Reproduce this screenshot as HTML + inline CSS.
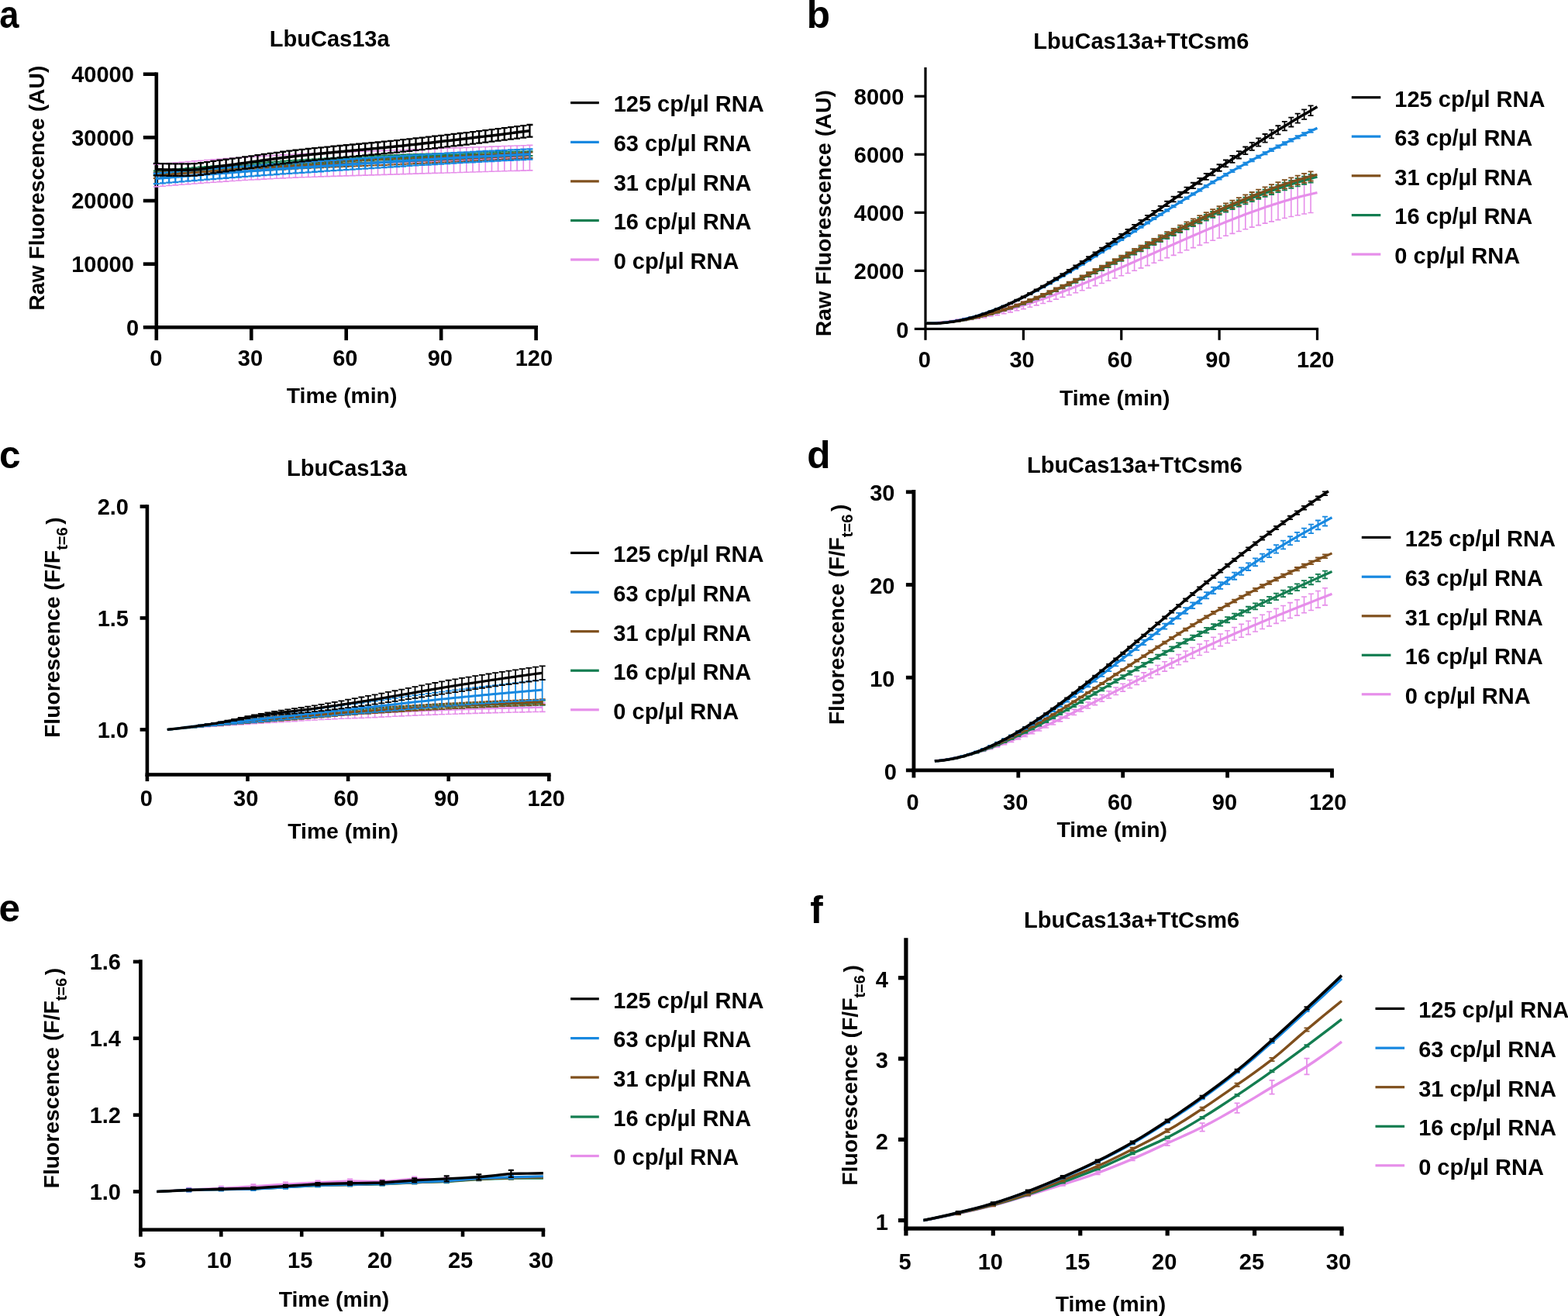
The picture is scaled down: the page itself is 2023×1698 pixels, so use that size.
<!DOCTYPE html>
<html><head><meta charset="utf-8"><title>Figure</title>
<style>
html,body{margin:0;padding:0;background:#fff;overflow:hidden;}
svg{display:block;}
text{font-family:"Liberation Sans",Arial,Helvetica,sans-serif;font-weight:bold;fill:#000;}
</style></head><body>
<svg width="2023" height="1698" viewBox="0 0 2023 1698">
<rect x="0" y="0" width="2023" height="1698" fill="#fff"/>
<text transform="translate(-0.71,36) scale(0.915,1)" font-size="49.5">a</text>
<text x="1040.83" y="35.8" font-size="49.5">b</text>
<text x="-0.93" y="604.3" font-size="49.5">c</text>
<text x="1041.27" y="604.2" font-size="49.5">d</text>
<text x="-1.43" y="1188.8" font-size="49.5">e</text>
<text x="1045.26" y="1191" font-size="49.5">f</text>
<rect x="199.5" y="93.4" width="4.6" height="331.2" fill="#000"/>
<rect x="199.5" y="420" width="494.5" height="4.6" fill="#000"/>
<rect x="184.8" y="420" width="17" height="4.6" fill="#000"/>
<rect x="184.8" y="338.35" width="17" height="4.6" fill="#000"/>
<rect x="184.8" y="256.7" width="17" height="4.6" fill="#000"/>
<rect x="184.8" y="175.05" width="17" height="4.6" fill="#000"/>
<rect x="184.8" y="93.4" width="17" height="4.6" fill="#000"/>
<rect x="199.5" y="422.3" width="4.6" height="16.8" fill="#000"/>
<rect x="321.95" y="422.3" width="4.6" height="16.8" fill="#000"/>
<rect x="444.4" y="422.3" width="4.6" height="16.8" fill="#000"/>
<rect x="566.85" y="422.3" width="4.6" height="16.8" fill="#000"/>
<rect x="689.3" y="422.3" width="4.6" height="16.8" fill="#000"/>
<text x="172.8" y="350.95" font-size="29" text-anchor="end">10000</text>
<text x="172.8" y="269.3" font-size="29" text-anchor="end">20000</text>
<text x="172.8" y="187.65" font-size="29" text-anchor="end">30000</text>
<text x="172.8" y="106" font-size="29" text-anchor="end">40000</text>
<text x="179.2" y="432.6" font-size="29" text-anchor="end">0</text>
<text x="201.3" y="472" font-size="29" text-anchor="middle">0</text>
<text x="322.9" y="472" font-size="29" text-anchor="middle">30</text>
<text x="445.3" y="472" font-size="29" text-anchor="middle">60</text>
<text x="567.8" y="472" font-size="29" text-anchor="middle">90</text>
<text x="688.9" y="472" font-size="29" text-anchor="middle">120</text>
<text x="347.86" y="60" font-size="29">LbuCas13a</text>
<text x="369.79" y="519.9" font-size="28.3">Time (min)</text>
<text transform="translate(57.1,400.7) rotate(-90)" font-size="28.3">Raw Fluorescence (AU)</text>
<path d="M201.8,212.13V240.87M197.8,212.13H205.8M197.8,240.87H205.8M209.96,211.39V240.19M205.96,211.39H213.96M205.96,240.19H213.96M218.13,210.66V239.53M214.13,210.66H222.13M214.13,239.53H222.13M226.29,209.94V238.87M222.29,209.94H230.29M222.29,238.87H230.29M234.45,209.23V238.23M230.45,209.23H238.45M230.45,238.23H238.45M242.62,208.54V237.6M238.62,208.54H246.62M238.62,237.6H246.62M250.78,207.86V236.98M246.78,207.86H254.78M246.78,236.98H254.78M258.94,207.19V236.38M254.94,207.19H262.94M254.94,236.38H262.94M267.11,206.54V235.79M263.11,206.54H271.11M263.11,235.79H271.11M275.27,205.9V235.21M271.27,205.9H279.27M271.27,235.21H279.27M283.43,205.27V234.65M279.43,205.27H287.43M279.43,234.65H287.43M291.6,204.66V234.1M287.6,204.66H295.6M287.6,234.1H295.6M299.76,204.07V233.57M295.76,204.07H303.76M295.76,233.57H303.76M307.92,203.49V233.05M303.92,203.49H311.92M303.92,233.05H311.92M316.09,202.92V232.55M312.09,202.92H320.09M312.09,232.55H320.09M324.25,202.37V232.07M320.25,202.37H328.25M320.25,232.07H328.25M332.41,201.84V231.6M328.41,201.84H336.41M328.41,231.6H336.41M340.58,201.33V231.15M336.58,201.33H344.58M336.58,231.15H344.58M348.74,200.83V230.72M344.74,200.83H352.74M344.74,230.72H352.74M356.9,200.35V230.3M352.9,200.35H360.9M352.9,230.3H360.9M365.07,199.89V229.9M361.07,199.89H369.07M361.07,229.9H369.07M373.23,199.45V229.52M369.23,199.45H377.23M369.23,229.52H377.23M381.39,199.02V229.16M377.39,199.02H385.39M377.39,229.16H385.39M389.56,198.62V228.82M385.56,198.62H393.56M385.56,228.82H393.56M397.72,198.23V228.5M393.72,198.23H401.72M393.72,228.5H401.72M405.88,197.86V228.19M401.88,197.86H409.88M401.88,228.19H409.88M414.05,197.5V227.89M410.05,197.5H418.05M410.05,227.89H418.05M422.21,197.15V227.61M418.21,197.15H426.21M418.21,227.61H426.21M430.37,196.82V227.34M426.37,196.82H434.37M426.37,227.34H434.37M438.54,196.5V227.08M434.54,196.5H442.54M434.54,227.08H442.54M446.7,196.18V226.83M442.7,196.18H450.7M442.7,226.83H450.7M454.86,195.87V226.59M450.86,195.87H458.86M450.86,226.59H458.86M463.03,195.57V226.35M459.03,195.57H467.03M459.03,226.35H467.03M471.19,195.27V226.11M467.19,195.27H475.19M467.19,226.11H475.19M479.35,194.97V225.87M475.35,194.97H483.35M475.35,225.87H483.35M487.52,194.67V225.64M483.52,194.67H491.52M483.52,225.64H491.52M495.68,194.37V225.4M491.68,194.37H499.68M491.68,225.4H499.68M503.84,194.06V225.16M499.84,194.06H507.84M499.84,225.16H507.84M512.01,193.75V224.91M508.01,193.75H516.01M508.01,224.91H516.01M520.17,193.44V224.66M516.17,193.44H524.17M516.17,224.66H524.17M528.33,193.13V224.41M524.33,193.13H532.33M524.33,224.41H532.33M536.5,192.81V224.16M532.5,192.81H540.5M532.5,224.16H540.5M544.66,192.5V223.91M540.66,192.5H548.66M540.66,223.91H548.66M552.82,192.19V223.67M548.82,192.19H556.82M548.82,223.67H556.82M560.99,191.88V223.42M556.99,191.88H564.99M556.99,223.42H564.99M569.15,191.57V223.18M565.15,191.57H573.15M565.15,223.18H573.15M577.31,191.26V222.93M573.31,191.26H581.31M573.31,222.93H581.31M585.48,190.96V222.69M581.48,190.96H589.48M581.48,222.69H589.48M593.64,190.65V222.45M589.64,190.65H597.64M589.64,222.45H597.64M601.8,190.35V222.21M597.8,190.35H605.8M597.8,222.21H605.8M609.97,190.05V221.97M605.97,190.05H613.97M605.97,221.97H613.97M618.13,189.75V221.73M614.13,189.75H622.13M614.13,221.73H622.13M626.29,189.45V221.5M622.29,189.45H630.29M622.29,221.5H630.29M634.46,189.15V221.26M630.46,189.15H638.46M630.46,221.26H638.46M642.62,188.85V221.03M638.62,188.85H646.62M638.62,221.03H646.62M650.78,188.56V220.8M646.78,188.56H654.78M646.78,220.8H654.78M658.95,188.26V220.57M654.95,188.26H662.95M654.95,220.57H662.95M667.11,187.97V220.34M663.11,187.97H671.11M663.11,220.34H671.11M675.27,187.68V220.11M671.27,187.68H679.27M671.27,220.11H679.27M683.44,187.39V219.89M679.44,187.39H687.44M679.44,219.89H687.44" stroke="#E68EEA" stroke-width="1.6" fill="none"/>
<path d="M201.8,226.5 L203.84,226.32 L205.88,226.15 L207.92,225.97 L209.96,225.79 L212,225.62 L214.05,225.44 L216.09,225.27 L218.13,225.09 L220.17,224.92 L222.21,224.75 L224.25,224.58 L226.29,224.41 L228.33,224.24 L230.37,224.07 L232.41,223.9 L234.45,223.73 L236.49,223.56 L238.54,223.4 L240.58,223.23 L242.62,223.07 L244.66,222.9 L246.7,222.74 L248.74,222.58 L250.78,222.42 L252.82,222.26 L254.86,222.1 L256.9,221.94 L258.94,221.78 L260.98,221.63 L263.03,221.47 L265.07,221.32 L267.11,221.16 L269.15,221.01 L271.19,220.86 L273.23,220.7 L275.27,220.55 L277.31,220.4 L279.35,220.25 L281.39,220.11 L283.43,219.96 L285.47,219.81 L287.51,219.67 L289.56,219.52 L291.6,219.38 L293.64,219.24 L295.68,219.1 L297.72,218.96 L299.76,218.82 L301.8,218.68 L303.84,218.54 L305.88,218.4 L307.92,218.27 L309.96,218.13 L312,218 L314.05,217.87 L316.09,217.74 L318.13,217.61 L320.17,217.48 L322.21,217.35 L324.25,217.22 L326.29,217.09 L328.33,216.97 L330.37,216.85 L332.41,216.72 L334.45,216.6 L336.5,216.48 L338.54,216.36 L340.58,216.24 L342.62,216.12 L344.66,216 L346.7,215.89 L348.74,215.77 L350.78,215.66 L352.82,215.55 L354.86,215.44 L356.9,215.33 L358.94,215.22 L360.99,215.11 L363.03,215 L365.07,214.9 L367.11,214.79 L369.15,214.69 L371.19,214.59 L373.23,214.49 L375.27,214.39 L377.31,214.29 L379.35,214.19 L381.39,214.09 L383.43,214 L385.48,213.9 L387.52,213.81 L389.56,213.72 L391.6,213.63 L393.64,213.54 L395.68,213.45 L397.72,213.36 L399.76,213.28 L401.8,213.19 L403.84,213.11 L405.88,213.02 L407.92,212.94 L409.97,212.86 L412.01,212.78 L414.05,212.7 L416.09,212.62 L418.13,212.54 L420.17,212.46 L422.21,212.38 L424.25,212.31 L426.29,212.23 L428.33,212.16 L430.37,212.08 L432.41,212.01 L434.46,211.94 L436.5,211.86 L438.54,211.79 L440.58,211.72 L442.62,211.65 L444.66,211.58 L446.7,211.51 L448.74,211.44 L450.78,211.37 L452.82,211.3 L454.86,211.23 L456.9,211.16 L458.95,211.09 L460.99,211.03 L463.03,210.96 L465.07,210.89 L467.11,210.82 L469.15,210.76 L471.19,210.69 L473.23,210.62 L475.27,210.55 L477.31,210.49 L479.35,210.42 L481.39,210.35 L483.44,210.29 L485.48,210.22 L487.52,210.15 L489.56,210.09 L491.6,210.02 L493.64,209.95 L495.68,209.88 L497.72,209.82 L499.76,209.75 L501.8,209.68 L503.84,209.61 L505.88,209.54 L507.93,209.47 L509.97,209.4 L512.01,209.33 L514.05,209.26 L516.09,209.19 L518.13,209.12 L520.17,209.05 L522.21,208.98 L524.25,208.91 L526.29,208.84 L528.33,208.77 L530.37,208.7 L532.41,208.63 L534.46,208.56 L536.5,208.49 L538.54,208.42 L540.58,208.35 L542.62,208.28 L544.66,208.21 L546.7,208.14 L548.74,208.07 L550.78,208 L552.82,207.93 L554.86,207.86 L556.9,207.79 L558.95,207.72 L560.99,207.65 L563.03,207.58 L565.07,207.51 L567.11,207.44 L569.15,207.37 L571.19,207.3 L573.23,207.24 L575.27,207.17 L577.31,207.1 L579.35,207.03 L581.39,206.96 L583.44,206.89 L585.48,206.82 L587.52,206.76 L589.56,206.69 L591.6,206.62 L593.64,206.55 L595.68,206.48 L597.72,206.42 L599.76,206.35 L601.8,206.28 L603.84,206.21 L605.88,206.14 L607.93,206.08 L609.97,206.01 L612.01,205.94 L614.05,205.87 L616.09,205.81 L618.13,205.74 L620.17,205.67 L622.21,205.61 L624.25,205.54 L626.29,205.47 L628.33,205.41 L630.38,205.34 L632.42,205.27 L634.46,205.21 L636.5,205.14 L638.54,205.07 L640.58,205.01 L642.62,204.94 L644.66,204.88 L646.7,204.81 L648.74,204.74 L650.78,204.68 L652.82,204.61 L654.87,204.55 L656.91,204.48 L658.95,204.42 L660.99,204.35 L663.03,204.29 L665.07,204.22 L667.11,204.16 L669.15,204.09 L671.19,204.03 L673.23,203.96 L675.27,203.9 L677.31,203.83 L679.36,203.77 L681.4,203.71 L683.44,203.64" stroke="#E68EEA" stroke-width="2.6" fill="none" stroke-linejoin="round" stroke-linecap="butt"/>
<path d="M201.8,220.46V226.18M197.8,220.46H205.8M197.8,226.18H205.8M209.96,219.74V225.46M205.96,219.74H213.96M205.96,225.46H213.96M218.13,219.03V224.75M214.13,219.03H222.13M214.13,224.75H222.13M226.29,218.33V224.05M222.29,218.33H230.29M222.29,224.05H230.29M234.45,217.64V223.36M230.45,217.64H238.45M230.45,223.36H238.45M242.62,216.96V222.68M238.62,216.96H246.62M238.62,222.68H246.62M250.78,216.29V222M246.78,216.29H254.78M246.78,222H254.78M258.94,215.62V221.34M254.94,215.62H262.94M254.94,221.34H262.94M267.11,214.97V220.68M263.11,214.97H271.11M263.11,220.68H271.11M275.27,214.32V220.04M271.27,214.32H279.27M271.27,220.04H279.27M283.43,213.68V219.4M279.43,213.68H287.43M279.43,219.4H287.43M291.6,213.05V218.77M287.6,213.05H295.6M287.6,218.77H295.6M299.76,212.43V218.14M295.76,212.43H303.76M295.76,218.14H303.76M307.92,211.81V217.52M303.92,211.81H311.92M303.92,217.52H311.92M316.09,211.2V216.91M312.09,211.2H320.09M312.09,216.91H320.09M324.25,210.6V216.32M320.25,210.6H328.25M320.25,216.32H328.25M332.41,210.03V215.74M328.41,210.03H336.41M328.41,215.74H336.41M340.58,209.47V215.18M336.58,209.47H344.58M336.58,215.18H344.58M348.74,208.92V214.64M344.74,208.92H352.74M344.74,214.64H352.74M356.9,208.38V214.1M352.9,208.38H360.9M352.9,214.1H360.9M365.07,207.84V213.56M361.07,207.84H369.07M361.07,213.56H369.07M373.23,207.3V213.01M369.23,207.3H377.23M369.23,213.01H377.23M381.39,206.76V212.48M377.39,206.76H385.39M377.39,212.48H385.39M389.56,206.23V211.94M385.56,206.23H393.56M385.56,211.94H393.56M397.72,205.7V211.41M393.72,205.7H401.72M393.72,211.41H401.72M405.88,205.18V210.89M401.88,205.18H409.88M401.88,210.89H409.88M414.05,204.67V210.39M410.05,204.67H418.05M410.05,210.39H418.05M422.21,204.17V209.89M418.21,204.17H426.21M418.21,209.89H426.21M430.37,203.69V209.41M426.37,203.69H434.37M426.37,209.41H434.37M438.54,203.22V208.94M434.54,203.22H442.54M434.54,208.94H442.54M446.7,202.78V208.49M442.7,202.78H450.7M442.7,208.49H450.7M454.86,202.35V208.06M450.86,202.35H458.86M450.86,208.06H458.86M463.03,201.94V207.65M459.03,201.94H467.03M459.03,207.65H467.03M471.19,201.56V207.27M467.19,201.56H475.19M467.19,207.27H475.19M479.35,201.2V206.91M475.35,201.2H483.35M475.35,206.91H483.35M487.52,200.87V206.58M483.52,200.87H491.52M483.52,206.58H491.52M495.68,200.55V206.26M491.68,200.55H499.68M491.68,206.26H499.68M503.84,200.24V205.95M499.84,200.24H507.84M499.84,205.95H507.84M512.01,199.93V205.64M508.01,199.93H516.01M508.01,205.64H516.01M520.17,199.62V205.34M516.17,199.62H524.17M516.17,205.34H524.17M528.33,199.32V205.04M524.33,199.32H532.33M524.33,205.04H532.33M536.5,199.03V204.74M532.5,199.03H540.5M532.5,204.74H540.5M544.66,198.74V204.46M540.66,198.74H548.66M540.66,204.46H548.66M552.82,198.46V204.17M548.82,198.46H556.82M548.82,204.17H556.82M560.99,198.18V203.9M556.99,198.18H564.99M556.99,203.9H564.99M569.15,197.92V203.63M565.15,197.92H573.15M565.15,203.63H573.15M577.31,197.66V203.37M573.31,197.66H581.31M573.31,203.37H581.31M585.48,197.41V203.12M581.48,197.41H589.48M581.48,203.12H589.48M593.64,197.17V202.88M589.64,197.17H597.64M589.64,202.88H597.64M601.8,196.94V202.65M597.8,196.94H605.8M597.8,202.65H605.8M609.97,196.72V202.43M605.97,196.72H613.97M605.97,202.43H613.97M618.13,196.51V202.22M614.13,196.51H622.13M614.13,202.22H622.13M626.29,196.31V202.03M622.29,196.31H630.29M622.29,202.03H630.29M634.46,196.13V201.84M630.46,196.13H638.46M630.46,201.84H638.46M642.62,195.96V201.67M638.62,195.96H646.62M638.62,201.67H646.62M650.78,195.8V201.51M646.78,195.8H654.78M646.78,201.51H654.78M658.95,195.65V201.37M654.95,195.65H662.95M654.95,201.37H662.95M667.11,195.52V201.24M663.11,195.52H671.11M663.11,201.24H671.11M675.27,195.41V201.13M671.27,195.41H679.27M671.27,201.13H679.27M683.44,195.31V201.03M679.44,195.31H687.44M679.44,201.03H687.44" stroke="#137D50" stroke-width="2" fill="none"/>
<path d="M201.8,223.32 L203.84,223.14 L205.88,222.96 L207.92,222.78 L209.96,222.6 L212,222.42 L214.05,222.25 L216.09,222.07 L218.13,221.89 L220.17,221.72 L222.21,221.54 L224.25,221.37 L226.29,221.19 L228.33,221.02 L230.37,220.85 L232.41,220.67 L234.45,220.5 L236.49,220.33 L238.54,220.16 L240.58,219.99 L242.62,219.82 L244.66,219.65 L246.7,219.48 L248.74,219.31 L250.78,219.15 L252.82,218.98 L254.86,218.81 L256.9,218.65 L258.94,218.48 L260.98,218.32 L263.03,218.15 L265.07,217.99 L267.11,217.83 L269.15,217.66 L271.19,217.5 L273.23,217.34 L275.27,217.18 L277.31,217.02 L279.35,216.86 L281.39,216.7 L283.43,216.54 L285.47,216.38 L287.51,216.23 L289.56,216.07 L291.6,215.91 L293.64,215.75 L295.68,215.6 L297.72,215.44 L299.76,215.28 L301.8,215.13 L303.84,214.97 L305.88,214.82 L307.92,214.66 L309.96,214.51 L312,214.36 L314.05,214.21 L316.09,214.06 L318.13,213.91 L320.17,213.76 L322.21,213.61 L324.25,213.46 L326.29,213.32 L328.33,213.17 L330.37,213.03 L332.41,212.88 L334.45,212.74 L336.5,212.6 L338.54,212.46 L340.58,212.32 L342.62,212.19 L344.66,212.05 L346.7,211.92 L348.74,211.78 L350.78,211.65 L352.82,211.51 L354.86,211.38 L356.9,211.24 L358.94,211.1 L360.99,210.97 L363.03,210.83 L365.07,210.7 L367.11,210.56 L369.15,210.43 L371.19,210.29 L373.23,210.16 L375.27,210.02 L377.31,209.89 L379.35,209.75 L381.39,209.62 L383.43,209.48 L385.48,209.35 L387.52,209.22 L389.56,209.08 L391.6,208.95 L393.64,208.82 L395.68,208.69 L397.72,208.56 L399.76,208.43 L401.8,208.3 L403.84,208.17 L405.88,208.04 L407.92,207.91 L409.97,207.78 L412.01,207.65 L414.05,207.53 L416.09,207.4 L418.13,207.28 L420.17,207.15 L422.21,207.03 L424.25,206.91 L426.29,206.79 L428.33,206.67 L430.37,206.55 L432.41,206.43 L434.46,206.31 L436.5,206.2 L438.54,206.08 L440.58,205.97 L442.62,205.86 L444.66,205.74 L446.7,205.63 L448.74,205.52 L450.78,205.42 L452.82,205.31 L454.86,205.2 L456.9,205.1 L458.95,205 L460.99,204.9 L463.03,204.8 L465.07,204.7 L467.11,204.6 L469.15,204.51 L471.19,204.41 L473.23,204.32 L475.27,204.23 L477.31,204.14 L479.35,204.05 L481.39,203.97 L483.44,203.89 L485.48,203.8 L487.52,203.72 L489.56,203.64 L491.6,203.56 L493.64,203.49 L495.68,203.41 L497.72,203.33 L499.76,203.25 L501.8,203.17 L503.84,203.09 L505.88,203.02 L507.93,202.94 L509.97,202.86 L512.01,202.79 L514.05,202.71 L516.09,202.63 L518.13,202.56 L520.17,202.48 L522.21,202.41 L524.25,202.33 L526.29,202.26 L528.33,202.18 L530.37,202.11 L532.41,202.03 L534.46,201.96 L536.5,201.89 L538.54,201.81 L540.58,201.74 L542.62,201.67 L544.66,201.6 L546.7,201.53 L548.74,201.46 L550.78,201.39 L552.82,201.32 L554.86,201.25 L556.9,201.18 L558.95,201.11 L560.99,201.04 L563.03,200.97 L565.07,200.91 L567.11,200.84 L569.15,200.77 L571.19,200.71 L573.23,200.64 L575.27,200.58 L577.31,200.52 L579.35,200.45 L581.39,200.39 L583.44,200.33 L585.48,200.27 L587.52,200.2 L589.56,200.14 L591.6,200.08 L593.64,200.02 L595.68,199.97 L597.72,199.91 L599.76,199.85 L601.8,199.79 L603.84,199.74 L605.88,199.68 L607.93,199.63 L609.97,199.57 L612.01,199.52 L614.05,199.47 L616.09,199.42 L618.13,199.37 L620.17,199.32 L622.21,199.27 L624.25,199.22 L626.29,199.17 L628.33,199.12 L630.38,199.08 L632.42,199.03 L634.46,198.99 L636.5,198.94 L638.54,198.9 L640.58,198.86 L642.62,198.81 L644.66,198.77 L646.7,198.73 L648.74,198.69 L650.78,198.66 L652.82,198.62 L654.87,198.58 L656.91,198.55 L658.95,198.51 L660.99,198.48 L663.03,198.45 L665.07,198.41 L667.11,198.38 L669.15,198.35 L671.19,198.32 L673.23,198.3 L675.27,198.27 L677.31,198.24 L679.36,198.22 L681.4,198.19 L683.44,198.17" stroke="#137D50" stroke-width="3.4" fill="none" stroke-linejoin="round" stroke-linecap="butt"/>
<path d="M201.8,222.67V230.01M197.8,222.67H205.8M197.8,230.01H205.8M209.96,221.99V229.34M205.96,221.99H213.96M205.96,229.34H213.96M218.13,221.33V228.68M214.13,221.33H222.13M214.13,228.68H222.13M226.29,220.68V228.03M222.29,220.68H230.29M222.29,228.03H230.29M234.45,220.04V227.39M230.45,220.04H238.45M230.45,227.39H238.45M242.62,219.41V226.75M238.62,219.41H246.62M238.62,226.75H246.62M250.78,218.78V226.13M246.78,218.78H254.78M246.78,226.13H254.78M258.94,218.17V225.52M254.94,218.17H262.94M254.94,225.52H262.94M267.11,217.57V224.92M263.11,217.57H271.11M263.11,224.92H271.11M275.27,216.99V224.33M271.27,216.99H279.27M271.27,224.33H279.27M283.43,216.41V223.76M279.43,216.41H287.43M279.43,223.76H287.43M291.6,215.84V223.19M287.6,215.84H295.6M287.6,223.19H295.6M299.76,215.29V222.64M295.76,215.29H303.76M295.76,222.64H303.76M307.92,214.74V222.09M303.92,214.74H311.92M303.92,222.09H311.92M316.09,214.21V221.56M312.09,214.21H320.09M312.09,221.56H320.09M324.25,213.7V221.04M320.25,213.7H328.25M320.25,221.04H328.25M332.41,213.19V220.54M328.41,213.19H336.41M328.41,220.54H336.41M340.58,212.7V220.04M336.58,212.7H344.58M336.58,220.04H344.58M348.74,212.21V219.56M344.74,212.21H352.74M344.74,219.56H352.74M356.9,211.75V219.09M352.9,211.75H360.9M352.9,219.09H360.9M365.07,211.29V218.64M361.07,211.29H369.07M361.07,218.64H369.07M373.23,210.85V218.2M369.23,210.85H377.23M369.23,218.2H377.23M381.39,210.42V217.77M377.39,210.42H385.39M377.39,217.77H385.39M389.56,210.01V217.35M385.56,210.01H393.56M385.56,217.35H393.56M397.72,209.61V216.96M393.72,209.61H401.72M393.72,216.96H401.72M405.88,209.24V216.59M401.88,209.24H409.88M401.88,216.59H409.88M414.05,208.88V216.22M410.05,208.88H418.05M410.05,216.22H418.05M422.21,208.53V215.87M418.21,208.53H426.21M418.21,215.87H426.21M430.37,208.19V215.54M426.37,208.19H434.37M426.37,215.54H434.37M438.54,207.86V215.21M434.54,207.86H442.54M434.54,215.21H442.54M446.7,207.53V214.88M442.7,207.53H450.7M442.7,214.88H450.7M454.86,207.21V214.56M450.86,207.21H458.86M450.86,214.56H458.86M463.03,206.89V214.24M459.03,206.89H467.03M459.03,214.24H467.03M471.19,206.57V213.92M467.19,206.57H475.19M467.19,213.92H475.19M479.35,206.25V213.6M475.35,206.25H483.35M475.35,213.6H483.35M487.52,205.92V213.27M483.52,205.92H491.52M483.52,213.27H491.52M495.68,205.59V212.93M491.68,205.59H499.68M491.68,212.93H499.68M503.84,205.24V212.59M499.84,205.24H507.84M499.84,212.59H507.84M512.01,204.89V212.23M508.01,204.89H516.01M508.01,212.23H516.01M520.17,204.52V211.87M516.17,204.52H524.17M516.17,211.87H524.17M528.33,204.15V211.49M524.33,204.15H532.33M524.33,211.49H532.33M536.5,203.77V211.12M532.5,203.77H540.5M532.5,211.12H540.5M544.66,203.39V210.74M540.66,203.39H548.66M540.66,210.74H548.66M552.82,203.01V210.36M548.82,203.01H556.82M548.82,210.36H556.82M560.99,202.63V209.98M556.99,202.63H564.99M556.99,209.98H564.99M569.15,202.24V209.59M565.15,202.24H573.15M565.15,209.59H573.15M577.31,201.85V209.2M573.31,201.85H581.31M573.31,209.2H581.31M585.48,201.46V208.81M581.48,201.46H589.48M581.48,208.81H589.48M593.64,201.07V208.41M589.64,201.07H597.64M589.64,208.41H597.64M601.8,200.67V208.02M597.8,200.67H605.8M597.8,208.02H605.8M609.97,200.27V207.62M605.97,200.27H613.97M605.97,207.62H613.97M618.13,199.86V207.21M614.13,199.86H622.13M614.13,207.21H622.13M626.29,199.46V206.81M622.29,199.46H630.29M622.29,206.81H630.29M634.46,199.05V206.4M630.46,199.05H638.46M630.46,206.4H638.46M642.62,198.64V205.99M638.62,198.64H646.62M638.62,205.99H646.62M650.78,198.22V205.57M646.78,198.22H654.78M646.78,205.57H654.78M658.95,197.81V205.15M654.95,197.81H662.95M654.95,205.15H662.95M667.11,197.39V204.73M663.11,197.39H671.11M663.11,204.73H671.11M675.27,196.96V204.31M671.27,196.96H679.27M671.27,204.31H679.27M683.44,196.54V203.89M679.44,196.54H687.44M679.44,203.89H687.44" stroke="#7F4F1C" stroke-width="2" fill="none"/>
<path d="M201.8,226.34 L203.84,226.17 L205.88,226 L207.92,225.84 L209.96,225.67 L212,225.5 L214.05,225.34 L216.09,225.17 L218.13,225.01 L220.17,224.84 L222.21,224.68 L224.25,224.52 L226.29,224.35 L228.33,224.19 L230.37,224.03 L232.41,223.87 L234.45,223.71 L236.49,223.55 L238.54,223.39 L240.58,223.24 L242.62,223.08 L244.66,222.92 L246.7,222.77 L248.74,222.61 L250.78,222.46 L252.82,222.3 L254.86,222.15 L256.9,222 L258.94,221.85 L260.98,221.7 L263.03,221.55 L265.07,221.4 L267.11,221.25 L269.15,221.1 L271.19,220.95 L273.23,220.81 L275.27,220.66 L277.31,220.51 L279.35,220.37 L281.39,220.23 L283.43,220.08 L285.47,219.94 L287.51,219.8 L289.56,219.66 L291.6,219.52 L293.64,219.38 L295.68,219.24 L297.72,219.1 L299.76,218.96 L301.8,218.83 L303.84,218.69 L305.88,218.55 L307.92,218.42 L309.96,218.29 L312,218.15 L314.05,218.02 L316.09,217.89 L318.13,217.76 L320.17,217.63 L322.21,217.5 L324.25,217.37 L326.29,217.24 L328.33,217.12 L330.37,216.99 L332.41,216.86 L334.45,216.74 L336.5,216.61 L338.54,216.49 L340.58,216.37 L342.62,216.25 L344.66,216.13 L346.7,216.01 L348.74,215.89 L350.78,215.77 L352.82,215.65 L354.86,215.54 L356.9,215.42 L358.94,215.3 L360.99,215.19 L363.03,215.08 L365.07,214.96 L367.11,214.85 L369.15,214.74 L371.19,214.63 L373.23,214.52 L375.27,214.41 L377.31,214.31 L379.35,214.2 L381.39,214.09 L383.43,213.99 L385.48,213.88 L387.52,213.78 L389.56,213.68 L391.6,213.58 L393.64,213.48 L395.68,213.38 L397.72,213.29 L399.76,213.19 L401.8,213.1 L403.84,213 L405.88,212.91 L407.92,212.82 L409.97,212.73 L412.01,212.64 L414.05,212.55 L416.09,212.46 L418.13,212.37 L420.17,212.29 L422.21,212.2 L424.25,212.11 L426.29,212.03 L428.33,211.95 L430.37,211.86 L432.41,211.78 L434.46,211.7 L436.5,211.61 L438.54,211.53 L440.58,211.45 L442.62,211.37 L444.66,211.29 L446.7,211.21 L448.74,211.13 L450.78,211.05 L452.82,210.97 L454.86,210.89 L456.9,210.81 L458.95,210.73 L460.99,210.65 L463.03,210.57 L465.07,210.49 L467.11,210.41 L469.15,210.33 L471.19,210.25 L473.23,210.17 L475.27,210.09 L477.31,210 L479.35,209.92 L481.39,209.84 L483.44,209.76 L485.48,209.68 L487.52,209.6 L489.56,209.51 L491.6,209.43 L493.64,209.34 L495.68,209.26 L497.72,209.18 L499.76,209.09 L501.8,209 L503.84,208.92 L505.88,208.83 L507.93,208.74 L509.97,208.65 L512.01,208.56 L514.05,208.47 L516.09,208.38 L518.13,208.28 L520.17,208.19 L522.21,208.1 L524.25,208.01 L526.29,207.91 L528.33,207.82 L530.37,207.73 L532.41,207.63 L534.46,207.54 L536.5,207.44 L538.54,207.35 L540.58,207.26 L542.62,207.16 L544.66,207.07 L546.7,206.97 L548.74,206.88 L550.78,206.78 L552.82,206.69 L554.86,206.59 L556.9,206.49 L558.95,206.4 L560.99,206.3 L563.03,206.21 L565.07,206.11 L567.11,206.01 L569.15,205.92 L571.19,205.82 L573.23,205.72 L575.27,205.62 L577.31,205.53 L579.35,205.43 L581.39,205.33 L583.44,205.23 L585.48,205.13 L587.52,205.04 L589.56,204.94 L591.6,204.84 L593.64,204.74 L595.68,204.64 L597.72,204.54 L599.76,204.44 L601.8,204.34 L603.84,204.24 L605.88,204.14 L607.93,204.04 L609.97,203.94 L612.01,203.84 L614.05,203.74 L616.09,203.64 L618.13,203.54 L620.17,203.44 L622.21,203.34 L624.25,203.23 L626.29,203.13 L628.33,203.03 L630.38,202.93 L632.42,202.83 L634.46,202.72 L636.5,202.62 L638.54,202.52 L640.58,202.42 L642.62,202.31 L644.66,202.21 L646.7,202.11 L648.74,202 L650.78,201.9 L652.82,201.79 L654.87,201.69 L656.91,201.59 L658.95,201.48 L660.99,201.38 L663.03,201.27 L665.07,201.17 L667.11,201.06 L669.15,200.96 L671.19,200.85 L673.23,200.74 L675.27,200.64 L677.31,200.53 L679.36,200.43 L681.4,200.32 L683.44,200.21" stroke="#7F4F1C" stroke-width="3.2" fill="none" stroke-linejoin="round" stroke-linecap="butt"/>
<path d="M201.8,223.73V237.12M197.8,223.73H205.8M197.8,237.12H205.8M209.96,223.02V236.41M205.96,223.02H213.96M205.96,236.41H213.96M218.13,222.33V235.72M214.13,222.33H222.13M214.13,235.72H222.13M226.29,221.63V235.03M222.29,221.63H230.29M222.29,235.03H230.29M234.45,220.95V234.34M230.45,220.95H238.45M230.45,234.34H238.45M242.62,220.27V233.66M238.62,220.27H246.62M238.62,233.66H246.62M250.78,219.6V233M246.78,219.6H254.78M246.78,233H254.78M258.94,218.94V232.33M254.94,218.94H262.94M254.94,232.33H262.94M267.11,218.29V231.68M263.11,218.29H271.11M263.11,231.68H271.11M275.27,217.64V231.03M271.27,217.64H279.27M271.27,231.03H279.27M283.43,217V230.39M279.43,217H287.43M279.43,230.39H287.43M291.6,216.37V229.76M287.6,216.37H295.6M287.6,229.76H295.6M299.76,215.75V229.14M295.76,215.75H303.76M295.76,229.14H303.76M307.92,215.13V228.52M303.92,215.13H311.92M303.92,228.52H311.92M316.09,214.53V227.92M312.09,214.53H320.09M312.09,227.92H320.09M324.25,213.93V227.32M320.25,213.93H328.25M320.25,227.32H328.25M332.41,213.34V226.73M328.41,213.34H336.41M328.41,226.73H336.41M340.58,212.76V226.15M336.58,212.76H344.58M336.58,226.15H344.58M348.74,212.19V225.58M344.74,212.19H352.74M344.74,225.58H352.74M356.9,211.63V225.02M352.9,211.63H360.9M352.9,225.02H360.9M365.07,211.07V224.46M361.07,211.07H369.07M361.07,224.46H369.07M373.23,210.52V223.91M369.23,210.52H377.23M369.23,223.91H377.23M381.39,209.98V223.37M377.39,209.98H385.39M377.39,223.37H385.39M389.56,209.44V222.83M385.56,209.44H393.56M385.56,222.83H393.56M397.72,208.91V222.3M393.72,208.91H401.72M393.72,222.3H401.72M405.88,208.38V221.77M401.88,208.38H409.88M401.88,221.77H409.88M414.05,207.85V221.24M410.05,207.85H418.05M410.05,221.24H418.05M422.21,207.33V220.72M418.21,207.33H426.21M418.21,220.72H426.21M430.37,206.81V220.2M426.37,206.81H434.37M426.37,220.2H434.37M438.54,206.29V219.68M434.54,206.29H442.54M434.54,219.68H442.54M446.7,205.76V219.15M442.7,205.76H450.7M442.7,219.15H450.7M454.86,205.24V218.63M450.86,205.24H458.86M450.86,218.63H458.86M463.03,204.72V218.11M459.03,204.72H467.03M459.03,218.11H467.03M471.19,204.2V217.59M467.19,204.2H475.19M467.19,217.59H475.19M479.35,203.67V217.06M475.35,203.67H483.35M475.35,217.06H483.35M487.52,203.15V216.54M483.52,203.15H491.52M483.52,216.54H491.52M495.68,202.63V216.02M491.68,202.63H499.68M491.68,216.02H499.68M503.84,202.11V215.5M499.84,202.11H507.84M499.84,215.5H507.84M512.01,201.6V214.99M508.01,201.6H516.01M508.01,214.99H516.01M520.17,201.09V214.48M516.17,201.09H524.17M516.17,214.48H524.17M528.33,200.58V213.97M524.33,200.58H532.33M524.33,213.97H532.33M536.5,200.08V213.47M532.5,200.08H540.5M532.5,213.47H540.5M544.66,199.58V212.97M540.66,199.58H548.66M540.66,212.97H548.66M552.82,199.09V212.48M548.82,199.09H556.82M548.82,212.48H556.82M560.99,198.6V211.99M556.99,198.6H564.99M556.99,211.99H564.99M569.15,198.12V211.51M565.15,198.12H573.15M565.15,211.51H573.15M577.31,197.65V211.04M573.31,197.65H581.31M573.31,211.04H581.31M585.48,197.19V210.58M581.48,197.19H589.48M581.48,210.58H589.48M593.64,196.74V210.13M589.64,196.74H597.64M589.64,210.13H597.64M601.8,196.29V209.68M597.8,196.29H605.8M597.8,209.68H605.8M609.97,195.86V209.25M605.97,195.86H613.97M605.97,209.25H613.97M618.13,195.43V208.82M614.13,195.43H622.13M614.13,208.82H622.13M626.29,195.01V208.4M622.29,195.01H630.29M622.29,208.4H630.29M634.46,194.6V207.99M630.46,194.6H638.46M630.46,207.99H638.46M642.62,194.2V207.59M638.62,194.2H646.62M638.62,207.59H646.62M650.78,193.81V207.2M646.78,193.81H654.78M646.78,207.2H654.78M658.95,193.42V206.81M654.95,193.42H662.95M654.95,206.81H662.95M667.11,193.04V206.43M663.11,193.04H671.11M663.11,206.43H671.11M675.27,192.66V206.05M671.27,192.66H679.27M671.27,206.05H679.27M683.44,192.29V205.68M679.44,192.29H687.44M679.44,205.68H687.44" stroke="#1788E0" stroke-width="2.3" fill="none"/>
<path d="M201.8,230.42 L203.84,230.25 L205.88,230.07 L207.92,229.89 L209.96,229.72 L212,229.54 L214.05,229.37 L216.09,229.19 L218.13,229.02 L220.17,228.85 L222.21,228.67 L224.25,228.5 L226.29,228.33 L228.33,228.16 L230.37,227.99 L232.41,227.82 L234.45,227.65 L236.49,227.48 L238.54,227.31 L240.58,227.14 L242.62,226.97 L244.66,226.8 L246.7,226.63 L248.74,226.47 L250.78,226.3 L252.82,226.13 L254.86,225.97 L256.9,225.8 L258.94,225.64 L260.98,225.47 L263.03,225.31 L265.07,225.15 L267.11,224.98 L269.15,224.82 L271.19,224.66 L273.23,224.5 L275.27,224.34 L277.31,224.18 L279.35,224.02 L281.39,223.86 L283.43,223.7 L285.47,223.54 L287.51,223.38 L289.56,223.22 L291.6,223.07 L293.64,222.91 L295.68,222.75 L297.72,222.6 L299.76,222.44 L301.8,222.29 L303.84,222.14 L305.88,221.98 L307.92,221.83 L309.96,221.68 L312,221.52 L314.05,221.37 L316.09,221.22 L318.13,221.07 L320.17,220.92 L322.21,220.77 L324.25,220.62 L326.29,220.48 L328.33,220.33 L330.37,220.18 L332.41,220.04 L334.45,219.89 L336.5,219.74 L338.54,219.6 L340.58,219.46 L342.62,219.31 L344.66,219.17 L346.7,219.03 L348.74,218.89 L350.78,218.74 L352.82,218.6 L354.86,218.46 L356.9,218.32 L358.94,218.18 L360.99,218.04 L363.03,217.91 L365.07,217.77 L367.11,217.63 L369.15,217.49 L371.19,217.36 L373.23,217.22 L375.27,217.08 L377.31,216.95 L379.35,216.81 L381.39,216.68 L383.43,216.54 L385.48,216.41 L387.52,216.27 L389.56,216.14 L391.6,216 L393.64,215.87 L395.68,215.74 L397.72,215.6 L399.76,215.47 L401.8,215.34 L403.84,215.21 L405.88,215.08 L407.92,214.94 L409.97,214.81 L412.01,214.68 L414.05,214.55 L416.09,214.42 L418.13,214.29 L420.17,214.16 L422.21,214.02 L424.25,213.89 L426.29,213.76 L428.33,213.63 L430.37,213.5 L432.41,213.37 L434.46,213.24 L436.5,213.11 L438.54,212.98 L440.58,212.85 L442.62,212.72 L444.66,212.59 L446.7,212.46 L448.74,212.33 L450.78,212.2 L452.82,212.07 L454.86,211.94 L456.9,211.81 L458.95,211.68 L460.99,211.55 L463.03,211.41 L465.07,211.28 L467.11,211.15 L469.15,211.02 L471.19,210.89 L473.23,210.76 L475.27,210.63 L477.31,210.5 L479.35,210.37 L481.39,210.24 L483.44,210.11 L485.48,209.98 L487.52,209.85 L489.56,209.72 L491.6,209.59 L493.64,209.46 L495.68,209.33 L497.72,209.2 L499.76,209.07 L501.8,208.94 L503.84,208.81 L505.88,208.68 L507.93,208.55 L509.97,208.42 L512.01,208.29 L514.05,208.17 L516.09,208.04 L518.13,207.91 L520.17,207.78 L522.21,207.66 L524.25,207.53 L526.29,207.4 L528.33,207.27 L530.37,207.15 L532.41,207.02 L534.46,206.9 L536.5,206.77 L538.54,206.65 L540.58,206.52 L542.62,206.4 L544.66,206.27 L546.7,206.15 L548.74,206.03 L550.78,205.9 L552.82,205.78 L554.86,205.66 L556.9,205.54 L558.95,205.42 L560.99,205.3 L563.03,205.18 L565.07,205.06 L567.11,204.94 L569.15,204.82 L571.19,204.7 L573.23,204.58 L575.27,204.46 L577.31,204.35 L579.35,204.23 L581.39,204.12 L583.44,204 L585.48,203.89 L587.52,203.77 L589.56,203.66 L591.6,203.54 L593.64,203.43 L595.68,203.32 L597.72,203.21 L599.76,203.1 L601.8,202.99 L603.84,202.88 L605.88,202.77 L607.93,202.66 L609.97,202.55 L612.01,202.45 L614.05,202.34 L616.09,202.23 L618.13,202.13 L620.17,202.02 L622.21,201.92 L624.25,201.81 L626.29,201.71 L628.33,201.61 L630.38,201.5 L632.42,201.4 L634.46,201.3 L636.5,201.2 L638.54,201.1 L640.58,201 L642.62,200.9 L644.66,200.8 L646.7,200.7 L648.74,200.6 L650.78,200.5 L652.82,200.4 L654.87,200.31 L656.91,200.21 L658.95,200.11 L660.99,200.02 L663.03,199.92 L665.07,199.83 L667.11,199.73 L669.15,199.64 L671.19,199.54 L673.23,199.45 L675.27,199.36 L677.31,199.26 L679.36,199.17 L681.4,199.08 L683.44,198.99" stroke="#1788E0" stroke-width="3.4" fill="none" stroke-linejoin="round" stroke-linecap="butt"/>
<path d="M201.8,210.83V226.34M197.8,210.83H205.8M197.8,226.34H205.8M209.96,211.11V226.62M205.96,211.11H213.96M205.96,226.62H213.96M218.13,211.27V226.79M214.13,211.27H222.13M214.13,226.79H222.13M226.29,211.36V226.87M222.29,211.36H230.29M222.29,226.87H230.29M234.45,211.39V226.91M230.45,211.39H238.45M230.45,226.91H238.45M242.62,211.4V226.91M238.62,211.4H246.62M238.62,226.91H246.62M250.78,211.07V226.59M246.78,211.07H254.78M246.78,226.59H254.78M258.94,210.24V225.75M254.94,210.24H262.94M254.94,225.75H262.94M267.11,209.1V224.61M263.11,209.1H271.11M263.11,224.61H271.11M275.27,207.86V223.38M271.27,207.86H279.27M271.27,223.38H279.27M283.43,206.74V222.26M279.43,206.74H287.43M279.43,222.26H287.43M291.6,205.73V221.24M287.6,205.73H295.6M287.6,221.24H295.6M299.76,204.66V220.18M295.76,204.66H303.76M295.76,220.18H303.76M307.92,203.56V219.08M303.92,203.56H311.92M303.92,219.08H311.92M316.09,202.44V217.95M312.09,202.44H320.09M312.09,217.95H320.09M324.25,201.3V216.81M320.25,201.3H328.25M320.25,216.81H328.25M332.41,200.15V215.67M328.41,200.15H336.41M328.41,215.67H336.41M340.58,199.02V214.53M336.58,199.02H344.58M336.58,214.53H344.58M348.74,197.89V213.41M344.74,197.89H352.74M344.74,213.41H352.74M356.9,196.79V212.31M352.9,196.79H360.9M352.9,212.31H360.9M365.07,195.73V211.25M361.07,195.73H369.07M361.07,211.25H369.07M373.23,194.72V210.23M369.23,194.72H377.23M369.23,210.23H377.23M381.39,193.76V209.28M377.39,193.76H385.39M377.39,209.28H385.39M389.56,192.86V208.37M385.56,192.86H393.56M385.56,208.37H393.56M397.72,191.98V207.5M393.72,191.98H401.72M393.72,207.5H401.72M405.88,191.14V206.66M401.88,191.14H409.88M401.88,206.66H409.88M414.05,190.33V205.84M410.05,190.33H418.05M410.05,205.84H418.05M422.21,189.54V205.05M418.21,189.54H426.21M418.21,205.05H426.21M430.37,188.77V204.28M426.37,188.77H434.37M426.37,204.28H434.37M438.54,188.01V203.52M434.54,188.01H442.54M434.54,203.52H442.54M446.7,187.25V202.77M442.7,187.25H450.7M442.7,202.77H450.7M454.86,186.51V202.02M450.86,186.51H458.86M450.86,202.02H458.86M463.03,185.76V201.27M459.03,185.76H467.03M459.03,201.27H467.03M471.19,185.01V200.52M467.19,185.01H475.19M467.19,200.52H475.19M479.35,184.25V199.77M475.35,184.25H483.35M475.35,199.77H483.35M487.52,183.48V198.99M483.52,183.48H491.52M483.52,198.99H491.52M495.68,182.69V198.21M491.68,182.69H499.68M491.68,198.21H499.68M503.84,181.88V197.39M499.84,181.88H507.84M499.84,197.39H507.84M512.01,181.05V196.56M508.01,181.05H516.01M508.01,196.56H516.01M520.17,180.18V195.7M516.17,180.18H524.17M516.17,195.7H524.17M528.33,179.31V194.82M524.33,179.31H532.33M524.33,194.82H532.33M536.5,178.42V193.94M532.5,178.42H540.5M532.5,193.94H540.5M544.66,177.53V193.04M540.66,177.53H548.66M540.66,193.04H548.66M552.82,176.63V192.14M548.82,176.63H556.82M548.82,192.14H556.82M560.99,175.72V191.23M556.99,175.72H564.99M556.99,191.23H564.99M569.15,174.8V190.31M565.15,174.8H573.15M565.15,190.31H573.15M577.31,173.87V189.38M573.31,173.87H581.31M573.31,189.38H581.31M585.48,172.93V188.45M581.48,172.93H589.48M581.48,188.45H589.48M593.64,171.99V187.5M589.64,171.99H597.64M589.64,187.5H597.64M601.8,171.03V186.55M597.8,171.03H605.8M597.8,186.55H605.8M609.97,170.07V185.59M605.97,170.07H613.97M605.97,185.59H613.97M618.13,169.1V184.61M614.13,169.1H622.13M614.13,184.61H622.13M626.29,168.12V183.63M622.29,168.12H630.29M622.29,183.63H630.29M634.46,167.13V182.65M630.46,167.13H638.46M630.46,182.65H638.46M642.62,166.13V181.65M638.62,166.13H646.62M638.62,181.65H646.62M650.78,165.13V180.64M646.78,165.13H654.78M646.78,180.64H654.78M658.95,164.11V179.63M654.95,164.11H662.95M654.95,179.63H662.95M667.11,163.09V178.6M663.11,163.09H671.11M663.11,178.6H671.11M675.27,162.06V177.57M671.27,162.06H679.27M671.27,177.57H679.27M683.44,161.02V176.53M679.44,161.02H687.44M679.44,176.53H687.44" stroke="#000000" stroke-width="2.3" fill="none"/>
<path d="M201.8,218.58 L203.84,218.66 L205.88,218.74 L207.92,218.8 L209.96,218.86 L212,218.91 L214.05,218.96 L216.09,219 L218.13,219.03 L220.17,219.06 L222.21,219.08 L224.25,219.1 L226.29,219.12 L228.33,219.13 L230.37,219.14 L232.41,219.15 L234.45,219.15 L236.49,219.15 L238.54,219.15 L240.58,219.15 L242.62,219.15 L244.66,219.13 L246.7,219.07 L248.74,218.97 L250.78,218.83 L252.82,218.66 L254.86,218.46 L256.9,218.24 L258.94,217.99 L260.98,217.73 L263.03,217.45 L265.07,217.15 L267.11,216.85 L269.15,216.54 L271.19,216.23 L273.23,215.92 L275.27,215.62 L277.31,215.32 L279.35,215.03 L281.39,214.76 L283.43,214.5 L285.47,214.25 L287.51,214 L289.56,213.74 L291.6,213.48 L293.64,213.22 L295.68,212.96 L297.72,212.69 L299.76,212.42 L301.8,212.15 L303.84,211.87 L305.88,211.6 L307.92,211.32 L309.96,211.04 L312,210.76 L314.05,210.48 L316.09,210.2 L318.13,209.91 L320.17,209.63 L322.21,209.34 L324.25,209.06 L326.29,208.77 L328.33,208.48 L330.37,208.2 L332.41,207.91 L334.45,207.63 L336.5,207.34 L338.54,207.06 L340.58,206.77 L342.62,206.49 L344.66,206.21 L346.7,205.93 L348.74,205.65 L350.78,205.37 L352.82,205.1 L354.86,204.82 L356.9,204.55 L358.94,204.28 L360.99,204.02 L363.03,203.75 L365.07,203.49 L367.11,203.23 L369.15,202.98 L371.19,202.72 L373.23,202.48 L375.27,202.23 L377.31,201.99 L379.35,201.75 L381.39,201.52 L383.43,201.29 L385.48,201.06 L387.52,200.84 L389.56,200.61 L391.6,200.39 L393.64,200.17 L395.68,199.96 L397.72,199.74 L399.76,199.53 L401.8,199.32 L403.84,199.11 L405.88,198.9 L407.92,198.7 L409.97,198.49 L412.01,198.29 L414.05,198.09 L416.09,197.89 L418.13,197.69 L420.17,197.49 L422.21,197.3 L424.25,197.1 L426.29,196.91 L428.33,196.71 L430.37,196.52 L432.41,196.33 L434.46,196.14 L436.5,195.95 L438.54,195.76 L440.58,195.57 L442.62,195.39 L444.66,195.2 L446.7,195.01 L448.74,194.82 L450.78,194.64 L452.82,194.45 L454.86,194.26 L456.9,194.08 L458.95,193.89 L460.99,193.71 L463.03,193.52 L465.07,193.33 L467.11,193.14 L469.15,192.96 L471.19,192.77 L473.23,192.58 L475.27,192.39 L477.31,192.2 L479.35,192.01 L481.39,191.82 L483.44,191.62 L485.48,191.43 L487.52,191.24 L489.56,191.04 L491.6,190.85 L493.64,190.65 L495.68,190.45 L497.72,190.25 L499.76,190.05 L501.8,189.84 L503.84,189.64 L505.88,189.43 L507.93,189.22 L509.97,189.01 L512.01,188.8 L514.05,188.59 L516.09,188.37 L518.13,188.16 L520.17,187.94 L522.21,187.72 L524.25,187.5 L526.29,187.28 L528.33,187.06 L530.37,186.84 L532.41,186.62 L534.46,186.4 L536.5,186.18 L538.54,185.96 L540.58,185.73 L542.62,185.51 L544.66,185.29 L546.7,185.06 L548.74,184.84 L550.78,184.61 L552.82,184.38 L554.86,184.16 L556.9,183.93 L558.95,183.7 L560.99,183.47 L563.03,183.25 L565.07,183.02 L567.11,182.79 L569.15,182.56 L571.19,182.32 L573.23,182.09 L575.27,181.86 L577.31,181.63 L579.35,181.39 L581.39,181.16 L583.44,180.93 L585.48,180.69 L587.52,180.46 L589.56,180.22 L591.6,179.98 L593.64,179.75 L595.68,179.51 L597.72,179.27 L599.76,179.03 L601.8,178.79 L603.84,178.55 L605.88,178.31 L607.93,178.07 L609.97,177.83 L612.01,177.59 L614.05,177.34 L616.09,177.1 L618.13,176.86 L620.17,176.61 L622.21,176.37 L624.25,176.12 L626.29,175.88 L628.33,175.63 L630.38,175.38 L632.42,175.14 L634.46,174.89 L636.5,174.64 L638.54,174.39 L640.58,174.14 L642.62,173.89 L644.66,173.64 L646.7,173.39 L648.74,173.14 L650.78,172.89 L652.82,172.63 L654.87,172.38 L656.91,172.13 L658.95,171.87 L660.99,171.62 L663.03,171.36 L665.07,171.1 L667.11,170.85 L669.15,170.59 L671.19,170.33 L673.23,170.08 L675.27,169.82 L677.31,169.56 L679.36,169.3 L681.4,169.04 L683.44,168.78" stroke="#000000" stroke-width="3.5" fill="none" stroke-linejoin="round" stroke-linecap="butt"/>
<rect x="736.1" y="131" width="36.7" height="3.2" fill="#000000"/>
<text x="791.67" y="144.4" font-size="29">125 cp/µl RNA</text>
<rect x="736.1" y="181.8" width="36.7" height="3.2" fill="#1788E0"/>
<text x="791.67" y="195.2" font-size="29">63 cp/µl RNA</text>
<rect x="736.1" y="232.3" width="36.7" height="3.2" fill="#7F4F1C"/>
<text x="791.67" y="245.7" font-size="29">31 cp/µl RNA</text>
<rect x="736.1" y="282.9" width="36.7" height="3.2" fill="#137D50"/>
<text x="791.67" y="296.3" font-size="29">16 cp/µl RNA</text>
<rect x="736.1" y="333.4" width="36.7" height="3.2" fill="#E68EEA"/>
<text x="791.67" y="346.8" font-size="29">0 cp/µl RNA</text>
<rect x="1192.4" y="86.9" width="3.2" height="339.1" fill="#000"/>
<rect x="1192.4" y="422.8" width="508.7" height="3.2" fill="#000"/>
<rect x="1179.8" y="422.8" width="14.2" height="3.2" fill="#000"/>
<rect x="1179.8" y="347.75" width="14.2" height="3.2" fill="#000"/>
<rect x="1179.8" y="272.7" width="14.2" height="3.2" fill="#000"/>
<rect x="1179.8" y="197.65" width="14.2" height="3.2" fill="#000"/>
<rect x="1179.8" y="122.6" width="14.2" height="3.2" fill="#000"/>
<rect x="1192.4" y="424.4" width="3.2" height="14.4" fill="#000"/>
<rect x="1318.78" y="424.4" width="3.2" height="14.4" fill="#000"/>
<rect x="1445.15" y="424.4" width="3.2" height="14.4" fill="#000"/>
<rect x="1571.53" y="424.4" width="3.2" height="14.4" fill="#000"/>
<rect x="1697.9" y="424.4" width="3.2" height="14.4" fill="#000"/>
<text x="1166.3" y="360.35" font-size="29" text-anchor="end">2000</text>
<text x="1166.3" y="285.3" font-size="29" text-anchor="end">4000</text>
<text x="1166.3" y="210.25" font-size="29" text-anchor="end">6000</text>
<text x="1166.3" y="135.2" font-size="29" text-anchor="end">8000</text>
<text x="1172.4" y="436.1" font-size="29" text-anchor="end">0</text>
<text x="1192.9" y="474" font-size="29" text-anchor="middle">0</text>
<text x="1318.6" y="474" font-size="29" text-anchor="middle">30</text>
<text x="1444.9" y="474" font-size="29" text-anchor="middle">60</text>
<text x="1571.4" y="474" font-size="29" text-anchor="middle">90</text>
<text x="1697.2" y="474" font-size="29" text-anchor="middle">120</text>
<text x="1333.36" y="63.4" font-size="29">LbuCas13a+TtCsm6</text>
<text x="1366.99" y="522.5" font-size="28.3">Time (min)</text>
<text transform="translate(1072,434.31) rotate(-90)" font-size="28.5">Raw Fluorescence (AU)</text>
<path d="M1202.42,416.62V416.98M1198.92,416.62H1205.92M1198.92,416.98H1205.92M1210.85,415.81V416.64M1207.35,415.81H1214.35M1207.35,416.64H1214.35M1219.28,414.79V416.14M1215.78,414.79H1222.78M1215.78,416.14H1222.78M1227.7,413.57V415.47M1224.2,413.57H1231.2M1224.2,415.47H1231.2M1236.12,412.17V414.65M1232.62,412.17H1239.62M1232.62,414.65H1239.62M1244.55,410.59V413.68M1241.05,410.59H1248.05M1241.05,413.68H1248.05M1252.97,408.83V412.55M1249.47,408.83H1256.47M1249.47,412.55H1256.47M1261.4,406.91V411.28M1257.9,406.91H1264.9M1257.9,411.28H1264.9M1269.83,404.83V409.86M1266.33,404.83H1273.33M1266.33,409.86H1273.33M1278.25,402.59V408.3M1274.75,402.59H1281.75M1274.75,408.3H1281.75M1286.67,400.21V406.61M1283.17,400.21H1290.17M1283.17,406.61H1290.17M1295.1,397.68V404.79M1291.6,397.68H1298.6M1291.6,404.79H1298.6M1303.53,395.02V402.84M1300.03,395.02H1307.03M1300.03,402.84H1307.03M1311.95,392.23V400.78M1308.45,392.23H1315.45M1308.45,400.78H1315.45M1320.38,389.31V398.6M1316.88,389.31H1323.88M1316.88,398.6H1323.88M1328.8,386.28V396.31M1325.3,386.28H1332.3M1325.3,396.31H1332.3M1337.22,383.13V393.92M1333.72,383.13H1340.72M1333.72,393.92H1340.72M1345.65,379.87V391.43M1342.15,379.87H1349.15M1342.15,391.43H1349.15M1354.08,376.51V388.84M1350.58,376.51H1357.58M1350.58,388.84H1357.58M1362.5,373.05V386.17M1359,373.05H1366M1359,386.17H1366M1370.92,369.51V383.41M1367.42,369.51H1374.42M1367.42,383.41H1374.42M1379.35,365.88V380.58M1375.85,365.88H1382.85M1375.85,380.58H1382.85M1387.78,362.17V377.68M1384.28,362.17H1391.28M1384.28,377.68H1391.28M1396.2,358.38V374.7M1392.7,358.38H1399.7M1392.7,374.7H1399.7M1404.62,354.53V371.67M1401.12,354.53H1408.12M1401.12,371.67H1408.12M1413.05,350.62V368.59M1409.55,350.62H1416.55M1409.55,368.59H1416.55M1421.47,346.65V365.45M1417.97,346.65H1424.97M1417.97,365.45H1424.97M1429.9,342.63V362.27M1426.4,342.63H1433.4M1426.4,362.27H1433.4M1438.33,338.57V359.05M1434.83,338.57H1441.83M1434.83,359.05H1441.83M1446.75,334.47V355.8M1443.25,334.47H1450.25M1443.25,355.8H1450.25M1455.17,330.34V352.53M1451.67,330.34H1458.67M1451.67,352.53H1458.67M1463.6,326.18V349.23M1460.1,326.18H1467.1M1460.1,349.23H1467.1M1472.03,322V345.92M1468.53,322H1475.53M1468.53,345.92H1475.53M1480.45,317.81V342.6M1476.95,317.81H1483.95M1476.95,342.6H1483.95M1488.88,313.61V339.27M1485.38,313.61H1492.38M1485.38,339.27H1492.38M1497.3,309.4V335.95M1493.8,309.4H1500.8M1493.8,335.95H1500.8M1505.72,305.2V332.64M1502.22,305.2H1509.22M1502.22,332.64H1509.22M1514.15,301.01V329.34M1510.65,301.01H1517.65M1510.65,329.34H1517.65M1522.58,296.84V326.07M1519.08,296.84H1526.08M1519.08,326.07H1526.08M1531,292.69V322.82M1527.5,292.69H1534.5M1527.5,322.82H1534.5M1539.42,288.57V319.6M1535.92,288.57H1542.92M1535.92,319.6H1542.92M1547.85,284.48V316.42M1544.35,284.48H1551.35M1544.35,316.42H1551.35M1556.28,280.43V313.29M1552.78,280.43H1559.78M1552.78,313.29H1559.78M1564.7,276.43V310.21M1561.2,276.43H1568.2M1561.2,310.21H1568.2M1573.12,272.49V307.19M1569.62,272.49H1576.62M1569.62,307.19H1576.62M1581.55,268.6V304.23M1578.05,268.6H1585.05M1578.05,304.23H1585.05M1589.97,264.78V301.34M1586.47,264.78H1593.47M1586.47,301.34H1593.47M1598.4,261.03V298.53M1594.9,261.03H1601.9M1594.9,298.53H1601.9M1606.83,257.36V295.8M1603.33,257.36H1610.33M1603.33,295.8H1610.33M1615.25,253.78V293.16M1611.75,253.78H1618.75M1611.75,293.16H1618.75M1623.67,250.29V290.62M1620.17,250.29H1627.17M1620.17,290.62H1627.17M1632.1,246.9V288.17M1628.6,246.9H1635.6M1628.6,288.17H1635.6M1640.53,243.61V285.84M1637.03,243.61H1644.03M1637.03,285.84H1644.03M1648.95,240.43V283.62M1645.45,240.43H1652.45M1645.45,283.62H1652.45M1657.38,237.37V281.52M1653.88,237.37H1660.88M1653.88,281.52H1660.88M1665.8,234.44V279.55M1662.3,234.44H1669.3M1662.3,279.55H1669.3M1674.22,231.63V277.72M1670.72,231.63H1677.72M1670.72,277.72H1677.72M1682.65,228.97V276.03M1679.15,228.97H1686.15M1679.15,276.03H1686.15M1691.08,226.45V274.48M1687.58,226.45H1694.58M1687.58,274.48H1694.58" stroke="#E68EEA" stroke-width="1.6" fill="none"/>
<path d="M1194,417.19 L1196.11,417.11 L1198.21,417.02 L1200.32,416.92 L1202.42,416.8 L1204.53,416.68 L1206.64,416.54 L1208.74,416.39 L1210.85,416.22 L1212.96,416.05 L1215.06,415.87 L1217.17,415.67 L1219.28,415.46 L1221.38,415.24 L1223.49,415.01 L1225.59,414.77 L1227.7,414.52 L1229.81,414.26 L1231.91,413.99 L1234.02,413.7 L1236.12,413.41 L1238.23,413.11 L1240.34,412.79 L1242.44,412.47 L1244.55,412.13 L1246.66,411.79 L1248.76,411.43 L1250.87,411.07 L1252.97,410.69 L1255.08,410.31 L1257.19,409.91 L1259.29,409.51 L1261.4,409.09 L1263.51,408.67 L1265.61,408.24 L1267.72,407.79 L1269.83,407.34 L1271.93,406.88 L1274.04,406.41 L1276.14,405.93 L1278.25,405.45 L1280.36,404.95 L1282.46,404.44 L1284.57,403.93 L1286.67,403.41 L1288.78,402.88 L1290.89,402.34 L1292.99,401.79 L1295.1,401.24 L1297.21,400.67 L1299.31,400.1 L1301.42,399.52 L1303.53,398.93 L1305.63,398.34 L1307.74,397.73 L1309.84,397.12 L1311.95,396.5 L1314.06,395.88 L1316.16,395.24 L1318.27,394.6 L1320.38,393.96 L1322.48,393.3 L1324.59,392.64 L1326.69,391.97 L1328.8,391.29 L1330.91,390.61 L1333.01,389.92 L1335.12,389.22 L1337.22,388.52 L1339.33,387.81 L1341.44,387.1 L1343.54,386.38 L1345.65,385.65 L1347.76,384.91 L1349.86,384.17 L1351.97,383.43 L1354.08,382.68 L1356.18,381.92 L1358.29,381.15 L1360.39,380.39 L1362.5,379.61 L1364.61,378.83 L1366.71,378.05 L1368.82,377.26 L1370.92,376.46 L1373.03,375.66 L1375.14,374.85 L1377.24,374.04 L1379.35,373.23 L1381.46,372.41 L1383.56,371.58 L1385.67,370.75 L1387.78,369.92 L1389.88,369.08 L1391.99,368.24 L1394.09,367.39 L1396.2,366.54 L1398.31,365.69 L1400.41,364.83 L1402.52,363.97 L1404.62,363.1 L1406.73,362.23 L1408.84,361.36 L1410.94,360.48 L1413.05,359.6 L1415.16,358.72 L1417.26,357.83 L1419.37,356.94 L1421.47,356.05 L1423.58,355.16 L1425.69,354.26 L1427.79,353.36 L1429.9,352.45 L1432.01,351.55 L1434.11,350.64 L1436.22,349.73 L1438.33,348.81 L1440.43,347.9 L1442.54,346.98 L1444.64,346.06 L1446.75,345.14 L1448.86,344.21 L1450.96,343.29 L1453.07,342.36 L1455.17,341.43 L1457.28,340.5 L1459.39,339.57 L1461.49,338.64 L1463.6,337.7 L1465.71,336.77 L1467.81,335.83 L1469.92,334.9 L1472.03,333.96 L1474.13,333.02 L1476.24,332.08 L1478.34,331.14 L1480.45,330.2 L1482.56,329.26 L1484.66,328.32 L1486.77,327.38 L1488.88,326.44 L1490.98,325.5 L1493.09,324.56 L1495.19,323.62 L1497.3,322.68 L1499.41,321.74 L1501.51,320.8 L1503.62,319.86 L1505.72,318.92 L1507.83,317.98 L1509.94,317.05 L1512.04,316.11 L1514.15,315.18 L1516.26,314.25 L1518.36,313.31 L1520.47,312.38 L1522.58,311.45 L1524.68,310.53 L1526.79,309.6 L1528.89,308.68 L1531,307.75 L1533.11,306.83 L1535.21,305.91 L1537.32,305 L1539.42,304.08 L1541.53,303.17 L1543.64,302.26 L1545.74,301.36 L1547.85,300.45 L1549.96,299.55 L1552.06,298.65 L1554.17,297.76 L1556.28,296.86 L1558.38,295.97 L1560.49,295.09 L1562.59,294.2 L1564.7,293.32 L1566.81,292.45 L1568.91,291.57 L1571.02,290.7 L1573.12,289.84 L1575.23,288.98 L1577.34,288.12 L1579.44,287.27 L1581.55,286.42 L1583.66,285.57 L1585.76,284.73 L1587.87,283.89 L1589.97,283.06 L1592.08,282.23 L1594.19,281.41 L1596.29,280.59 L1598.4,279.78 L1600.51,278.97 L1602.61,278.17 L1604.72,277.37 L1606.83,276.58 L1608.93,275.8 L1611.04,275.02 L1613.14,274.24 L1615.25,273.47 L1617.36,272.71 L1619.46,271.95 L1621.57,271.2 L1623.67,270.45 L1625.78,269.71 L1627.89,268.98 L1629.99,268.26 L1632.1,267.54 L1634.21,266.82 L1636.31,266.12 L1638.42,265.42 L1640.53,264.72 L1642.63,264.04 L1644.74,263.36 L1646.84,262.69 L1648.95,262.03 L1651.06,261.37 L1653.16,260.72 L1655.27,260.08 L1657.38,259.45 L1659.48,258.82 L1661.59,258.21 L1663.69,257.6 L1665.8,257 L1667.91,256.4 L1670.01,255.82 L1672.12,255.24 L1674.22,254.68 L1676.33,254.12 L1678.44,253.57 L1680.54,253.03 L1682.65,252.5 L1684.76,251.98 L1686.86,251.46 L1688.97,250.96 L1691.08,250.46 L1693.18,249.98 L1695.29,249.5 L1697.39,249.04 L1699.5,248.58" stroke="#E68EEA" stroke-width="3.2" fill="none" stroke-linejoin="round" stroke-linecap="butt"/>
<path d="M1202.42,417.03V417.21M1198.92,417.03H1205.92M1198.92,417.21H1205.92M1210.85,416.6V416.95M1207.35,416.6H1214.35M1207.35,416.95H1214.35M1219.28,415.88V416.42M1215.78,415.88H1222.78M1215.78,416.42H1222.78M1227.7,414.91V415.62M1224.2,414.91H1231.2M1224.2,415.62H1231.2M1236.12,413.69V414.58M1232.62,413.69H1239.62M1232.62,414.58H1239.62M1244.55,412.23V413.3M1241.05,412.23H1248.05M1241.05,413.3H1248.05M1252.97,410.54V411.78M1249.47,410.54H1256.47M1249.47,411.78H1256.47M1261.4,408.63V410.05M1257.9,408.63H1264.9M1257.9,410.05H1264.9M1269.83,406.51V408.12M1266.33,406.51H1273.33M1266.33,408.12H1273.33M1278.25,404.2V405.98M1274.75,404.2H1281.75M1274.75,405.98H1281.75M1286.67,401.71V403.66M1283.17,401.71H1290.17M1283.17,403.66H1290.17M1295.1,399.03V401.17M1291.6,399.03H1298.6M1291.6,401.17H1298.6M1303.53,396.19V398.51M1300.03,396.19H1307.03M1300.03,398.51H1307.03M1311.95,393.2V395.69M1308.45,393.2H1315.45M1308.45,395.69H1315.45M1320.38,390.06V392.73M1316.88,390.06H1323.88M1316.88,392.73H1323.88M1328.8,386.78V389.63M1325.3,386.78H1332.3M1325.3,389.63H1332.3M1337.22,383.37V386.4M1333.72,383.37H1340.72M1333.72,386.4H1340.72M1345.65,379.85V383.05M1342.15,379.85H1349.15M1342.15,383.05H1349.15M1354.08,376.22V379.6M1350.58,376.22H1357.58M1350.58,379.6H1357.58M1362.5,372.48V376.04M1359,372.48H1366M1359,376.04H1366M1370.92,368.66V372.4M1367.42,368.66H1374.42M1367.42,372.4H1374.42M1379.35,364.75V368.66M1375.85,364.75H1382.85M1375.85,368.66H1382.85M1387.78,360.76V364.86M1384.28,360.76H1391.28M1384.28,364.86H1391.28M1396.2,356.71V360.99M1392.7,356.71H1399.7M1392.7,360.99H1399.7M1404.62,352.6V357.06M1401.12,352.6H1408.12M1401.12,357.06H1408.12M1413.05,348.44V353.07M1409.55,348.44H1416.55M1409.55,353.07H1416.55M1421.47,344.24V349.05M1417.97,344.24H1424.97M1417.97,349.05H1424.97M1429.9,340V344.99M1426.4,340H1433.4M1426.4,344.99H1433.4M1438.33,335.74V340.9M1434.83,335.74H1441.83M1434.83,340.9H1441.83M1446.75,331.45V336.79M1443.25,331.45H1450.25M1443.25,336.79H1450.25M1455.17,327.15V332.67M1451.67,327.15H1458.67M1451.67,332.67H1458.67M1463.6,322.85V328.54M1460.1,322.85H1467.1M1460.1,328.54H1467.1M1472.03,318.54V324.42M1468.53,318.54H1475.53M1468.53,324.42H1475.53M1480.45,314.24V320.3M1476.95,314.24H1483.95M1476.95,320.3H1483.95M1488.88,309.96V316.19M1485.38,309.96H1492.38M1485.38,316.19H1492.38M1497.3,305.69V312.1M1493.8,305.69H1500.8M1493.8,312.1H1500.8M1505.72,301.45V308.04M1502.22,301.45H1509.22M1502.22,308.04H1509.22M1514.15,297.24V304.01M1510.65,297.24H1517.65M1510.65,304.01H1517.65M1522.58,293.07V300.02M1519.08,293.07H1526.08M1519.08,300.02H1526.08M1531,288.95V296.07M1527.5,288.95H1534.5M1527.5,296.07H1534.5M1539.42,284.87V292.17M1535.92,284.87H1542.92M1535.92,292.17H1542.92M1547.85,280.84V288.32M1544.35,280.84H1551.35M1544.35,288.32H1551.35M1556.28,276.88V284.54M1552.78,276.88H1559.78M1552.78,284.54H1559.78M1564.7,272.98V280.82M1561.2,272.98H1568.2M1561.2,280.82H1568.2M1573.12,269.15V277.16M1569.62,269.15H1576.62M1569.62,277.16H1576.62M1581.55,265.39V273.59M1578.05,265.39H1585.05M1578.05,273.59H1585.05M1589.97,261.72V270.09M1586.47,261.72H1593.47M1586.47,270.09H1593.47M1598.4,258.12V266.67M1594.9,258.12H1601.9M1594.9,266.67H1601.9M1606.83,254.62V263.34M1603.33,254.62H1610.33M1603.33,263.34H1610.33M1615.25,251.2V260.11M1611.75,251.2H1618.75M1611.75,260.11H1618.75M1623.67,247.88V256.96M1620.17,247.88H1627.17M1620.17,256.96H1627.17M1632.1,244.66V253.92M1628.6,244.66H1635.6M1628.6,253.92H1635.6M1640.53,241.54V250.98M1637.03,241.54H1644.03M1637.03,250.98H1644.03M1648.95,238.53V248.15M1645.45,238.53H1652.45M1645.45,248.15H1652.45M1657.38,235.63V245.42M1653.88,235.63H1660.88M1653.88,245.42H1660.88M1665.8,232.84V242.81M1662.3,232.84H1669.3M1662.3,242.81H1669.3M1674.22,230.17V240.32M1670.72,230.17H1677.72M1670.72,240.32H1677.72M1682.65,227.61V237.94M1679.15,227.61H1686.15M1679.15,237.94H1686.15M1691.08,225.18V235.68M1687.58,225.18H1694.58M1687.58,235.68H1694.58" stroke="#137D50" stroke-width="1.8" fill="none"/>
<path d="M1194,417.19 L1196.11,417.2 L1198.21,417.19 L1200.32,417.17 L1202.42,417.12 L1204.53,417.06 L1206.64,416.98 L1208.74,416.89 L1210.85,416.77 L1212.96,416.64 L1215.06,416.5 L1217.17,416.33 L1219.28,416.15 L1221.38,415.96 L1223.49,415.74 L1225.59,415.51 L1227.7,415.27 L1229.81,415.01 L1231.91,414.73 L1234.02,414.44 L1236.12,414.13 L1238.23,413.81 L1240.34,413.48 L1242.44,413.13 L1244.55,412.76 L1246.66,412.38 L1248.76,411.99 L1250.87,411.58 L1252.97,411.16 L1255.08,410.72 L1257.19,410.28 L1259.29,409.82 L1261.4,409.34 L1263.51,408.85 L1265.61,408.35 L1267.72,407.84 L1269.83,407.31 L1271.93,406.78 L1274.04,406.23 L1276.14,405.67 L1278.25,405.09 L1280.36,404.51 L1282.46,403.91 L1284.57,403.3 L1286.67,402.68 L1288.78,402.06 L1290.89,401.41 L1292.99,400.76 L1295.1,400.1 L1297.21,399.43 L1299.31,398.75 L1301.42,398.05 L1303.53,397.35 L1305.63,396.64 L1307.74,395.92 L1309.84,395.19 L1311.95,394.45 L1314.06,393.7 L1316.16,392.94 L1318.27,392.17 L1320.38,391.39 L1322.48,390.61 L1324.59,389.81 L1326.69,389.01 L1328.8,388.2 L1330.91,387.39 L1333.01,386.56 L1335.12,385.73 L1337.22,384.89 L1339.33,384.04 L1341.44,383.18 L1343.54,382.32 L1345.65,381.45 L1347.76,380.58 L1349.86,379.69 L1351.97,378.8 L1354.08,377.91 L1356.18,377 L1358.29,376.1 L1360.39,375.18 L1362.5,374.26 L1364.61,373.34 L1366.71,372.4 L1368.82,371.47 L1370.92,370.53 L1373.03,369.58 L1375.14,368.63 L1377.24,367.67 L1379.35,366.71 L1381.46,365.74 L1383.56,364.77 L1385.67,363.79 L1387.78,362.81 L1389.88,361.83 L1391.99,360.84 L1394.09,359.85 L1396.2,358.85 L1398.31,357.85 L1400.41,356.85 L1402.52,355.84 L1404.62,354.83 L1406.73,353.82 L1408.84,352.8 L1410.94,351.78 L1413.05,350.76 L1415.16,349.73 L1417.26,348.71 L1419.37,347.68 L1421.47,346.64 L1423.58,345.61 L1425.69,344.57 L1427.79,343.54 L1429.9,342.5 L1432.01,341.45 L1434.11,340.41 L1436.22,339.37 L1438.33,338.32 L1440.43,337.27 L1442.54,336.22 L1444.64,335.17 L1446.75,334.12 L1448.86,333.07 L1450.96,332.02 L1453.07,330.97 L1455.17,329.91 L1457.28,328.86 L1459.39,327.8 L1461.49,326.75 L1463.6,325.69 L1465.71,324.64 L1467.81,323.59 L1469.92,322.53 L1472.03,321.48 L1474.13,320.42 L1476.24,319.37 L1478.34,318.32 L1480.45,317.27 L1482.56,316.22 L1484.66,315.17 L1486.77,314.12 L1488.88,313.07 L1490.98,312.03 L1493.09,310.98 L1495.19,309.94 L1497.3,308.9 L1499.41,307.85 L1501.51,306.82 L1503.62,305.78 L1505.72,304.74 L1507.83,303.71 L1509.94,302.68 L1512.04,301.65 L1514.15,300.63 L1516.26,299.6 L1518.36,298.58 L1520.47,297.56 L1522.58,296.54 L1524.68,295.53 L1526.79,294.52 L1528.89,293.51 L1531,292.51 L1533.11,291.51 L1535.21,290.51 L1537.32,289.51 L1539.42,288.52 L1541.53,287.53 L1543.64,286.54 L1545.74,285.56 L1547.85,284.58 L1549.96,283.61 L1552.06,282.64 L1554.17,281.67 L1556.28,280.71 L1558.38,279.75 L1560.49,278.8 L1562.59,277.84 L1564.7,276.9 L1566.81,275.96 L1568.91,275.02 L1571.02,274.09 L1573.12,273.16 L1575.23,272.23 L1577.34,271.31 L1579.44,270.4 L1581.55,269.49 L1583.66,268.59 L1585.76,267.69 L1587.87,266.79 L1589.97,265.9 L1592.08,265.02 L1594.19,264.14 L1596.29,263.27 L1598.4,262.4 L1600.51,261.54 L1602.61,260.68 L1604.72,259.83 L1606.83,258.98 L1608.93,258.14 L1611.04,257.31 L1613.14,256.48 L1615.25,255.65 L1617.36,254.84 L1619.46,254.03 L1621.57,253.22 L1623.67,252.42 L1625.78,251.63 L1627.89,250.85 L1629.99,250.07 L1632.1,249.29 L1634.21,248.53 L1636.31,247.76 L1638.42,247.01 L1640.53,246.26 L1642.63,245.52 L1644.74,244.79 L1646.84,244.06 L1648.95,243.34 L1651.06,242.63 L1653.16,241.92 L1655.27,241.22 L1657.38,240.53 L1659.48,239.84 L1661.59,239.16 L1663.69,238.49 L1665.8,237.83 L1667.91,237.17 L1670.01,236.52 L1672.12,235.88 L1674.22,235.24 L1676.33,234.61 L1678.44,233.99 L1680.54,233.38 L1682.65,232.78 L1684.76,232.18 L1686.86,231.59 L1688.97,231.01 L1691.08,230.43 L1693.18,229.86 L1695.29,229.3 L1697.39,228.75 L1699.5,228.21" stroke="#137D50" stroke-width="3.2" fill="none" stroke-linejoin="round" stroke-linecap="butt"/>
<path d="M1202.42,417V417.21M1198.92,417H1205.92M1198.92,417.21H1205.92M1210.85,416.53V416.94M1207.35,416.53H1214.35M1207.35,416.94H1214.35M1219.28,415.78V416.39M1215.78,415.78H1222.78M1215.78,416.39H1222.78M1227.7,414.77V415.58M1224.2,414.77H1231.2M1224.2,415.58H1231.2M1236.12,413.5V414.52M1232.62,413.5H1239.62M1232.62,414.52H1239.62M1244.55,412V413.22M1241.05,412H1248.05M1241.05,413.22H1248.05M1252.97,410.26V411.69M1249.47,410.26H1256.47M1249.47,411.69H1256.47M1261.4,408.31V409.93M1257.9,408.31H1264.9M1257.9,409.93H1264.9M1269.83,406.14V407.97M1266.33,406.14H1273.33M1266.33,407.97H1273.33M1278.25,403.78V405.81M1274.75,403.78H1281.75M1274.75,405.81H1281.75M1286.67,401.23V403.47M1283.17,401.23H1290.17M1283.17,403.47H1290.17M1295.1,398.5V400.94M1291.6,398.5H1298.6M1291.6,400.94H1298.6M1303.53,395.61V398.25M1300.03,395.61H1307.03M1300.03,398.25H1307.03M1311.95,392.55V395.4M1308.45,392.55H1315.45M1308.45,395.4H1315.45M1320.38,389.35V392.4M1316.88,389.35H1323.88M1316.88,392.4H1323.88M1328.8,386.01V389.27M1325.3,386.01H1332.3M1325.3,389.27H1332.3M1337.22,382.54V386M1333.72,382.54H1340.72M1333.72,386H1340.72M1345.65,378.95V382.62M1342.15,378.95H1349.15M1342.15,382.62H1349.15M1354.08,375.26V379.12M1350.58,375.26H1357.58M1350.58,379.12H1357.58M1362.5,371.45V375.53M1359,371.45H1366M1359,375.53H1366M1370.92,367.56V371.83M1367.42,367.56H1374.42M1367.42,371.83H1374.42M1379.35,363.58V368.06M1375.85,363.58H1382.85M1375.85,368.06H1382.85M1387.78,359.53V364.21M1384.28,359.53H1391.28M1384.28,364.21H1391.28M1396.2,355.41V360.29M1392.7,355.41H1399.7M1392.7,360.29H1399.7M1404.62,351.23V356.31M1401.12,351.23H1408.12M1401.12,356.31H1408.12M1413.05,346.99V352.28M1409.55,346.99H1416.55M1409.55,352.28H1416.55M1421.47,342.72V348.21M1417.97,342.72H1424.97M1417.97,348.21H1424.97M1429.9,338.4V344.1M1426.4,338.4H1433.4M1426.4,344.1H1433.4M1438.33,334.06V339.97M1434.83,334.06H1441.83M1434.83,339.97H1441.83M1446.75,329.7V335.81M1443.25,329.7H1450.25M1443.25,335.81H1450.25M1455.17,325.33V331.64M1451.67,325.33H1458.67M1451.67,331.64H1458.67M1463.6,320.95V327.46M1460.1,320.95H1467.1M1460.1,327.46H1467.1M1472.03,316.56V323.28M1468.53,316.56H1475.53M1468.53,323.28H1475.53M1480.45,312.19V319.11M1476.95,312.19H1483.95M1476.95,319.11H1483.95M1488.88,307.83V314.95M1485.38,307.83H1492.38M1485.38,314.95H1492.38M1497.3,303.48V310.81M1493.8,303.48H1500.8M1493.8,310.81H1500.8M1505.72,299.17V306.7M1502.22,299.17H1509.22M1502.22,306.7H1509.22M1514.15,294.88V302.62M1510.65,294.88H1517.65M1510.65,302.62H1517.65M1522.58,290.64V298.57M1519.08,290.64H1526.08M1519.08,298.57H1526.08M1531,286.44V294.58M1527.5,286.44H1534.5M1527.5,294.58H1534.5M1539.42,282.28V290.63M1535.92,282.28H1542.92M1535.92,290.63H1542.92M1547.85,278.19V286.73M1544.35,278.19H1551.35M1544.35,286.73H1551.35M1556.28,274.15V282.9M1552.78,274.15H1559.78M1552.78,282.9H1559.78M1564.7,270.18V279.13M1561.2,270.18H1568.2M1561.2,279.13H1568.2M1573.12,266.27V275.43M1569.62,266.27H1576.62M1569.62,275.43H1576.62M1581.55,262.45V271.81M1578.05,262.45H1585.05M1578.05,271.81H1585.05M1589.97,258.7V268.27M1586.47,258.7H1593.47M1586.47,268.27H1593.47M1598.4,255.04V264.81M1594.9,255.04H1601.9M1594.9,264.81H1601.9M1606.83,251.47V261.44M1603.33,251.47H1610.33M1603.33,261.44H1610.33M1615.25,247.99V258.16M1611.75,247.99H1618.75M1611.75,258.16H1618.75M1623.67,244.61V254.99M1620.17,244.61H1627.17M1620.17,254.99H1627.17M1632.1,241.32V251.91M1628.6,241.32H1635.6M1628.6,251.91H1635.6M1640.53,238.15V248.93M1637.03,238.15H1644.03M1637.03,248.93H1644.03M1648.95,235.08V246.07M1645.45,235.08H1652.45M1645.45,246.07H1652.45M1657.38,232.12V243.32M1653.88,232.12H1660.88M1653.88,243.32H1660.88M1665.8,229.28V240.68M1662.3,229.28H1669.3M1662.3,240.68H1669.3M1674.22,226.56V238.16M1670.72,226.56H1677.72M1670.72,238.16H1677.72M1682.65,223.95V235.76M1679.15,223.95H1686.15M1679.15,235.76H1686.15M1691.08,221.47V233.48M1687.58,221.47H1694.58M1687.58,233.48H1694.58" stroke="#7F4F1C" stroke-width="1.8" fill="none"/>
<path d="M1194,417.19 L1196.11,417.19 L1198.21,417.18 L1200.32,417.15 L1202.42,417.1 L1204.53,417.04 L1206.64,416.95 L1208.74,416.85 L1210.85,416.73 L1212.96,416.6 L1215.06,416.44 L1217.17,416.27 L1219.28,416.09 L1221.38,415.88 L1223.49,415.66 L1225.59,415.43 L1227.7,415.17 L1229.81,414.91 L1231.91,414.62 L1234.02,414.33 L1236.12,414.01 L1238.23,413.68 L1240.34,413.34 L1242.44,412.98 L1244.55,412.61 L1246.66,412.22 L1248.76,411.82 L1250.87,411.4 L1252.97,410.97 L1255.08,410.53 L1257.19,410.07 L1259.29,409.6 L1261.4,409.12 L1263.51,408.62 L1265.61,408.11 L1267.72,407.59 L1269.83,407.06 L1271.93,406.51 L1274.04,405.95 L1276.14,405.38 L1278.25,404.8 L1280.36,404.2 L1282.46,403.6 L1284.57,402.98 L1286.67,402.35 L1288.78,401.71 L1290.89,401.06 L1292.99,400.4 L1295.1,399.72 L1297.21,399.04 L1299.31,398.35 L1301.42,397.64 L1303.53,396.93 L1305.63,396.21 L1307.74,395.47 L1309.84,394.73 L1311.95,393.98 L1314.06,393.22 L1316.16,392.45 L1318.27,391.67 L1320.38,390.88 L1322.48,390.08 L1324.59,389.28 L1326.69,388.46 L1328.8,387.64 L1330.91,386.81 L1333.01,385.97 L1335.12,385.13 L1337.22,384.27 L1339.33,383.41 L1341.44,382.54 L1343.54,381.67 L1345.65,380.79 L1347.76,379.9 L1349.86,379 L1351.97,378.1 L1354.08,377.19 L1356.18,376.27 L1358.29,375.35 L1360.39,374.42 L1362.5,373.49 L1364.61,372.55 L1366.71,371.6 L1368.82,370.65 L1370.92,369.7 L1373.03,368.74 L1375.14,367.77 L1377.24,366.8 L1379.35,365.82 L1381.46,364.84 L1383.56,363.85 L1385.67,362.86 L1387.78,361.87 L1389.88,360.87 L1391.99,359.87 L1394.09,358.86 L1396.2,357.85 L1398.31,356.83 L1400.41,355.82 L1402.52,354.79 L1404.62,353.77 L1406.73,352.74 L1408.84,351.71 L1410.94,350.68 L1413.05,349.64 L1415.16,348.6 L1417.26,347.56 L1419.37,346.51 L1421.47,345.46 L1423.58,344.42 L1425.69,343.36 L1427.79,342.31 L1429.9,341.25 L1432.01,340.2 L1434.11,339.14 L1436.22,338.08 L1438.33,337.02 L1440.43,335.95 L1442.54,334.89 L1444.64,333.82 L1446.75,332.76 L1448.86,331.69 L1450.96,330.62 L1453.07,329.55 L1455.17,328.48 L1457.28,327.41 L1459.39,326.34 L1461.49,325.27 L1463.6,324.2 L1465.71,323.13 L1467.81,322.06 L1469.92,320.99 L1472.03,319.92 L1474.13,318.85 L1476.24,317.78 L1478.34,316.71 L1480.45,315.65 L1482.56,314.58 L1484.66,313.52 L1486.77,312.45 L1488.88,311.39 L1490.98,310.33 L1493.09,309.26 L1495.19,308.2 L1497.3,307.15 L1499.41,306.09 L1501.51,305.04 L1503.62,303.98 L1505.72,302.93 L1507.83,301.88 L1509.94,300.84 L1512.04,299.79 L1514.15,298.75 L1516.26,297.71 L1518.36,296.67 L1520.47,295.64 L1522.58,294.61 L1524.68,293.58 L1526.79,292.55 L1528.89,291.53 L1531,290.51 L1533.11,289.49 L1535.21,288.47 L1537.32,287.46 L1539.42,286.46 L1541.53,285.45 L1543.64,284.45 L1545.74,283.45 L1547.85,282.46 L1549.96,281.47 L1552.06,280.48 L1554.17,279.5 L1556.28,278.52 L1558.38,277.55 L1560.49,276.58 L1562.59,275.61 L1564.7,274.65 L1566.81,273.7 L1568.91,272.74 L1571.02,271.8 L1573.12,270.85 L1575.23,269.92 L1577.34,268.98 L1579.44,268.05 L1581.55,267.13 L1583.66,266.21 L1585.76,265.3 L1587.87,264.39 L1589.97,263.49 L1592.08,262.59 L1594.19,261.69 L1596.29,260.81 L1598.4,259.93 L1600.51,259.05 L1602.61,258.18 L1604.72,257.31 L1606.83,256.45 L1608.93,255.6 L1611.04,254.75 L1613.14,253.91 L1615.25,253.08 L1617.36,252.25 L1619.46,251.42 L1621.57,250.61 L1623.67,249.8 L1625.78,248.99 L1627.89,248.19 L1629.99,247.4 L1632.1,246.62 L1634.21,245.84 L1636.31,245.06 L1638.42,244.3 L1640.53,243.54 L1642.63,242.79 L1644.74,242.04 L1646.84,241.3 L1648.95,240.57 L1651.06,239.85 L1653.16,239.13 L1655.27,238.42 L1657.38,237.72 L1659.48,237.02 L1661.59,236.33 L1663.69,235.65 L1665.8,234.98 L1667.91,234.31 L1670.01,233.65 L1672.12,233 L1674.22,232.36 L1676.33,231.72 L1678.44,231.09 L1680.54,230.47 L1682.65,229.85 L1684.76,229.25 L1686.86,228.65 L1688.97,228.06 L1691.08,227.48 L1693.18,226.9 L1695.29,226.34 L1697.39,225.78 L1699.5,225.23" stroke="#7F4F1C" stroke-width="3.2" fill="none" stroke-linejoin="round" stroke-linecap="butt"/>
<path d="M1202.42,417.17V417.23M1198.92,417.17H1205.92M1198.92,417.23H1205.92M1210.85,416.75V416.88M1207.35,416.75H1214.35M1207.35,416.88H1214.35M1219.28,415.96V416.15M1215.78,415.96H1222.78M1215.78,416.15H1222.78M1227.7,414.81V415.06M1224.2,414.81H1231.2M1224.2,415.06H1231.2M1236.12,413.31V413.63M1232.62,413.31H1239.62M1232.62,413.63H1239.62M1244.55,411.49V411.87M1241.05,411.49H1248.05M1241.05,411.87H1248.05M1252.97,409.36V409.8M1249.47,409.36H1256.47M1249.47,409.8H1256.47M1261.4,406.94V407.44M1257.9,406.94H1264.9M1257.9,407.44H1264.9M1269.83,404.24V404.81M1266.33,404.24H1273.33M1266.33,404.81H1273.33M1278.25,401.28V401.91M1274.75,401.28H1281.75M1274.75,401.91H1281.75M1286.67,398.07V398.77M1283.17,398.07H1290.17M1283.17,398.77H1290.17M1295.1,394.63V395.4M1291.6,394.63H1298.6M1291.6,395.4H1298.6M1303.53,390.98V391.81M1300.03,390.98H1307.03M1300.03,391.81H1307.03M1311.95,387.13V388.02M1308.45,387.13H1315.45M1308.45,388.02H1315.45M1320.38,383.08V384.04M1316.88,383.08H1323.88M1316.88,384.04H1323.88M1328.8,378.87V379.88M1325.3,378.87H1332.3M1325.3,379.88H1332.3M1337.22,374.49V375.57M1333.72,374.49H1340.72M1333.72,375.57H1340.72M1345.65,369.96V371.11M1342.15,369.96H1349.15M1342.15,371.11H1349.15M1354.08,365.3V366.51M1350.58,365.3H1357.58M1350.58,366.51H1357.58M1362.5,360.51V361.78M1359,360.51H1366M1359,361.78H1366M1370.92,355.61V356.95M1367.42,355.61H1374.42M1367.42,356.95H1374.42M1379.35,350.61V352.01M1375.85,350.61H1382.85M1375.85,352.01H1382.85M1387.78,345.52V346.98M1384.28,345.52H1391.28M1384.28,346.98H1391.28M1396.2,340.35V341.88M1392.7,340.35H1399.7M1392.7,341.88H1399.7M1404.62,335.11V336.7M1401.12,335.11H1408.12M1401.12,336.7H1408.12M1413.05,329.82V331.47M1409.55,329.82H1416.55M1409.55,331.47H1416.55M1421.47,324.47V326.19M1417.97,324.47H1424.97M1417.97,326.19H1424.97M1429.9,319.09V320.87M1426.4,319.09H1433.4M1426.4,320.87H1433.4M1438.33,313.67V315.51M1434.83,313.67H1441.83M1434.83,315.51H1441.83M1446.75,308.23V310.14M1443.25,308.23H1450.25M1443.25,310.14H1450.25M1455.17,302.78V304.75M1451.67,302.78H1458.67M1451.67,304.75H1458.67M1463.6,297.32V299.36M1460.1,297.32H1467.1M1460.1,299.36H1467.1M1472.03,291.87V293.97M1468.53,291.87H1475.53M1468.53,293.97H1475.53M1480.45,286.42V288.58M1476.95,286.42H1483.95M1476.95,288.58H1483.95M1488.88,280.99V283.22M1485.38,280.99H1492.38M1485.38,283.22H1492.38M1497.3,275.58V277.87M1493.8,275.58H1500.8M1493.8,277.87H1500.8M1505.72,270.2V272.56M1502.22,270.2H1509.22M1502.22,272.56H1509.22M1514.15,264.86V267.28M1510.65,264.86H1517.65M1510.65,267.28H1517.65M1522.58,259.55V262.04M1519.08,259.55H1526.08M1519.08,262.04H1526.08M1531,254.3V256.84M1527.5,254.3H1534.5M1527.5,256.84H1534.5M1539.42,249.09V251.69M1535.92,249.09H1542.92M1535.92,251.69H1542.92M1547.85,243.93V246.6M1544.35,243.93H1551.35M1544.35,246.6H1551.35M1556.28,238.83V241.57M1552.78,238.83H1559.78M1552.78,241.57H1559.78M1564.7,233.8V236.6M1561.2,233.8H1568.2M1561.2,236.6H1568.2M1573.12,228.83V231.69M1569.62,228.83H1576.62M1569.62,231.69H1576.62M1581.55,223.93V226.85M1578.05,223.93H1585.05M1578.05,226.85H1585.05M1589.97,219.1V222.09M1586.47,219.1H1593.47M1586.47,222.09H1593.47M1598.4,214.34V217.39M1594.9,214.34H1601.9M1594.9,217.39H1601.9M1606.83,209.66V212.78M1603.33,209.66H1610.33M1603.33,212.78H1610.33M1615.25,205.06V208.24M1611.75,205.06H1618.75M1611.75,208.24H1618.75M1623.67,200.53V203.78M1620.17,200.53H1627.17M1620.17,203.78H1627.17M1632.1,196.09V199.4M1628.6,196.09H1635.6M1628.6,199.4H1635.6M1640.53,191.73V195.1M1637.03,191.73H1644.03M1637.03,195.1H1644.03M1648.95,187.44V190.88M1645.45,187.44H1652.45M1645.45,190.88H1652.45M1657.38,183.24V186.74M1653.88,183.24H1660.88M1653.88,186.74H1660.88M1665.8,179.11V182.68M1662.3,179.11H1669.3M1662.3,182.68H1669.3M1674.22,175.07V178.69M1670.72,175.07H1677.72M1670.72,178.69H1677.72M1682.65,171.1V174.79M1679.15,171.1H1686.15M1679.15,174.79H1686.15M1691.08,167.21V170.96M1687.58,167.21H1694.58M1687.58,170.96H1694.58" stroke="#1788E0" stroke-width="1.8" fill="none"/>
<path d="M1194,417.19 L1196.11,417.23 L1198.21,417.25 L1200.32,417.24 L1202.42,417.2 L1204.53,417.14 L1206.64,417.06 L1208.74,416.95 L1210.85,416.82 L1212.96,416.66 L1215.06,416.48 L1217.17,416.28 L1219.28,416.06 L1221.38,415.81 L1223.49,415.54 L1225.59,415.25 L1227.7,414.93 L1229.81,414.6 L1231.91,414.24 L1234.02,413.87 L1236.12,413.47 L1238.23,413.05 L1240.34,412.61 L1242.44,412.16 L1244.55,411.68 L1246.66,411.18 L1248.76,410.67 L1250.87,410.13 L1252.97,409.58 L1255.08,409.01 L1257.19,408.42 L1259.29,407.81 L1261.4,407.19 L1263.51,406.55 L1265.61,405.89 L1267.72,405.21 L1269.83,404.52 L1271.93,403.81 L1274.04,403.09 L1276.14,402.35 L1278.25,401.59 L1280.36,400.82 L1282.46,400.04 L1284.57,399.24 L1286.67,398.42 L1288.78,397.59 L1290.89,396.75 L1292.99,395.89 L1295.1,395.02 L1297.21,394.13 L1299.31,393.23 L1301.42,392.32 L1303.53,391.39 L1305.63,390.46 L1307.74,389.51 L1309.84,388.55 L1311.95,387.57 L1314.06,386.59 L1316.16,385.59 L1318.27,384.58 L1320.38,383.56 L1322.48,382.53 L1324.59,381.49 L1326.69,380.44 L1328.8,379.38 L1330.91,378.3 L1333.01,377.22 L1335.12,376.13 L1337.22,375.03 L1339.33,373.92 L1341.44,372.8 L1343.54,371.67 L1345.65,370.53 L1347.76,369.39 L1349.86,368.23 L1351.97,367.07 L1354.08,365.9 L1356.18,364.72 L1358.29,363.54 L1360.39,362.35 L1362.5,361.15 L1364.61,359.94 L1366.71,358.73 L1368.82,357.5 L1370.92,356.28 L1373.03,355.04 L1375.14,353.81 L1377.24,352.56 L1379.35,351.31 L1381.46,350.05 L1383.56,348.79 L1385.67,347.52 L1387.78,346.25 L1389.88,344.97 L1391.99,343.69 L1394.09,342.4 L1396.2,341.11 L1398.31,339.82 L1400.41,338.52 L1402.52,337.22 L1404.62,335.91 L1406.73,334.6 L1408.84,333.28 L1410.94,331.96 L1413.05,330.64 L1415.16,329.32 L1417.26,327.99 L1419.37,326.66 L1421.47,325.33 L1423.58,323.99 L1425.69,322.66 L1427.79,321.32 L1429.9,319.98 L1432.01,318.63 L1434.11,317.29 L1436.22,315.94 L1438.33,314.59 L1440.43,313.24 L1442.54,311.89 L1444.64,310.54 L1446.75,309.19 L1448.86,307.83 L1450.96,306.48 L1453.07,305.12 L1455.17,303.77 L1457.28,302.41 L1459.39,301.05 L1461.49,299.7 L1463.6,298.34 L1465.71,296.99 L1467.81,295.63 L1469.92,294.27 L1472.03,292.92 L1474.13,291.56 L1476.24,290.21 L1478.34,288.86 L1480.45,287.5 L1482.56,286.15 L1484.66,284.8 L1486.77,283.45 L1488.88,282.11 L1490.98,280.76 L1493.09,279.41 L1495.19,278.07 L1497.3,276.73 L1499.41,275.39 L1501.51,274.05 L1503.62,272.72 L1505.72,271.38 L1507.83,270.05 L1509.94,268.72 L1512.04,267.39 L1514.15,266.07 L1516.26,264.75 L1518.36,263.43 L1520.47,262.11 L1522.58,260.8 L1524.68,259.48 L1526.79,258.18 L1528.89,256.87 L1531,255.57 L1533.11,254.27 L1535.21,252.97 L1537.32,251.68 L1539.42,250.39 L1541.53,249.1 L1543.64,247.82 L1545.74,246.54 L1547.85,245.27 L1549.96,243.99 L1552.06,242.73 L1554.17,241.46 L1556.28,240.2 L1558.38,238.94 L1560.49,237.69 L1562.59,236.44 L1564.7,235.2 L1566.81,233.96 L1568.91,232.72 L1571.02,231.49 L1573.12,230.26 L1575.23,229.04 L1577.34,227.82 L1579.44,226.6 L1581.55,225.39 L1583.66,224.18 L1585.76,222.98 L1587.87,221.79 L1589.97,220.59 L1592.08,219.4 L1594.19,218.22 L1596.29,217.04 L1598.4,215.87 L1600.51,214.7 L1602.61,213.53 L1604.72,212.37 L1606.83,211.22 L1608.93,210.07 L1611.04,208.92 L1613.14,207.78 L1615.25,206.65 L1617.36,205.52 L1619.46,204.39 L1621.57,203.27 L1623.67,202.16 L1625.78,201.05 L1627.89,199.94 L1629.99,198.84 L1632.1,197.74 L1634.21,196.65 L1636.31,195.57 L1638.42,194.49 L1640.53,193.41 L1642.63,192.34 L1644.74,191.27 L1646.84,190.21 L1648.95,189.16 L1651.06,188.11 L1653.16,187.06 L1655.27,186.02 L1657.38,184.99 L1659.48,183.96 L1661.59,182.93 L1663.69,181.91 L1665.8,180.89 L1667.91,179.88 L1670.01,178.88 L1672.12,177.88 L1674.22,176.88 L1676.33,175.89 L1678.44,174.9 L1680.54,173.92 L1682.65,172.95 L1684.76,171.97 L1686.86,171.01 L1688.97,170.05 L1691.08,169.09 L1693.18,168.14 L1695.29,167.19 L1697.39,166.24 L1699.5,165.3" stroke="#1788E0" stroke-width="3.2" fill="none" stroke-linejoin="round" stroke-linecap="butt"/>
<path d="M1202.42,417.31V417.34M1198.92,417.31H1205.92M1198.92,417.34H1205.92M1210.85,417.01V417.09M1207.35,417.01H1214.35M1207.35,417.09H1214.35M1219.28,416.29V416.44M1215.78,416.29H1222.78M1215.78,416.44H1222.78M1227.7,415.19V415.42M1224.2,415.19H1231.2M1224.2,415.42H1231.2M1236.12,413.72V414.04M1232.62,413.72H1239.62M1232.62,414.04H1239.62M1244.55,411.9V412.32M1241.05,411.9H1248.05M1241.05,412.32H1248.05M1252.97,409.75V410.27M1249.47,409.75H1256.47M1249.47,410.27H1256.47M1261.4,407.28V407.91M1257.9,407.28H1264.9M1257.9,407.91H1264.9M1269.83,404.51V405.27M1266.33,404.51H1273.33M1266.33,405.27H1273.33M1278.25,401.45V402.34M1274.75,401.45H1281.75M1274.75,402.34H1281.75M1286.67,398.12V399.15M1283.17,398.12H1290.17M1283.17,399.15H1290.17M1295.1,394.55V395.72M1291.6,394.55H1298.6M1291.6,395.72H1298.6M1303.53,390.73V392.05M1300.03,390.73H1307.03M1300.03,392.05H1307.03M1311.95,386.69V388.16M1308.45,386.69H1315.45M1308.45,388.16H1315.45M1320.38,382.44V384.08M1316.88,382.44H1323.88M1316.88,384.08H1323.88M1328.8,377.99V379.8M1325.3,377.99H1332.3M1325.3,379.8H1332.3M1337.22,373.36V375.34M1333.72,373.36H1340.72M1333.72,375.34H1340.72M1345.65,368.57V370.72M1342.15,368.57H1349.15M1342.15,370.72H1349.15M1354.08,363.61V365.94M1350.58,363.61H1357.58M1350.58,365.94H1357.58M1362.5,358.51V361.03M1359,358.51H1366M1359,361.03H1366M1370.92,353.27V355.98M1367.42,353.27H1374.42M1367.42,355.98H1374.42M1379.35,347.92V350.82M1375.85,347.92H1382.85M1375.85,350.82H1382.85M1387.78,342.45V345.56M1384.28,342.45H1391.28M1384.28,345.56H1391.28M1396.2,336.89V340.2M1392.7,336.89H1399.7M1392.7,340.2H1399.7M1404.62,331.24V334.75M1401.12,331.24H1408.12M1401.12,334.75H1408.12M1413.05,325.5V329.24M1409.55,325.5H1416.55M1409.55,329.24H1416.55M1421.47,319.7V323.65M1417.97,319.7H1424.97M1417.97,323.65H1424.97M1429.9,313.84V318.01M1426.4,313.84H1433.4M1426.4,318.01H1433.4M1438.33,307.93V312.32M1434.83,307.93H1441.83M1434.83,312.32H1441.83M1446.75,301.97V306.6M1443.25,301.97H1450.25M1443.25,306.6H1450.25M1455.17,295.98V300.84M1451.67,295.98H1458.67M1451.67,300.84H1458.67M1463.6,289.96V295.06M1460.1,289.96H1467.1M1460.1,295.06H1467.1M1472.03,283.93V289.27M1468.53,283.93H1475.53M1468.53,289.27H1475.53M1480.45,277.88V283.46M1476.95,277.88H1483.95M1476.95,283.46H1483.95M1488.88,271.83V277.66M1485.38,271.83H1492.38M1485.38,277.66H1492.38M1497.3,265.78V271.86M1493.8,265.78H1500.8M1493.8,271.86H1500.8M1505.72,259.74V266.08M1502.22,259.74H1509.22M1502.22,266.08H1509.22M1514.15,253.71V260.31M1510.65,253.71H1517.65M1510.65,260.31H1517.65M1522.58,247.7V254.56M1519.08,247.7H1526.08M1519.08,254.56H1526.08M1531,241.71V248.83M1527.5,241.71H1534.5M1527.5,248.83H1534.5M1539.42,235.75V243.14M1535.92,235.75H1542.92M1535.92,243.14H1542.92M1547.85,229.83V237.49M1544.35,229.83H1551.35M1544.35,237.49H1551.35M1556.28,223.93V231.87M1552.78,223.93H1559.78M1552.78,231.87H1559.78M1564.7,218.08V226.3M1561.2,218.08H1568.2M1561.2,226.3H1568.2M1573.12,212.27V220.77M1569.62,212.27H1576.62M1569.62,220.77H1576.62M1581.55,206.51V215.29M1578.05,206.51H1585.05M1578.05,215.29H1585.05M1589.97,200.79V209.87M1586.47,200.79H1593.47M1586.47,209.87H1593.47M1598.4,195.13V204.49M1594.9,195.13H1601.9M1594.9,204.49H1601.9M1606.83,189.51V199.17M1603.33,189.51H1610.33M1603.33,199.17H1610.33M1615.25,183.95V193.91M1611.75,183.95H1618.75M1611.75,193.91H1618.75M1623.67,178.44V188.7M1620.17,178.44H1627.17M1620.17,188.7H1627.17M1632.1,172.99V183.55M1628.6,172.99H1635.6M1628.6,183.55H1635.6M1640.53,167.59V178.45M1637.03,167.59H1644.03M1637.03,178.45H1644.03M1648.95,162.25V173.42M1645.45,162.25H1652.45M1645.45,173.42H1652.45M1657.38,156.95V168.44M1653.88,156.95H1660.88M1653.88,168.44H1660.88M1665.8,151.71V163.51M1662.3,151.71H1669.3M1662.3,163.51H1669.3M1674.22,146.53V158.64M1670.72,146.53H1677.72M1670.72,158.64H1677.72M1682.65,141.39V153.83M1679.15,141.39H1686.15M1679.15,153.83H1686.15M1691.08,136.3V149.06M1687.58,136.3H1694.58M1687.58,149.06H1694.58" stroke="#000000" stroke-width="1.8" fill="none"/>
<path d="M1194,417.19 L1196.11,417.26 L1198.21,417.31 L1200.32,417.33 L1202.42,417.33 L1204.53,417.29 L1206.64,417.24 L1208.74,417.15 L1210.85,417.05 L1212.96,416.91 L1215.06,416.75 L1217.17,416.57 L1219.28,416.37 L1221.38,416.14 L1223.49,415.88 L1225.59,415.6 L1227.7,415.3 L1229.81,414.98 L1231.91,414.64 L1234.02,414.27 L1236.12,413.88 L1238.23,413.47 L1240.34,413.04 L1242.44,412.58 L1244.55,412.11 L1246.66,411.61 L1248.76,411.1 L1250.87,410.56 L1252.97,410.01 L1255.08,409.43 L1257.19,408.84 L1259.29,408.23 L1261.4,407.6 L1263.51,406.95 L1265.61,406.28 L1267.72,405.59 L1269.83,404.89 L1271.93,404.16 L1274.04,403.42 L1276.14,402.67 L1278.25,401.89 L1280.36,401.1 L1282.46,400.3 L1284.57,399.48 L1286.67,398.64 L1288.78,397.78 L1290.89,396.92 L1292.99,396.03 L1295.1,395.13 L1297.21,394.22 L1299.31,393.29 L1301.42,392.35 L1303.53,391.39 L1305.63,390.42 L1307.74,389.44 L1309.84,388.44 L1311.95,387.43 L1314.06,386.4 L1316.16,385.37 L1318.27,384.32 L1320.38,383.26 L1322.48,382.18 L1324.59,381.1 L1326.69,380 L1328.8,378.89 L1330.91,377.77 L1333.01,376.64 L1335.12,375.5 L1337.22,374.35 L1339.33,373.19 L1341.44,372.02 L1343.54,370.83 L1345.65,369.64 L1347.76,368.44 L1349.86,367.23 L1351.97,366.01 L1354.08,364.78 L1356.18,363.54 L1358.29,362.29 L1360.39,361.03 L1362.5,359.77 L1364.61,358.49 L1366.71,357.21 L1368.82,355.93 L1370.92,354.63 L1373.03,353.33 L1375.14,352.02 L1377.24,350.7 L1379.35,349.37 L1381.46,348.04 L1383.56,346.7 L1385.67,345.36 L1387.78,344.01 L1389.88,342.65 L1391.99,341.29 L1394.09,339.92 L1396.2,338.54 L1398.31,337.16 L1400.41,335.78 L1402.52,334.39 L1404.62,333 L1406.73,331.6 L1408.84,330.19 L1410.94,328.78 L1413.05,327.37 L1415.16,325.95 L1417.26,324.53 L1419.37,323.1 L1421.47,321.68 L1423.58,320.24 L1425.69,318.81 L1427.79,317.37 L1429.9,315.92 L1432.01,314.48 L1434.11,313.03 L1436.22,311.58 L1438.33,310.12 L1440.43,308.67 L1442.54,307.21 L1444.64,305.75 L1446.75,304.28 L1448.86,302.82 L1450.96,301.35 L1453.07,299.88 L1455.17,298.41 L1457.28,296.94 L1459.39,295.46 L1461.49,293.99 L1463.6,292.51 L1465.71,291.04 L1467.81,289.56 L1469.92,288.08 L1472.03,286.6 L1474.13,285.12 L1476.24,283.64 L1478.34,282.16 L1480.45,280.67 L1482.56,279.19 L1484.66,277.71 L1486.77,276.23 L1488.88,274.75 L1490.98,273.26 L1493.09,271.78 L1495.19,270.3 L1497.3,268.82 L1499.41,267.34 L1501.51,265.86 L1503.62,264.39 L1505.72,262.91 L1507.83,261.43 L1509.94,259.96 L1512.04,258.48 L1514.15,257.01 L1516.26,255.54 L1518.36,254.06 L1520.47,252.6 L1522.58,251.13 L1524.68,249.66 L1526.79,248.2 L1528.89,246.73 L1531,245.27 L1533.11,243.81 L1535.21,242.36 L1537.32,240.9 L1539.42,239.45 L1541.53,238 L1543.64,236.55 L1545.74,235.1 L1547.85,233.66 L1549.96,232.22 L1552.06,230.78 L1554.17,229.34 L1556.28,227.9 L1558.38,226.47 L1560.49,225.04 L1562.59,223.62 L1564.7,222.19 L1566.81,220.77 L1568.91,219.35 L1571.02,217.94 L1573.12,216.52 L1575.23,215.11 L1577.34,213.71 L1579.44,212.3 L1581.55,210.9 L1583.66,209.5 L1585.76,208.11 L1587.87,206.72 L1589.97,205.33 L1592.08,203.95 L1594.19,202.56 L1596.29,201.19 L1598.4,199.81 L1600.51,198.44 L1602.61,197.07 L1604.72,195.7 L1606.83,194.34 L1608.93,192.98 L1611.04,191.63 L1613.14,190.28 L1615.25,188.93 L1617.36,187.58 L1619.46,186.24 L1621.57,184.91 L1623.67,183.57 L1625.78,182.24 L1627.89,180.91 L1629.99,179.59 L1632.1,178.27 L1634.21,176.95 L1636.31,175.64 L1638.42,174.33 L1640.53,173.02 L1642.63,171.72 L1644.74,170.42 L1646.84,169.12 L1648.95,167.83 L1651.06,166.54 L1653.16,165.26 L1655.27,163.97 L1657.38,162.7 L1659.48,161.42 L1661.59,160.15 L1663.69,158.88 L1665.8,157.61 L1667.91,156.35 L1670.01,155.09 L1672.12,153.84 L1674.22,152.59 L1676.33,151.34 L1678.44,150.09 L1680.54,148.85 L1682.65,147.61 L1684.76,146.37 L1686.86,145.14 L1688.97,143.91 L1691.08,142.68 L1693.18,141.46 L1695.29,140.23 L1697.39,139.01 L1699.5,137.8" stroke="#000000" stroke-width="3.5" fill="none" stroke-linejoin="round" stroke-linecap="butt"/>
<rect x="1743.8" y="124.1" width="37.5" height="3.2" fill="#000000"/>
<text x="1799.37" y="137.5" font-size="29">125 cp/µl RNA</text>
<rect x="1743.8" y="174.5" width="37.5" height="3.2" fill="#1788E0"/>
<text x="1799.37" y="187.9" font-size="29">63 cp/µl RNA</text>
<rect x="1743.8" y="225.2" width="37.5" height="3.2" fill="#7F4F1C"/>
<text x="1799.37" y="238.6" font-size="29">31 cp/µl RNA</text>
<rect x="1743.8" y="276" width="37.5" height="3.2" fill="#137D50"/>
<text x="1799.37" y="289.4" font-size="29">16 cp/µl RNA</text>
<rect x="1743.8" y="326.5" width="37.5" height="3.2" fill="#E68EEA"/>
<text x="1799.37" y="339.9" font-size="29">0 cp/µl RNA</text>
<rect x="187.6" y="651.2" width="4.6" height="350.6" fill="#000"/>
<rect x="187.6" y="997.2" width="523" height="4.6" fill="#000"/>
<rect x="180.6" y="939.1" width="9.3" height="4.6" fill="#000"/>
<rect x="180.6" y="795.15" width="9.3" height="4.6" fill="#000"/>
<rect x="180.6" y="651.2" width="9.3" height="4.6" fill="#000"/>
<rect x="187.6" y="999.5" width="4.6" height="8.6" fill="#000"/>
<rect x="317.2" y="999.5" width="4.6" height="8.6" fill="#000"/>
<rect x="446.8" y="999.5" width="4.6" height="8.6" fill="#000"/>
<rect x="576.4" y="999.5" width="4.6" height="8.6" fill="#000"/>
<rect x="706" y="999.5" width="4.6" height="8.6" fill="#000"/>
<text x="166" y="951.7" font-size="29" text-anchor="end">1.0</text>
<text x="166" y="807.75" font-size="29" text-anchor="end">1.5</text>
<text x="166" y="663.8" font-size="29" text-anchor="end">2.0</text>
<text x="188.9" y="1039.5" font-size="29" text-anchor="middle">0</text>
<text x="317.2" y="1039.5" font-size="29" text-anchor="middle">30</text>
<text x="446.7" y="1039.5" font-size="29" text-anchor="middle">60</text>
<text x="576.2" y="1039.5" font-size="29" text-anchor="middle">90</text>
<text x="704.8" y="1039.5" font-size="29" text-anchor="middle">120</text>
<text x="370.06" y="614.3" font-size="29">LbuCas13a</text>
<text x="371.29" y="1081.6" font-size="28.3">Time (min)</text>
<text transform="translate(76.8,952) rotate(-90)" font-size="28.3">Fluorescence (F/F<tspan font-size="20" dy="10.3">t=6</tspan><tspan dy="-8.0" dx="3.6">)</tspan></text>
<path d="M224.46,940.39V940.77M220.46,940.39H228.46M220.46,940.77H228.46M233.1,939.38V940.15M229.1,939.38H237.1M229.1,940.15H237.1M241.74,938.38V939.54M237.74,938.38H245.74M237.74,939.54H245.74M250.38,937.39V938.93M246.38,937.39H254.38M246.38,938.93H254.38M259.02,936.41V938.33M255.02,936.41H263.02M255.02,938.33H263.02M267.66,935.43V937.74M263.66,935.43H271.66M263.66,937.74H271.66M276.3,934.46V937.15M272.3,934.46H280.3M272.3,937.15H280.3M284.94,933.5V936.58M280.94,933.5H288.94M280.94,936.58H288.94M293.58,932.55V936.01M289.58,932.55H297.58M289.58,936.01H297.58M302.22,931.61V935.45M298.22,931.61H306.22M298.22,935.45H306.22M310.86,930.67V934.89M306.86,930.67H314.86M306.86,934.89H314.86M319.5,929.75V934.35M315.5,929.75H323.5M315.5,934.35H323.5M328.14,928.83V933.82M324.14,928.83H332.14M324.14,933.82H332.14M336.78,927.91V933.28M332.78,927.91H340.78M332.78,933.28H340.78M345.42,926.99V932.74M341.42,926.99H349.42M341.42,932.74H349.42M354.06,926.06V932.2M350.06,926.06H358.06M350.06,932.2H358.06M362.7,925.13V931.65M358.7,925.13H366.7M358.7,931.65H366.7M371.34,924.2V931.11M367.34,924.2H375.34M367.34,931.11H375.34M379.98,923.28V930.58M375.98,923.28H383.98M375.98,930.58H383.98M388.62,922.37V930.05M384.62,922.37H392.62M384.62,930.05H392.62M397.26,921.48V929.54M393.26,921.48H401.26M393.26,929.54H401.26M405.9,920.6V929.04M401.9,920.6H409.9M401.9,929.04H409.9M414.54,919.74V928.57M410.54,919.74H418.54M410.54,928.57H418.54M423.18,918.9V928.12M419.18,918.9H427.18M419.18,928.12H427.18M431.82,918.1V927.69M427.82,918.1H435.82M427.82,927.69H435.82M440.46,917.32V927.3M436.46,917.32H444.46M436.46,927.3H444.46M449.1,916.58V926.94M445.1,916.58H453.1M445.1,926.94H453.1M457.74,915.87V926.62M453.74,915.87H461.74M453.74,926.62H461.74M466.38,915.19V926.33M462.38,915.19H470.38M462.38,926.33H470.38M475.02,914.53V926.05M471.02,914.53H479.02M471.02,926.05H479.02M483.66,914.07V925.59M479.66,914.07H487.66M479.66,925.59H487.66M492.3,913.62V925.14M488.3,913.62H496.3M488.3,925.14H496.3M500.94,913.19V924.71M496.94,913.19H504.94M496.94,924.71H504.94M509.58,912.77V924.29M505.58,912.77H513.58M505.58,924.29H513.58M518.22,912.37V923.89M514.22,912.37H522.22M514.22,923.89H522.22M526.86,911.98V923.5M522.86,911.98H530.86M522.86,923.5H530.86M535.5,911.61V923.12M531.5,911.61H539.5M531.5,923.12H539.5M544.14,911.25V922.76M540.14,911.25H548.14M540.14,922.76H548.14M552.78,910.9V922.42M548.78,910.9H556.78M548.78,922.42H556.78M561.42,910.57V922.09M557.42,910.57H565.42M557.42,922.09H565.42M570.06,910.26V921.77M566.06,910.26H574.06M566.06,921.77H574.06M578.7,909.96V921.47M574.7,909.96H582.7M574.7,921.47H582.7M587.34,909.68V921.19M583.34,909.68H591.34M583.34,921.19H591.34M595.98,909.4V920.92M591.98,909.4H599.98M591.98,920.92H599.98M604.62,909.14V920.65M600.62,909.14H608.62M600.62,920.65H608.62M613.26,908.88V920.39M609.26,908.88H617.26M609.26,920.39H617.26M621.9,908.62V920.14M617.9,908.62H625.9M617.9,920.14H625.9M630.54,908.38V919.9M626.54,908.38H634.54M626.54,919.9H634.54M639.18,908.15V919.67M635.18,908.15H643.18M635.18,919.67H643.18M647.82,907.93V919.44M643.82,907.93H651.82M643.82,919.44H651.82M656.46,907.72V919.23M652.46,907.72H660.46M652.46,919.23H660.46M665.1,907.52V919.03M661.1,907.52H669.1M661.1,919.03H669.1M673.74,907.33V918.85M669.74,907.33H677.74M669.74,918.85H677.74M682.38,907.16V918.67M678.38,907.16H686.38M678.38,918.67H686.38M691.02,907V918.51M687.02,907H695.02M687.02,918.51H695.02M699.66,906.85V918.37M695.66,906.85H703.66M695.66,918.37H703.66" stroke="#E68EEA" stroke-width="1.6" fill="none"/>
<path d="M215.82,941.4 L217.98,941.19 L220.14,940.99 L222.3,940.78 L224.46,940.58 L226.62,940.38 L228.78,940.17 L230.94,939.97 L233.1,939.77 L235.26,939.56 L237.42,939.36 L239.58,939.16 L241.74,938.96 L243.9,938.76 L246.06,938.56 L248.22,938.36 L250.38,938.16 L252.54,937.96 L254.7,937.76 L256.86,937.57 L259.02,937.37 L261.18,937.17 L263.34,936.98 L265.5,936.78 L267.66,936.59 L269.82,936.39 L271.98,936.2 L274.14,936 L276.3,935.81 L278.46,935.62 L280.62,935.42 L282.78,935.23 L284.94,935.04 L287.1,934.85 L289.26,934.66 L291.42,934.47 L293.58,934.28 L295.74,934.09 L297.9,933.9 L300.06,933.71 L302.22,933.53 L304.38,933.34 L306.54,933.15 L308.7,932.97 L310.86,932.78 L313.02,932.6 L315.18,932.42 L317.34,932.23 L319.5,932.05 L321.66,931.87 L323.82,931.69 L325.98,931.5 L328.14,931.32 L330.3,931.14 L332.46,930.96 L334.62,930.78 L336.78,930.6 L338.94,930.41 L341.1,930.23 L343.26,930.05 L345.42,929.86 L347.58,929.68 L349.74,929.5 L351.9,929.31 L354.06,929.13 L356.22,928.94 L358.38,928.76 L360.54,928.57 L362.7,928.39 L364.86,928.21 L367.02,928.02 L369.18,927.84 L371.34,927.66 L373.5,927.47 L375.66,927.29 L377.82,927.11 L379.98,926.93 L382.14,926.75 L384.3,926.57 L386.46,926.39 L388.62,926.21 L390.78,926.03 L392.94,925.86 L395.1,925.68 L397.26,925.51 L399.42,925.33 L401.58,925.16 L403.74,924.99 L405.9,924.82 L408.06,924.65 L410.22,924.48 L412.38,924.32 L414.54,924.15 L416.7,923.99 L418.86,923.83 L421.02,923.67 L423.18,923.51 L425.34,923.35 L427.5,923.2 L429.66,923.05 L431.82,922.89 L433.98,922.75 L436.14,922.6 L438.3,922.45 L440.46,922.31 L442.62,922.17 L444.78,922.03 L446.94,921.89 L449.1,921.76 L451.26,921.63 L453.42,921.5 L455.58,921.37 L457.74,921.25 L459.9,921.12 L462.06,921 L464.22,920.88 L466.38,920.76 L468.54,920.64 L470.7,920.52 L472.86,920.41 L475.02,920.29 L477.18,920.17 L479.34,920.06 L481.5,919.94 L483.66,919.83 L485.82,919.72 L487.98,919.6 L490.14,919.49 L492.3,919.38 L494.46,919.27 L496.62,919.17 L498.78,919.06 L500.94,918.95 L503.1,918.85 L505.26,918.74 L507.42,918.64 L509.58,918.53 L511.74,918.43 L513.9,918.33 L516.06,918.23 L518.22,918.13 L520.38,918.03 L522.54,917.93 L524.7,917.84 L526.86,917.74 L529.02,917.64 L531.18,917.55 L533.34,917.46 L535.5,917.36 L537.66,917.27 L539.82,917.18 L541.98,917.09 L544.14,917 L546.3,916.92 L548.46,916.83 L550.62,916.74 L552.78,916.66 L554.94,916.58 L557.1,916.49 L559.26,916.41 L561.42,916.33 L563.58,916.25 L565.74,916.17 L567.9,916.09 L570.06,916.02 L572.22,915.94 L574.38,915.86 L576.54,915.79 L578.7,915.72 L580.86,915.64 L583.02,915.57 L585.18,915.5 L587.34,915.43 L589.5,915.36 L591.66,915.3 L593.82,915.23 L595.98,915.16 L598.14,915.09 L600.3,915.03 L602.46,914.96 L604.62,914.89 L606.78,914.83 L608.94,914.76 L611.1,914.7 L613.26,914.63 L615.42,914.57 L617.58,914.51 L619.74,914.44 L621.9,914.38 L624.06,914.32 L626.22,914.26 L628.38,914.2 L630.54,914.14 L632.7,914.08 L634.86,914.02 L637.02,913.97 L639.18,913.91 L641.34,913.85 L643.5,913.8 L645.66,913.74 L647.82,913.69 L649.98,913.63 L652.14,913.58 L654.3,913.53 L656.46,913.47 L658.62,913.42 L660.78,913.37 L662.94,913.32 L665.1,913.28 L667.26,913.23 L669.42,913.18 L671.58,913.13 L673.74,913.09 L675.9,913.04 L678.06,913 L680.22,912.96 L682.38,912.91 L684.54,912.87 L686.7,912.83 L688.86,912.79 L691.02,912.76 L693.18,912.72 L695.34,912.68 L697.5,912.64 L699.66,912.61" stroke="#E68EEA" stroke-width="2.6" fill="none" stroke-linejoin="round" stroke-linecap="butt"/>
<path d="M224.46,940.38V940.67M220.46,940.38H228.46M220.46,940.67H228.46M233.1,939.37V939.95M229.1,939.37H237.1M229.1,939.95H237.1M241.74,938.36V939.23M237.74,938.36H245.74M237.74,939.23H245.74M250.38,937.36V938.51M246.38,937.36H254.38M246.38,938.51H254.38M259.02,936.36V937.8M255.02,936.36H263.02M255.02,937.8H263.02M267.66,935.37V937.1M263.66,935.37H271.66M263.66,937.1H271.66M276.3,934.38V936.4M272.3,934.38H280.3M272.3,936.4H280.3M284.94,933.4V935.71M280.94,933.4H288.94M280.94,935.71H288.94M293.58,932.43V935.02M289.58,932.43H297.58M289.58,935.02H297.58M302.22,931.46V934.34M298.22,931.46H306.22M298.22,934.34H306.22M310.86,930.5V933.66M306.86,930.5H314.86M306.86,933.66H314.86M319.5,929.54V932.99M315.5,929.54H323.5M315.5,932.99H323.5M328.14,928.59V932.33M324.14,928.59H332.14M324.14,932.33H332.14M336.78,927.64V931.67M332.78,927.64H340.78M332.78,931.67H340.78M345.42,926.68V931M341.42,926.68H349.42M341.42,931H349.42M354.06,925.71V930.32M350.06,925.71H358.06M350.06,930.32H358.06M362.7,924.75V929.65M358.7,924.75H366.7M358.7,929.65H366.7M371.34,923.79V928.97M367.34,923.79H375.34M367.34,928.97H375.34M379.98,922.83V928.3M375.98,922.83H383.98M375.98,928.3H383.98M388.62,921.88V927.64M384.62,921.88H392.62M384.62,927.64H392.62M397.26,921.09V926.85M393.26,921.09H401.26M393.26,926.85H401.26M405.9,920.31V926.07M401.9,920.31H409.9M401.9,926.07H409.9M414.54,919.54V925.3M410.54,919.54H418.54M410.54,925.3H418.54M423.18,918.8V924.56M419.18,918.8H427.18M419.18,924.56H427.18M431.82,918.07V923.83M427.82,918.07H435.82M427.82,923.83H435.82M440.46,917.38V923.13M436.46,917.38H444.46M436.46,923.13H444.46M449.1,916.7V922.46M445.1,916.7H453.1M445.1,922.46H453.1M457.74,916.06V921.82M453.74,916.06H461.74M453.74,921.82H461.74M466.38,915.45V921.2M462.38,915.45H470.38M462.38,921.2H470.38M475.02,914.84V920.6M471.02,914.84H479.02M471.02,920.6H479.02M483.66,914.24V920M479.66,914.24H487.66M479.66,920H487.66M492.3,913.66V919.41M488.3,913.66H496.3M488.3,919.41H496.3M500.94,913.08V918.84M496.94,913.08H504.94M496.94,918.84H504.94M509.58,912.53V918.28M505.58,912.53H513.58M505.58,918.28H513.58M518.22,911.98V917.74M514.22,911.98H522.22M514.22,917.74H522.22M526.86,911.45V917.21M522.86,911.45H530.86M522.86,917.21H530.86M535.5,910.94V916.69M531.5,910.94H539.5M531.5,916.69H539.5M544.14,910.44V916.2M540.14,910.44H548.14M540.14,916.2H548.14M552.78,909.96V915.71M548.78,909.96H556.78M548.78,915.71H556.78M561.42,909.49V915.25M557.42,909.49H565.42M557.42,915.25H565.42M570.06,909.05V914.8M566.06,909.05H574.06M566.06,914.8H574.06M578.7,908.62V914.38M574.7,908.62H582.7M574.7,914.38H582.7M587.34,908.21V913.97M583.34,908.21H591.34M583.34,913.97H591.34M595.98,907.82V913.57M591.98,907.82H599.98M591.98,913.57H599.98M604.62,907.43V913.19M600.62,907.43H608.62M600.62,913.19H608.62M613.26,907.05V912.81M609.26,907.05H617.26M609.26,912.81H617.26M621.9,906.69V912.45M617.9,906.69H625.9M617.9,912.45H625.9M630.54,906.33V912.09M626.54,906.33H634.54M626.54,912.09H634.54M639.18,905.99V911.75M635.18,905.99H643.18M635.18,911.75H643.18M647.82,905.66V911.42M643.82,905.66H651.82M643.82,911.42H651.82M656.46,905.34V911.1M652.46,905.34H660.46M652.46,911.1H660.46M665.1,905.04V910.8M661.1,905.04H669.1M661.1,910.8H669.1M673.74,904.75V910.51M669.74,904.75H677.74M669.74,910.51H677.74M682.38,904.47V910.23M678.38,904.47H686.38M678.38,910.23H686.38M691.02,904.22V909.97M687.02,904.22H695.02M687.02,909.97H695.02M699.66,903.97V909.73M695.66,903.97H703.66M695.66,909.73H703.66" stroke="#137D50" stroke-width="1.8" fill="none"/>
<path d="M215.82,941.4 L217.98,941.18 L220.14,940.96 L222.3,940.74 L224.46,940.53 L226.62,940.31 L228.78,940.09 L230.94,939.87 L233.1,939.66 L235.26,939.44 L237.42,939.23 L239.58,939.01 L241.74,938.79 L243.9,938.58 L246.06,938.36 L248.22,938.15 L250.38,937.94 L252.54,937.72 L254.7,937.51 L256.86,937.3 L259.02,937.08 L261.18,936.87 L263.34,936.66 L265.5,936.45 L267.66,936.23 L269.82,936.02 L271.98,935.81 L274.14,935.6 L276.3,935.39 L278.46,935.18 L280.62,934.97 L282.78,934.76 L284.94,934.56 L287.1,934.35 L289.26,934.14 L291.42,933.93 L293.58,933.72 L295.74,933.52 L297.9,933.31 L300.06,933.1 L302.22,932.9 L304.38,932.69 L306.54,932.49 L308.7,932.28 L310.86,932.08 L313.02,931.88 L315.18,931.67 L317.34,931.47 L319.5,931.27 L321.66,931.06 L323.82,930.86 L325.98,930.66 L328.14,930.46 L330.3,930.26 L332.46,930.06 L334.62,929.85 L336.78,929.65 L338.94,929.45 L341.1,929.24 L343.26,929.04 L345.42,928.84 L347.58,928.63 L349.74,928.43 L351.9,928.22 L354.06,928.02 L356.22,927.81 L358.38,927.61 L360.54,927.4 L362.7,927.2 L364.86,926.99 L367.02,926.79 L369.18,926.58 L371.34,926.38 L373.5,926.18 L375.66,925.97 L377.82,925.77 L379.98,925.57 L382.14,925.37 L384.3,925.16 L386.46,924.96 L388.62,924.76 L390.78,924.56 L392.94,924.36 L395.1,924.17 L397.26,923.97 L399.42,923.77 L401.58,923.58 L403.74,923.38 L405.9,923.19 L408.06,922.99 L410.22,922.8 L412.38,922.61 L414.54,922.42 L416.7,922.23 L418.86,922.05 L421.02,921.86 L423.18,921.68 L425.34,921.49 L427.5,921.31 L429.66,921.13 L431.82,920.95 L433.98,920.78 L436.14,920.6 L438.3,920.43 L440.46,920.25 L442.62,920.08 L444.78,919.92 L446.94,919.75 L449.1,919.58 L451.26,919.42 L453.42,919.26 L455.58,919.1 L457.74,918.94 L459.9,918.79 L462.06,918.63 L464.22,918.48 L466.38,918.33 L468.54,918.17 L470.7,918.02 L472.86,917.87 L475.02,917.72 L477.18,917.57 L479.34,917.42 L481.5,917.27 L483.66,917.12 L485.82,916.97 L487.98,916.83 L490.14,916.68 L492.3,916.54 L494.46,916.39 L496.62,916.25 L498.78,916.11 L500.94,915.96 L503.1,915.82 L505.26,915.68 L507.42,915.54 L509.58,915.4 L511.74,915.27 L513.9,915.13 L516.06,915 L518.22,914.86 L520.38,914.73 L522.54,914.59 L524.7,914.46 L526.86,914.33 L529.02,914.2 L531.18,914.07 L533.34,913.94 L535.5,913.82 L537.66,913.69 L539.82,913.56 L541.98,913.44 L544.14,913.32 L546.3,913.19 L548.46,913.07 L550.62,912.95 L552.78,912.84 L554.94,912.72 L557.1,912.6 L559.26,912.49 L561.42,912.37 L563.58,912.26 L565.74,912.15 L567.9,912.03 L570.06,911.93 L572.22,911.82 L574.38,911.71 L576.54,911.6 L578.7,911.5 L580.86,911.39 L583.02,911.29 L585.18,911.19 L587.34,911.09 L589.5,910.99 L591.66,910.89 L593.82,910.79 L595.98,910.7 L598.14,910.6 L600.3,910.5 L602.46,910.4 L604.62,910.31 L606.78,910.21 L608.94,910.12 L611.1,910.03 L613.26,909.93 L615.42,909.84 L617.58,909.75 L619.74,909.66 L621.9,909.57 L624.06,909.48 L626.22,909.39 L628.38,909.3 L630.54,909.21 L632.7,909.12 L634.86,909.04 L637.02,908.95 L639.18,908.87 L641.34,908.78 L643.5,908.7 L645.66,908.62 L647.82,908.54 L649.98,908.46 L652.14,908.38 L654.3,908.3 L656.46,908.22 L658.62,908.14 L660.78,908.07 L662.94,907.99 L665.1,907.92 L667.26,907.84 L669.42,907.77 L671.58,907.7 L673.74,907.63 L675.9,907.56 L678.06,907.49 L680.22,907.42 L682.38,907.35 L684.54,907.29 L686.7,907.22 L688.86,907.16 L691.02,907.09 L693.18,907.03 L695.34,906.97 L697.5,906.91 L699.66,906.85" stroke="#137D50" stroke-width="3" fill="none" stroke-linejoin="round" stroke-linecap="butt"/>
<path d="M224.46,940.29V940.64M220.46,940.29H228.46M220.46,940.64H228.46M233.1,939.19V939.88M229.1,939.19H237.1M229.1,939.88H237.1M241.74,938.09V939.13M237.74,938.09H245.74M237.74,939.13H245.74M250.38,937.01V938.39M246.38,937.01H254.38M246.38,938.39H254.38M259.02,935.93V937.66M255.02,935.93H263.02M255.02,937.66H263.02M267.66,934.86V936.93M263.66,934.86H271.66M263.66,936.93H271.66M276.3,933.8V936.22M272.3,933.8H280.3M272.3,936.22H280.3M284.94,932.75V935.51M280.94,932.75H288.94M280.94,935.51H288.94M293.58,931.71V934.82M289.58,931.71H297.58M289.58,934.82H297.58M302.22,930.68V934.13M298.22,930.68H306.22M298.22,934.13H306.22M310.86,929.65V933.45M306.86,929.65H314.86M306.86,933.45H314.86M319.5,928.64V932.79M315.5,928.64H323.5M315.5,932.79H323.5M328.14,927.64V932.13M324.14,927.64H332.14M324.14,932.13H332.14M336.78,926.64V931.48M332.78,926.64H340.78M332.78,931.48H340.78M345.42,925.64V930.82M341.42,925.64H349.42M341.42,930.82H349.42M354.06,924.64V930.17M350.06,924.64H358.06M350.06,930.17H358.06M362.7,923.64V929.52M358.7,923.64H366.7M358.7,929.52H366.7M371.34,922.65V928.87M367.34,922.65H375.34M367.34,928.87H375.34M379.98,921.67V928.23M375.98,921.67H383.98M375.98,928.23H383.98M388.62,920.69V927.6M384.62,920.69H392.62M384.62,927.6H392.62M397.26,919.9V926.81M393.26,919.9H401.26M393.26,926.81H401.26M405.9,919.13V926.04M401.9,919.13H409.9M401.9,926.04H409.9M414.54,918.37V925.28M410.54,918.37H418.54M410.54,925.28H418.54M423.18,917.63V924.54M419.18,917.63H427.18M419.18,924.54H427.18M431.82,916.91V923.82M427.82,916.91H435.82M427.82,923.82H435.82M440.46,916.22V923.13M436.46,916.22H444.46M436.46,923.13H444.46M449.1,915.55V922.46M445.1,915.55H453.1M445.1,922.46H453.1M457.74,914.91V921.82M453.74,914.91H461.74M453.74,921.82H461.74M466.38,914.3V921.21M462.38,914.3H470.38M462.38,921.21H470.38M475.02,913.69V920.6M471.02,913.69H479.02M471.02,920.6H479.02M483.66,913.11V920.02M479.66,913.11H487.66M479.66,920.02H487.66M492.3,912.53V919.44M488.3,912.53H496.3M488.3,919.44H496.3M500.94,911.97V918.88M496.94,911.97H504.94M496.94,918.88H504.94M509.58,911.42V918.33M505.58,911.42H513.58M505.58,918.33H513.58M518.22,910.89V917.79M514.22,910.89H522.22M514.22,917.79H522.22M526.86,910.36V917.27M522.86,910.36H530.86M522.86,917.27H530.86M535.5,909.85V916.76M531.5,909.85H539.5M531.5,916.76H539.5M544.14,909.36V916.27M540.14,909.36H548.14M540.14,916.27H548.14M552.78,908.87V915.78M548.78,908.87H556.78M548.78,915.78H556.78M561.42,908.4V915.31M557.42,908.4H565.42M557.42,915.31H565.42M570.06,907.94V914.85M566.06,907.94H574.06M566.06,914.85H574.06M578.7,907.49V914.4M574.7,907.49H582.7M574.7,914.4H582.7M587.34,907.05V913.96M583.34,907.05H591.34M583.34,913.96H591.34M595.98,906.63V913.54M591.98,906.63H599.98M591.98,913.54H599.98M604.62,906.21V913.12M600.62,906.21H608.62M600.62,913.12H608.62M613.26,905.8V912.71M609.26,905.8H617.26M609.26,912.71H617.26M621.9,905.39V912.3M617.9,905.39H625.9M617.9,912.3H625.9M630.54,905V911.91M626.54,905H634.54M626.54,911.91H634.54M639.18,904.62V911.53M635.18,904.62H643.18M635.18,911.53H643.18M647.82,904.25V911.16M643.82,904.25H651.82M643.82,911.16H651.82M656.46,903.89V910.8M652.46,903.89H660.46M652.46,910.8H660.46M665.1,903.53V910.44M661.1,903.53H669.1M661.1,910.44H669.1M673.74,903.19V910.1M669.74,903.19H677.74M669.74,910.1H677.74M682.38,902.87V909.78M678.38,902.87H686.38M678.38,909.78H686.38M691.02,902.55V909.46M687.02,902.55H695.02M687.02,909.46H695.02M699.66,902.25V909.16M695.66,902.25H703.66M695.66,909.16H703.66" stroke="#7F4F1C" stroke-width="1.8" fill="none"/>
<path d="M215.82,941.4 L217.98,941.17 L220.14,940.93 L222.3,940.7 L224.46,940.46 L226.62,940.23 L228.78,940 L230.94,939.77 L233.1,939.53 L235.26,939.3 L237.42,939.07 L239.58,938.84 L241.74,938.61 L243.9,938.38 L246.06,938.15 L248.22,937.93 L250.38,937.7 L252.54,937.47 L254.7,937.25 L256.86,937.02 L259.02,936.79 L261.18,936.57 L263.34,936.34 L265.5,936.12 L267.66,935.9 L269.82,935.67 L271.98,935.45 L274.14,935.23 L276.3,935.01 L278.46,934.79 L280.62,934.57 L282.78,934.35 L284.94,934.13 L287.1,933.91 L289.26,933.7 L291.42,933.48 L293.58,933.26 L295.74,933.05 L297.9,932.83 L300.06,932.62 L302.22,932.4 L304.38,932.19 L306.54,931.98 L308.7,931.76 L310.86,931.55 L313.02,931.34 L315.18,931.13 L317.34,930.92 L319.5,930.71 L321.66,930.5 L323.82,930.3 L325.98,930.09 L328.14,929.88 L330.3,929.68 L332.46,929.47 L334.62,929.26 L336.78,929.06 L338.94,928.85 L341.1,928.64 L343.26,928.44 L345.42,928.23 L347.58,928.02 L349.74,927.82 L351.9,927.61 L354.06,927.4 L356.22,927.2 L358.38,926.99 L360.54,926.78 L362.7,926.58 L364.86,926.37 L367.02,926.17 L369.18,925.96 L371.34,925.76 L373.5,925.56 L375.66,925.35 L377.82,925.15 L379.98,924.95 L382.14,924.75 L384.3,924.55 L386.46,924.35 L388.62,924.15 L390.78,923.95 L392.94,923.75 L395.1,923.55 L397.26,923.36 L399.42,923.16 L401.58,922.97 L403.74,922.77 L405.9,922.58 L408.06,922.39 L410.22,922.2 L412.38,922.01 L414.54,921.82 L416.7,921.64 L418.86,921.45 L421.02,921.27 L423.18,921.08 L425.34,920.9 L427.5,920.72 L429.66,920.54 L431.82,920.37 L433.98,920.19 L436.14,920.02 L438.3,919.84 L440.46,919.67 L442.62,919.5 L444.78,919.34 L446.94,919.17 L449.1,919.01 L451.26,918.84 L453.42,918.68 L455.58,918.52 L457.74,918.37 L459.9,918.21 L462.06,918.06 L464.22,917.9 L466.38,917.75 L468.54,917.6 L470.7,917.45 L472.86,917.3 L475.02,917.15 L477.18,917 L479.34,916.85 L481.5,916.71 L483.66,916.56 L485.82,916.42 L487.98,916.27 L490.14,916.13 L492.3,915.99 L494.46,915.84 L496.62,915.7 L498.78,915.56 L500.94,915.42 L503.1,915.29 L505.26,915.15 L507.42,915.01 L509.58,914.88 L511.74,914.74 L513.9,914.61 L516.06,914.47 L518.22,914.34 L520.38,914.21 L522.54,914.08 L524.7,913.95 L526.86,913.82 L529.02,913.69 L531.18,913.56 L533.34,913.43 L535.5,913.31 L537.66,913.18 L539.82,913.06 L541.98,912.93 L544.14,912.81 L546.3,912.69 L548.46,912.57 L550.62,912.45 L552.78,912.33 L554.94,912.21 L557.1,912.09 L559.26,911.97 L561.42,911.85 L563.58,911.74 L565.74,911.62 L567.9,911.51 L570.06,911.39 L572.22,911.28 L574.38,911.17 L576.54,911.06 L578.7,910.95 L580.86,910.83 L583.02,910.73 L585.18,910.62 L587.34,910.51 L589.5,910.4 L591.66,910.29 L593.82,910.19 L595.98,910.08 L598.14,909.97 L600.3,909.87 L602.46,909.77 L604.62,909.66 L606.78,909.56 L608.94,909.45 L611.1,909.35 L613.26,909.25 L615.42,909.15 L617.58,909.05 L619.74,908.95 L621.9,908.85 L624.06,908.75 L626.22,908.65 L628.38,908.55 L630.54,908.46 L632.7,908.36 L634.86,908.26 L637.02,908.17 L639.18,908.07 L641.34,907.98 L643.5,907.89 L645.66,907.79 L647.82,907.7 L649.98,907.61 L652.14,907.52 L654.3,907.43 L656.46,907.34 L658.62,907.25 L660.78,907.16 L662.94,907.08 L665.1,906.99 L667.26,906.9 L669.42,906.82 L671.58,906.73 L673.74,906.65 L675.9,906.57 L678.06,906.48 L680.22,906.4 L682.38,906.32 L684.54,906.24 L686.7,906.16 L688.86,906.08 L691.02,906 L693.18,905.93 L695.34,905.85 L697.5,905.78 L699.66,905.7" stroke="#7F4F1C" stroke-width="3" fill="none" stroke-linejoin="round" stroke-linecap="butt"/>
<path d="M224.46,940.18V940.65M220.46,940.18H228.46M220.46,940.65H228.46M233.1,938.97V939.89M229.1,938.97H237.1M229.1,939.89H237.1M241.74,937.76V939.14M237.74,937.76H245.74M237.74,939.14H245.74M250.38,936.54V938.4M246.38,936.54H254.38M246.38,938.4H254.38M259.02,935.34V937.65M255.02,935.34H263.02M255.02,937.65H263.02M267.66,934.13V936.9M263.66,934.13H271.66M263.66,936.9H271.66M276.3,932.92V936.16M272.3,932.92H280.3M272.3,936.16H280.3M284.94,931.72V935.42M280.94,931.72H288.94M280.94,935.42H288.94M293.58,930.52V934.68M289.58,930.52H297.58M289.58,934.68H297.58M302.22,929.32V933.94M298.22,929.32H306.22M298.22,933.94H306.22M310.86,928.12V933.21M306.86,928.12H314.86M306.86,933.21H314.86M319.5,926.92V932.47M315.5,926.92H323.5M315.5,932.47H323.5M328.14,925.73V931.74M324.14,925.73H332.14M324.14,931.74H332.14M336.78,924.53V931.01M332.78,924.53H340.78M332.78,931.01H340.78M345.42,923.34V930.28M341.42,923.34H349.42M341.42,930.28H349.42M354.06,922.16V929.56M350.06,922.16H358.06M350.06,929.56H358.06M362.7,920.97V928.84M358.7,920.97H366.7M358.7,928.84H366.7M371.34,919.79V928.12M367.34,919.79H375.34M367.34,928.12H375.34M379.98,918.61V927.4M375.98,918.61H383.98M375.98,927.4H383.98M388.62,917.43V926.69M384.62,917.43H392.62M384.62,926.69H392.62M397.26,916.26V925.97M393.26,916.26H401.26M393.26,925.97H401.26M405.9,915.08V925.26M401.9,915.08H409.9M401.9,925.26H409.9M414.54,913.91V924.55M410.54,913.91H418.54M410.54,924.55H418.54M423.18,912.73V923.84M419.18,912.73H427.18M419.18,923.84H427.18M431.82,911.56V923.13M427.82,911.56H435.82M427.82,923.13H435.82M440.46,910.39V922.42M436.46,910.39H444.46M436.46,922.42H444.46M449.1,909.21V921.7M445.1,909.21H453.1M445.1,921.7H453.1M457.74,908.04V920.99M453.74,908.04H461.74M453.74,920.99H461.74M466.38,906.86V920.28M462.38,906.86H470.38M462.38,920.28H470.38M475.02,905.68V919.56M471.02,905.68H479.02M471.02,919.56H479.02M483.66,904.48V918.83M479.66,904.48H487.66M479.66,918.83H487.66M492.3,903.28V918.09M488.3,903.28H496.3M488.3,918.09H496.3M500.94,902.08V917.35M496.94,902.08H504.94M496.94,917.35H504.94M509.58,900.87V916.61M505.58,900.87H513.58M505.58,916.61H513.58M518.22,899.67V915.86M514.22,899.67H522.22M514.22,915.86H522.22M526.86,898.47V915.12M522.86,898.47H530.86M522.86,915.12H530.86M535.5,897.27V914.39M531.5,897.27H539.5M531.5,914.39H539.5M544.14,896.09V913.67M540.14,896.09H548.14M540.14,913.67H548.14M552.78,894.91V912.96M548.78,894.91H556.78M548.78,912.96H556.78M561.42,893.76V912.26M557.42,893.76H565.42M557.42,912.26H565.42M570.06,892.62V911.59M566.06,892.62H574.06M566.06,911.59H574.06M578.7,891.5V910.93M574.7,891.5H582.7M574.7,910.93H582.7M587.34,890.4V910.29M583.34,890.4H591.34M583.34,910.29H591.34M595.98,889.32V909.68M591.98,889.32H599.98M591.98,909.68H599.98M604.62,888.25V909.07M600.62,888.25H608.62M600.62,909.07H608.62M613.26,887.18V908.47M609.26,887.18H617.26M609.26,908.47H617.26M621.9,886.13V907.88M617.9,886.13H625.9M617.9,907.88H625.9M630.54,885.09V907.3M626.54,885.09H634.54M626.54,907.3H634.54M639.18,884.07V906.74M635.18,884.07H643.18M635.18,906.74H643.18M647.82,883.05V906.18M643.82,883.05H651.82M643.82,906.18H651.82M656.46,882.04V905.64M652.46,882.04H660.46M652.46,905.64H660.46M665.1,881.05V905.11M661.1,881.05H669.1M661.1,905.11H669.1M673.74,880.07V904.59M669.74,880.07H677.74M669.74,904.59H677.74M682.38,879.1V904.08M678.38,879.1H686.38M678.38,904.08H686.38M691.02,878.14V903.59M687.02,878.14H695.02M687.02,903.59H695.02M699.66,877.2V903.11M695.66,877.2H703.66M695.66,903.11H703.66" stroke="#1788E0" stroke-width="1.8" fill="none"/>
<path d="M215.82,941.4 L217.98,941.15 L220.14,940.91 L222.3,940.66 L224.46,940.41 L226.62,940.17 L228.78,939.92 L230.94,939.68 L233.1,939.43 L235.26,939.19 L237.42,938.94 L239.58,938.7 L241.74,938.45 L243.9,938.2 L246.06,937.96 L248.22,937.71 L250.38,937.47 L252.54,937.23 L254.7,936.98 L256.86,936.74 L259.02,936.49 L261.18,936.25 L263.34,936 L265.5,935.76 L267.66,935.52 L269.82,935.27 L271.98,935.03 L274.14,934.78 L276.3,934.54 L278.46,934.3 L280.62,934.05 L282.78,933.81 L284.94,933.57 L287.1,933.33 L289.26,933.08 L291.42,932.84 L293.58,932.6 L295.74,932.36 L297.9,932.11 L300.06,931.87 L302.22,931.63 L304.38,931.39 L306.54,931.15 L308.7,930.9 L310.86,930.66 L313.02,930.42 L315.18,930.18 L317.34,929.94 L319.5,929.7 L321.66,929.46 L323.82,929.22 L325.98,928.97 L328.14,928.73 L330.3,928.49 L332.46,928.25 L334.62,928.01 L336.78,927.77 L338.94,927.53 L341.1,927.29 L343.26,927.05 L345.42,926.81 L347.58,926.57 L349.74,926.34 L351.9,926.1 L354.06,925.86 L356.22,925.62 L358.38,925.38 L360.54,925.14 L362.7,924.91 L364.86,924.67 L367.02,924.43 L369.18,924.19 L371.34,923.95 L373.5,923.72 L375.66,923.48 L377.82,923.24 L379.98,923.01 L382.14,922.77 L384.3,922.53 L386.46,922.3 L388.62,922.06 L390.78,921.82 L392.94,921.59 L395.1,921.35 L397.26,921.12 L399.42,920.88 L401.58,920.64 L403.74,920.41 L405.9,920.17 L408.06,919.94 L410.22,919.7 L412.38,919.46 L414.54,919.23 L416.7,918.99 L418.86,918.76 L421.02,918.52 L423.18,918.29 L425.34,918.05 L427.5,917.81 L429.66,917.58 L431.82,917.34 L433.98,917.11 L436.14,916.87 L438.3,916.64 L440.46,916.4 L442.62,916.17 L444.78,915.93 L446.94,915.69 L449.1,915.46 L451.26,915.22 L453.42,914.99 L455.58,914.75 L457.74,914.51 L459.9,914.28 L462.06,914.04 L464.22,913.8 L466.38,913.57 L468.54,913.33 L470.7,913.09 L472.86,912.86 L475.02,912.62 L477.18,912.38 L479.34,912.14 L481.5,911.9 L483.66,911.66 L485.82,911.41 L487.98,911.17 L490.14,910.93 L492.3,910.69 L494.46,910.44 L496.62,910.2 L498.78,909.96 L500.94,909.71 L503.1,909.47 L505.26,909.23 L507.42,908.98 L509.58,908.74 L511.74,908.5 L513.9,908.25 L516.06,908.01 L518.22,907.77 L520.38,907.52 L522.54,907.28 L524.7,907.04 L526.86,906.8 L529.02,906.55 L531.18,906.31 L533.34,906.07 L535.5,905.83 L537.66,905.59 L539.82,905.35 L541.98,905.12 L544.14,904.88 L546.3,904.64 L548.46,904.41 L550.62,904.17 L552.78,903.94 L554.94,903.7 L557.1,903.47 L559.26,903.24 L561.42,903.01 L563.58,902.78 L565.74,902.55 L567.9,902.33 L570.06,902.1 L572.22,901.88 L574.38,901.65 L576.54,901.43 L578.7,901.21 L580.86,900.99 L583.02,900.78 L585.18,900.56 L587.34,900.35 L589.5,900.13 L591.66,899.92 L593.82,899.71 L595.98,899.5 L598.14,899.29 L600.3,899.08 L602.46,898.87 L604.62,898.66 L606.78,898.45 L608.94,898.24 L611.1,898.03 L613.26,897.83 L615.42,897.62 L617.58,897.42 L619.74,897.21 L621.9,897.01 L624.06,896.8 L626.22,896.6 L628.38,896.4 L630.54,896.2 L632.7,896 L634.86,895.8 L637.02,895.6 L639.18,895.4 L641.34,895.2 L643.5,895.01 L645.66,894.81 L647.82,894.62 L649.98,894.42 L652.14,894.23 L654.3,894.04 L656.46,893.84 L658.62,893.65 L660.78,893.46 L662.94,893.27 L665.1,893.08 L667.26,892.89 L669.42,892.7 L671.58,892.52 L673.74,892.33 L675.9,892.14 L678.06,891.96 L680.22,891.78 L682.38,891.59 L684.54,891.41 L686.7,891.23 L688.86,891.05 L691.02,890.87 L693.18,890.69 L695.34,890.51 L697.5,890.33 L699.66,890.15" stroke="#1788E0" stroke-width="3" fill="none" stroke-linejoin="round" stroke-linecap="butt"/>
<path d="M224.46,940.38V940.55M220.46,940.38H228.46M220.46,940.55H228.46M233.1,939.3V939.63M229.1,939.3H237.1M229.1,939.63H237.1M241.74,938.15V938.64M237.74,938.15H245.74M237.74,938.64H245.74M250.38,936.95V937.6M246.38,936.95H254.38M246.38,937.6H254.38M259.02,935.69V936.51M255.02,935.69H263.02M255.02,936.51H263.02M267.66,934.37V935.36M263.66,934.37H271.66M263.66,935.36H271.66M276.3,933.01V934.16M272.3,933.01H280.3M272.3,934.16H280.3M284.94,931.4V932.91M280.94,931.4H288.94M280.94,932.91H288.94M293.58,929.65V931.51M289.58,929.65H297.58M289.58,931.51H297.58M302.22,927.81V930.02M298.22,927.81H306.22M298.22,930.02H306.22M310.86,925.95V928.52M306.86,925.95H314.86M306.86,928.52H314.86M319.5,924.13V927.05M315.5,924.13H323.5M315.5,927.05H323.5M328.14,922.4V925.68M324.14,922.4H332.14M324.14,925.68H332.14M336.78,920.79V924.51M332.78,920.79H340.78M332.78,924.51H340.78M345.42,919.33V923.56M341.42,919.33H349.42M341.42,923.56H349.42M354.06,917.97V922.72M350.06,917.97H358.06M350.06,922.72H358.06M362.7,916.69V921.96M358.7,916.69H366.7M358.7,921.96H366.7M371.34,915.45V921.25M367.34,915.45H375.34M367.34,921.25H375.34M379.98,914.22V920.54M375.98,914.22H383.98M375.98,920.54H383.98M388.62,912.98V919.81M384.62,912.98H392.62M384.62,919.81H392.62M397.26,911.67V919.03M393.26,911.67H401.26M393.26,919.03H401.26M405.9,910.28V918.16M401.9,910.28H409.9M401.9,918.16H409.9M414.54,908.84V917.23M410.54,908.84H418.54M410.54,917.23H418.54M423.18,907.35V916.27M419.18,907.35H427.18M419.18,916.27H427.18M431.82,905.83V915.27M427.82,905.83H435.82M427.82,915.27H435.82M440.46,904.28V914.24M436.46,904.28H444.46M436.46,914.24H444.46M449.1,902.71V913.18M445.1,902.71H453.1M445.1,913.18H453.1M457.74,901.11V912.11M453.74,901.11H461.74M453.74,912.11H461.74M466.38,899.5V911.02M462.38,899.5H470.38M462.38,911.02H470.38M475.02,897.93V909.84M471.02,897.93H479.02M471.02,909.84H479.02M483.66,896.31V908.62M479.66,896.31H487.66M479.66,908.62H487.66M492.3,894.65V907.37M488.3,894.65H496.3M488.3,907.37H496.3M500.94,892.97V906.08M496.94,892.97H504.94M496.94,906.08H504.94M509.58,891.27V904.78M505.58,891.27H513.58M505.58,904.78H513.58M518.22,889.55V903.46M514.22,889.55H522.22M514.22,903.46H522.22M526.86,887.82V902.13M522.86,887.82H530.86M522.86,902.13H530.86M535.5,886.1V900.8M531.5,886.1H539.5M531.5,900.8H539.5M544.14,884.38V899.48M540.14,884.38H548.14M540.14,899.48H548.14M552.78,882.68V898.18M548.78,882.68H556.78M548.78,898.18H556.78M561.42,880.99V896.9M557.42,880.99H565.42M557.42,896.9H565.42M570.06,879.34V895.64M566.06,879.34H574.06M566.06,895.64H574.06M578.7,877.73V894.42M574.7,877.73H582.7M574.7,894.42H582.7M587.34,876.31V893.09M583.34,876.31H591.34M583.34,893.09H591.34M595.98,874.92V891.78M591.98,874.92H599.98M591.98,891.78H599.98M604.62,873.54V890.49M600.62,873.54H608.62M600.62,890.49H608.62M613.26,872.18V889.2M609.26,872.18H617.26M609.26,889.2H617.26M621.9,870.83V887.94M617.9,870.83H625.9M617.9,887.94H625.9M630.54,869.49V886.68M626.54,869.49H634.54M626.54,886.68H634.54M639.18,868.17V885.44M635.18,868.17H643.18M635.18,885.44H643.18M647.82,866.86V884.22M643.82,866.86H651.82M643.82,884.22H651.82M656.46,865.57V883.01M652.46,865.57H660.46M652.46,883.01H660.46M665.1,864.3V881.82M661.1,864.3H669.1M661.1,881.82H669.1M673.74,863.04V880.64M669.74,863.04H677.74M669.74,880.64H677.74M682.38,861.79V879.48M678.38,861.79H686.38M678.38,879.48H686.38M691.02,860.56V878.33M687.02,860.56H695.02M687.02,878.33H695.02M699.66,859.35V877.2M695.66,859.35H703.66M695.66,877.2H703.66" stroke="#000000" stroke-width="1.8" fill="none"/>
<path d="M215.82,941.4 L217.98,941.17 L220.14,940.94 L222.3,940.7 L224.46,940.46 L226.62,940.22 L228.78,939.97 L230.94,939.72 L233.1,939.46 L235.26,939.2 L237.42,938.94 L239.58,938.67 L241.74,938.4 L243.9,938.12 L246.06,937.84 L248.22,937.56 L250.38,937.27 L252.54,936.99 L254.7,936.69 L256.86,936.4 L259.02,936.1 L261.18,935.79 L263.34,935.49 L265.5,935.18 L267.66,934.87 L269.82,934.55 L271.98,934.24 L274.14,933.91 L276.3,933.59 L278.46,933.24 L280.62,932.89 L282.78,932.53 L284.94,932.15 L287.1,931.77 L289.26,931.38 L291.42,930.98 L293.58,930.58 L295.74,930.17 L297.9,929.75 L300.06,929.34 L302.22,928.92 L304.38,928.5 L306.54,928.08 L308.7,927.65 L310.86,927.23 L313.02,926.82 L315.18,926.4 L317.34,925.99 L319.5,925.59 L321.66,925.19 L323.82,924.8 L325.98,924.42 L328.14,924.04 L330.3,923.68 L332.46,923.32 L334.62,922.98 L336.78,922.65 L338.94,922.34 L341.1,922.03 L343.26,921.73 L345.42,921.44 L347.58,921.16 L349.74,920.88 L351.9,920.61 L354.06,920.35 L356.22,920.08 L358.38,919.83 L360.54,919.57 L362.7,919.32 L364.86,919.08 L367.02,918.83 L369.18,918.59 L371.34,918.35 L373.5,918.11 L375.66,917.87 L377.82,917.62 L379.98,917.38 L382.14,917.14 L384.3,916.89 L386.46,916.64 L388.62,916.39 L390.78,916.14 L392.94,915.88 L395.1,915.62 L397.26,915.35 L399.42,915.08 L401.58,914.8 L403.74,914.51 L405.9,914.22 L408.06,913.93 L410.22,913.63 L412.38,913.34 L414.54,913.04 L416.7,912.73 L418.86,912.43 L421.02,912.12 L423.18,911.81 L425.34,911.5 L427.5,911.18 L429.66,910.87 L431.82,910.55 L433.98,910.23 L436.14,909.91 L438.3,909.59 L440.46,909.26 L442.62,908.93 L444.78,908.61 L446.94,908.28 L449.1,907.94 L451.26,907.61 L453.42,907.28 L455.58,906.95 L457.74,906.61 L459.9,906.27 L462.06,905.94 L464.22,905.6 L466.38,905.26 L468.54,904.92 L470.7,904.58 L472.86,904.23 L475.02,903.88 L477.18,903.53 L479.34,903.18 L481.5,902.82 L483.66,902.47 L485.82,902.11 L487.98,901.74 L490.14,901.38 L492.3,901.01 L494.46,900.64 L496.62,900.27 L498.78,899.9 L500.94,899.53 L503.1,899.15 L505.26,898.78 L507.42,898.4 L509.58,898.02 L511.74,897.64 L513.9,897.26 L516.06,896.88 L518.22,896.5 L520.38,896.12 L522.54,895.74 L524.7,895.36 L526.86,894.98 L529.02,894.6 L531.18,894.21 L533.34,893.83 L535.5,893.45 L537.66,893.07 L539.82,892.69 L541.98,892.31 L544.14,891.93 L546.3,891.55 L548.46,891.18 L550.62,890.8 L552.78,890.43 L554.94,890.05 L557.1,889.68 L559.26,889.31 L561.42,888.95 L563.58,888.58 L565.74,888.21 L567.9,887.85 L570.06,887.49 L572.22,887.13 L574.38,886.78 L576.54,886.42 L578.7,886.07 L580.86,885.73 L583.02,885.38 L585.18,885.04 L587.34,884.7 L589.5,884.36 L591.66,884.02 L593.82,883.69 L595.98,883.35 L598.14,883.01 L600.3,882.68 L602.46,882.35 L604.62,882.01 L606.78,881.68 L608.94,881.35 L611.1,881.02 L613.26,880.69 L615.42,880.36 L617.58,880.03 L619.74,879.71 L621.9,879.38 L624.06,879.06 L626.22,878.73 L628.38,878.41 L630.54,878.09 L632.7,877.77 L634.86,877.45 L637.02,877.13 L639.18,876.81 L641.34,876.49 L643.5,876.17 L645.66,875.86 L647.82,875.54 L649.98,875.23 L652.14,874.92 L654.3,874.6 L656.46,874.29 L658.62,873.98 L660.78,873.67 L662.94,873.36 L665.1,873.06 L667.26,872.75 L669.42,872.45 L671.58,872.14 L673.74,871.84 L675.9,871.54 L678.06,871.23 L680.22,870.93 L682.38,870.63 L684.54,870.34 L686.7,870.04 L688.86,869.74 L691.02,869.45 L693.18,869.15 L695.34,868.86 L697.5,868.56 L699.66,868.27" stroke="#000000" stroke-width="3.2" fill="none" stroke-linejoin="round" stroke-linecap="butt"/>
<rect x="736.1" y="711.8" width="36.7" height="3.2" fill="#000000"/>
<text x="791.37" y="725.2" font-size="29">125 cp/µl RNA</text>
<rect x="736.1" y="762.6" width="36.7" height="3.2" fill="#1788E0"/>
<text x="791.37" y="776" font-size="29">63 cp/µl RNA</text>
<rect x="736.1" y="813.1" width="36.7" height="3.2" fill="#7F4F1C"/>
<text x="791.37" y="826.5" font-size="29">31 cp/µl RNA</text>
<rect x="736.1" y="863.6" width="36.7" height="3.2" fill="#137D50"/>
<text x="791.37" y="877" font-size="29">16 cp/µl RNA</text>
<rect x="736.1" y="914.2" width="36.7" height="3.2" fill="#E68EEA"/>
<text x="791.37" y="927.6" font-size="29">0 cp/µl RNA</text>
<rect x="1176.5" y="632" width="4.8" height="364.3" fill="#000"/>
<rect x="1176.5" y="991.5" width="544.4" height="4.8" fill="#000"/>
<rect x="1168.9" y="991.5" width="10" height="4.8" fill="#000"/>
<rect x="1168.9" y="871.8" width="10" height="4.8" fill="#000"/>
<rect x="1168.9" y="752.1" width="10" height="4.8" fill="#000"/>
<rect x="1168.9" y="632.4" width="10" height="4.8" fill="#000"/>
<rect x="1176.5" y="993.9" width="4.8" height="9.6" fill="#000"/>
<rect x="1311.4" y="993.9" width="4.8" height="9.6" fill="#000"/>
<rect x="1446.3" y="993.9" width="4.8" height="9.6" fill="#000"/>
<rect x="1581.2" y="993.9" width="4.8" height="9.6" fill="#000"/>
<rect x="1716.1" y="993.9" width="4.8" height="9.6" fill="#000"/>
<text x="1154.4" y="885.7" font-size="29" text-anchor="end">10</text>
<text x="1154.4" y="766" font-size="29" text-anchor="end">20</text>
<text x="1154.4" y="646.3" font-size="29" text-anchor="end">30</text>
<text x="1157" y="1005.6" font-size="29" text-anchor="end">0</text>
<text x="1177.5" y="1044.8" font-size="29" text-anchor="middle">0</text>
<text x="1310.2" y="1044.8" font-size="29" text-anchor="middle">30</text>
<text x="1445.1" y="1044.8" font-size="29" text-anchor="middle">60</text>
<text x="1580" y="1044.8" font-size="29" text-anchor="middle">90</text>
<text x="1713.1" y="1044.8" font-size="29" text-anchor="middle">120</text>
<text x="1324.96" y="609.9" font-size="29">LbuCas13a+TtCsm6</text>
<text x="1363.49" y="1079.7" font-size="28.3">Time (min)</text>
<text transform="translate(1089.2,935.3) rotate(-90)" font-size="28.3">Fluorescence (F/F<tspan font-size="20" dy="10.3">t=6</tspan><tspan dy="-8.0" dx="3.6">)</tspan></text>
<path d="M1214.87,980.73V980.99M1211.37,980.73H1218.37M1211.37,980.99H1218.37M1223.87,979.19V979.75M1220.37,979.19H1227.37M1220.37,979.75H1227.37M1232.86,977.34V978.22M1229.36,977.34H1236.36M1229.36,978.22H1236.36M1241.85,975.22V976.42M1238.35,975.22H1245.35M1238.35,976.42H1245.35M1250.85,972.82V974.37M1247.35,972.82H1254.35M1247.35,974.37H1254.35M1259.84,970.18V972.06M1256.34,970.18H1263.34M1256.34,972.06H1263.34M1268.83,967.3V969.54M1265.33,967.3H1272.33M1265.33,969.54H1272.33M1277.83,964.21V966.8M1274.33,964.21H1281.33M1274.33,966.8H1281.33M1286.82,960.92V963.86M1283.32,960.92H1290.32M1283.32,963.86H1290.32M1295.81,957.44V960.75M1292.31,957.44H1299.31M1292.31,960.75H1299.31M1304.81,953.79V957.47M1301.31,953.79H1308.31M1301.31,957.47H1308.31M1313.8,949.98V954.03M1310.3,949.98H1317.3M1310.3,954.03H1317.3M1322.79,946.03V950.45M1319.29,946.03H1326.29M1319.29,950.45H1326.29M1331.79,941.95V946.75M1328.29,941.95H1335.29M1328.29,946.75H1335.29M1340.78,937.76V942.93M1337.28,937.76H1344.28M1337.28,942.93H1344.28M1349.77,933.45V939.01M1346.27,933.45H1353.27M1346.27,939.01H1353.27M1358.77,929.06V934.99M1355.27,929.06H1362.27M1355.27,934.99H1362.27M1367.76,924.58V930.9M1364.26,924.58H1371.26M1364.26,930.9H1371.26M1376.75,920.03V926.74M1373.25,920.03H1380.25M1373.25,926.74H1380.25M1385.75,915.42V922.52M1382.25,915.42H1389.25M1382.25,922.52H1389.25M1394.74,910.76V918.25M1391.24,910.76H1398.24M1391.24,918.25H1398.24M1403.73,906.06V913.94M1400.23,906.06H1407.23M1400.23,913.94H1407.23M1412.73,901.32V909.6M1409.23,901.32H1416.23M1409.23,909.6H1416.23M1421.72,896.56V905.23M1418.22,896.56H1425.22M1418.22,905.23H1425.22M1430.71,891.78V900.85M1427.21,891.78H1434.21M1427.21,900.85H1434.21M1439.71,887V896.47M1436.21,887H1443.21M1436.21,896.47H1443.21M1448.7,882.21V892.08M1445.2,882.21H1452.2M1445.2,892.08H1452.2M1457.69,877.43V887.71M1454.19,877.43H1461.19M1454.19,887.71H1461.19M1466.69,872.66V883.34M1463.19,872.66H1470.19M1463.19,883.34H1470.19M1475.68,867.91V879M1472.18,867.91H1479.18M1472.18,879H1479.18M1484.67,863.18V874.68M1481.17,863.18H1488.17M1481.17,874.68H1488.17M1493.67,858.48V870.38M1490.17,858.48H1497.17M1490.17,870.38H1497.17M1502.66,853.82V866.13M1499.16,853.82H1506.16M1499.16,866.13H1506.16M1511.65,849.18V861.91M1508.15,849.18H1515.15M1508.15,861.91H1515.15M1520.65,844.59V857.73M1517.15,844.59H1524.15M1517.15,857.73H1524.15M1529.64,840.04V853.59M1526.14,840.04H1533.14M1526.14,853.59H1533.14M1538.63,835.54V849.5M1535.13,835.54H1542.13M1535.13,849.5H1542.13M1547.63,831.08V845.46M1544.13,831.08H1551.13M1544.13,845.46H1551.13M1556.62,826.68V841.47M1553.12,826.68H1560.12M1553.12,841.47H1560.12M1565.61,822.32V837.53M1562.11,822.32H1569.11M1562.11,837.53H1569.11M1574.61,818.02V833.65M1571.11,818.02H1578.11M1571.11,833.65H1578.11M1583.6,813.77V829.82M1580.1,813.77H1587.1M1580.1,829.82H1587.1M1592.59,809.56V826.04M1589.09,809.56H1596.09M1589.09,826.04H1596.09M1601.59,805.42V822.31M1598.09,805.42H1605.09M1598.09,822.31H1605.09M1610.58,801.32V818.63M1607.08,801.32H1614.08M1607.08,818.63H1614.08M1619.57,797.27V815.01M1616.07,797.27H1623.07M1616.07,815.01H1623.07M1628.57,793.27V811.43M1625.07,793.27H1632.07M1625.07,811.43H1632.07M1637.56,789.31V807.9M1634.06,789.31H1641.06M1634.06,807.9H1641.06M1646.55,785.39V804.41M1643.05,785.39H1650.05M1643.05,804.41H1650.05M1655.55,781.51V800.96M1652.05,781.51H1659.05M1652.05,800.96H1659.05M1664.54,777.67V797.54M1661.04,777.67H1668.04M1661.04,797.54H1668.04M1673.53,773.86V794.16M1670.03,773.86H1677.03M1670.03,794.16H1677.03M1682.53,770.07V790.8M1679.03,770.07H1686.03M1679.03,790.8H1686.03M1691.52,766.31V787.47M1688.02,766.31H1695.02M1688.02,787.47H1695.02M1700.51,762.56V784.15M1697.01,762.56H1704.01M1697.01,784.15H1704.01M1709.51,758.82V780.85M1706.01,758.82H1713.01M1706.01,780.85H1713.01" stroke="#E68EEA" stroke-width="1.6" fill="none"/>
<path d="M1205.88,981.93 L1208.13,981.69 L1210.38,981.43 L1212.62,981.16 L1214.87,980.86 L1217.12,980.54 L1219.37,980.2 L1221.62,979.84 L1223.87,979.47 L1226.12,979.07 L1228.36,978.66 L1230.61,978.23 L1232.86,977.78 L1235.11,977.32 L1237.36,976.84 L1239.61,976.34 L1241.85,975.82 L1244.1,975.29 L1246.35,974.74 L1248.6,974.17 L1250.85,973.59 L1253.1,973 L1255.34,972.39 L1257.59,971.76 L1259.84,971.12 L1262.09,970.47 L1264.34,969.8 L1266.59,969.12 L1268.83,968.42 L1271.08,967.71 L1273.33,966.99 L1275.58,966.25 L1277.83,965.5 L1280.08,964.74 L1282.32,963.97 L1284.57,963.19 L1286.82,962.39 L1289.07,961.58 L1291.32,960.76 L1293.57,959.93 L1295.81,959.09 L1298.06,958.24 L1300.31,957.38 L1302.56,956.51 L1304.81,955.63 L1307.06,954.74 L1309.3,953.83 L1311.55,952.92 L1313.8,952.01 L1316.05,951.08 L1318.3,950.14 L1320.55,949.2 L1322.79,948.24 L1325.04,947.28 L1327.29,946.31 L1329.54,945.33 L1331.79,944.35 L1334.04,943.36 L1336.28,942.36 L1338.53,941.35 L1340.78,940.34 L1343.03,939.32 L1345.28,938.3 L1347.53,937.27 L1349.77,936.23 L1352.02,935.19 L1354.27,934.14 L1356.52,933.08 L1358.77,932.03 L1361.02,930.96 L1363.26,929.89 L1365.51,928.82 L1367.76,927.74 L1370.01,926.66 L1372.26,925.57 L1374.51,924.48 L1376.75,923.38 L1379,922.29 L1381.25,921.18 L1383.5,920.08 L1385.75,918.97 L1388,917.86 L1390.24,916.74 L1392.49,915.62 L1394.74,914.5 L1396.99,913.38 L1399.24,912.25 L1401.49,911.13 L1403.73,910 L1405.98,908.86 L1408.23,907.73 L1410.48,906.59 L1412.73,905.46 L1414.98,904.32 L1417.22,903.18 L1419.47,902.04 L1421.72,900.9 L1423.97,899.75 L1426.22,898.61 L1428.47,897.46 L1430.71,896.32 L1432.96,895.17 L1435.21,894.03 L1437.46,892.88 L1439.71,891.73 L1441.95,890.59 L1444.2,889.44 L1446.45,888.29 L1448.7,887.15 L1450.95,886 L1453.2,884.86 L1455.45,883.71 L1457.69,882.57 L1459.94,881.43 L1462.19,880.28 L1464.44,879.14 L1466.69,878 L1468.93,876.86 L1471.18,875.73 L1473.43,874.59 L1475.68,873.46 L1477.93,872.32 L1480.18,871.19 L1482.43,870.06 L1484.67,868.93 L1486.92,867.8 L1489.17,866.68 L1491.42,865.56 L1493.67,864.43 L1495.91,863.32 L1498.16,862.2 L1500.41,861.08 L1502.66,859.97 L1504.91,858.86 L1507.16,857.75 L1509.4,856.65 L1511.65,855.54 L1513.9,854.44 L1516.15,853.35 L1518.4,852.25 L1520.65,851.16 L1522.89,850.07 L1525.14,848.98 L1527.39,847.9 L1529.64,846.82 L1531.89,845.74 L1534.14,844.66 L1536.38,843.59 L1538.63,842.52 L1540.88,841.45 L1543.13,840.39 L1545.38,839.33 L1547.63,838.27 L1549.88,837.22 L1552.12,836.17 L1554.37,835.12 L1556.62,834.07 L1558.87,833.03 L1561.12,831.99 L1563.37,830.96 L1565.61,829.93 L1567.86,828.9 L1570.11,827.87 L1572.36,826.85 L1574.61,825.83 L1576.86,824.82 L1579.1,823.8 L1581.35,822.8 L1583.6,821.79 L1585.85,820.79 L1588.1,819.79 L1590.35,818.79 L1592.59,817.8 L1594.84,816.81 L1597.09,815.83 L1599.34,814.84 L1601.59,813.86 L1603.84,812.89 L1606.08,811.91 L1608.33,810.94 L1610.58,809.98 L1612.83,809.01 L1615.08,808.05 L1617.33,807.09 L1619.57,806.14 L1621.82,805.19 L1624.07,804.24 L1626.32,803.29 L1628.57,802.35 L1630.82,801.41 L1633.06,800.47 L1635.31,799.53 L1637.56,798.6 L1639.81,797.67 L1642.06,796.75 L1644.31,795.82 L1646.55,794.9 L1648.8,793.98 L1651.05,793.06 L1653.3,792.15 L1655.55,791.24 L1657.8,790.33 L1660.04,789.42 L1662.29,788.51 L1664.54,787.61 L1666.79,786.71 L1669.04,785.8 L1671.29,784.91 L1673.53,784.01 L1675.78,783.11 L1678.03,782.22 L1680.28,781.33 L1682.53,780.44 L1684.78,779.55 L1687.02,778.66 L1689.27,777.78 L1691.52,776.89 L1693.77,776.01 L1696.02,775.12 L1698.26,774.24 L1700.51,773.36 L1702.76,772.48 L1705.01,771.59 L1707.26,770.71 L1709.51,769.83 L1711.76,768.95 L1714,768.07 L1716.25,767.19 L1718.5,766.31" stroke="#E68EEA" stroke-width="3.2" fill="none" stroke-linejoin="round" stroke-linecap="butt"/>
<path d="M1214.87,981V981.17M1211.37,981H1218.37M1211.37,981.17H1218.37M1223.87,979.64V979.98M1220.37,979.64H1227.37M1220.37,979.98H1227.37M1232.86,977.88V978.39M1229.36,977.88H1236.36M1229.36,978.39H1236.36M1241.85,975.75V976.43M1238.35,975.75H1245.35M1238.35,976.43H1245.35M1250.85,973.27V974.12M1247.35,973.27H1254.35M1247.35,974.12H1254.35M1259.84,970.46V971.49M1256.34,970.46H1263.34M1256.34,971.49H1263.34M1268.83,967.35V968.55M1265.33,967.35H1272.33M1265.33,968.55H1272.33M1277.83,963.97V965.33M1274.33,963.97H1281.33M1274.33,965.33H1281.33M1286.82,960.32V961.86M1283.32,960.32H1290.32M1283.32,961.86H1290.32M1295.81,956.44V958.15M1292.31,956.44H1299.31M1292.31,958.15H1299.31M1304.81,952.34V954.22M1301.31,952.34H1308.31M1301.31,954.22H1308.31M1313.8,948.04V950.09M1310.3,948.04H1317.3M1310.3,950.09H1317.3M1322.79,943.57V945.79M1319.29,943.57H1326.29M1319.29,945.79H1326.29M1331.79,938.93V941.33M1328.29,938.93H1335.29M1328.29,941.33H1335.29M1340.78,934.15V936.72M1337.28,934.15H1344.28M1337.28,936.72H1344.28M1349.77,929.25V931.99M1346.27,929.25H1353.27M1346.27,931.99H1353.27M1358.77,924.24V927.14M1355.27,924.24H1362.27M1355.27,927.14H1362.27M1367.76,919.13V922.21M1364.26,919.13H1371.26M1364.26,922.21H1371.26M1376.75,913.94V917.19M1373.25,913.94H1380.25M1373.25,917.19H1380.25M1385.75,908.69V912.11M1382.25,908.69H1389.25M1382.25,912.11H1389.25M1394.74,903.38V906.98M1391.24,903.38H1398.24M1391.24,906.98H1398.24M1403.73,898.04V901.8M1400.23,898.04H1407.23M1400.23,901.8H1407.23M1412.73,892.67V896.6M1409.23,892.67H1416.23M1409.23,896.6H1416.23M1421.72,887.28V891.38M1418.22,887.28H1425.22M1418.22,891.38H1425.22M1430.71,881.88V886.16M1427.21,881.88H1434.21M1427.21,886.16H1434.21M1439.71,876.49V880.94M1436.21,876.49H1443.21M1436.21,880.94H1443.21M1448.7,871.11V875.73M1445.2,871.11H1452.2M1445.2,875.73H1452.2M1457.69,865.75V870.54M1454.19,865.75H1461.19M1454.19,870.54H1461.19M1466.69,860.43V865.39M1463.19,860.43H1470.19M1463.19,865.39H1470.19M1475.68,855.13V860.26M1472.18,855.13H1479.18M1472.18,860.26H1479.18M1484.67,849.89V855.19M1481.17,849.89H1488.17M1481.17,855.19H1488.17M1493.67,844.68V850.16M1490.17,844.68H1497.17M1490.17,850.16H1497.17M1502.66,839.54V845.18M1499.16,839.54H1506.16M1499.16,845.18H1506.16M1511.65,834.44V840.26M1508.15,834.44H1515.15M1508.15,840.26H1515.15M1520.65,829.41V835.4M1517.15,829.41H1524.15M1517.15,835.4H1524.15M1529.64,824.45V830.6M1526.14,824.45H1533.14M1526.14,830.6H1533.14M1538.63,819.55V825.87M1535.13,819.55H1542.13M1535.13,825.87H1542.13M1547.63,814.71V821.21M1544.13,814.71H1551.13M1544.13,821.21H1551.13M1556.62,809.95V816.62M1553.12,809.95H1560.12M1553.12,816.62H1560.12M1565.61,805.25V812.09M1562.11,805.25H1569.11M1562.11,812.09H1569.11M1574.61,800.62V807.63M1571.11,800.62H1578.11M1571.11,807.63H1578.11M1583.6,796.06V803.24M1580.1,796.06H1587.1M1580.1,803.24H1587.1M1592.59,791.56V798.91M1589.09,791.56H1596.09M1589.09,798.91H1596.09M1601.59,787.12V794.65M1598.09,787.12H1605.09M1598.09,794.65H1605.09M1610.58,782.74V790.44M1607.08,782.74H1614.08M1607.08,790.44H1614.08M1619.57,778.42V786.29M1616.07,778.42H1623.07M1616.07,786.29H1623.07M1628.57,774.14V782.18M1625.07,774.14H1632.07M1625.07,782.18H1632.07M1637.56,769.91V778.12M1634.06,769.91H1641.06M1634.06,778.12H1641.06M1646.55,765.71V774.09M1643.05,765.71H1650.05M1643.05,774.09H1650.05M1655.55,761.55V770.1M1652.05,761.55H1659.05M1652.05,770.1H1659.05M1664.54,757.41V766.13M1661.04,757.41H1668.04M1661.04,766.13H1668.04M1673.53,753.28V762.17M1670.03,753.28H1677.03M1670.03,762.17H1677.03M1682.53,749.16V758.22M1679.03,749.16H1686.03M1679.03,758.22H1686.03M1691.52,745.03V754.27M1688.02,745.03H1695.02M1688.02,754.27H1695.02M1700.51,740.89V750.3M1697.01,740.89H1704.01M1697.01,750.3H1704.01M1709.51,736.72V746.3M1706.01,736.72H1713.01M1706.01,746.3H1713.01" stroke="#137D50" stroke-width="1.8" fill="none"/>
<path d="M1205.88,981.93 L1208.13,981.76 L1210.38,981.56 L1212.62,981.33 L1214.87,981.08 L1217.12,980.8 L1219.37,980.5 L1221.62,980.16 L1223.87,979.81 L1226.12,979.43 L1228.36,979.02 L1230.61,978.59 L1232.86,978.14 L1235.11,977.66 L1237.36,977.16 L1239.61,976.63 L1241.85,976.09 L1244.1,975.52 L1246.35,974.93 L1248.6,974.32 L1250.85,973.69 L1253.1,973.04 L1255.34,972.37 L1257.59,971.68 L1259.84,970.97 L1262.09,970.25 L1264.34,969.5 L1266.59,968.74 L1268.83,967.95 L1271.08,967.15 L1273.33,966.34 L1275.58,965.5 L1277.83,964.65 L1280.08,963.78 L1282.32,962.9 L1284.57,962 L1286.82,961.09 L1289.07,960.16 L1291.32,959.22 L1293.57,958.26 L1295.81,957.29 L1298.06,956.31 L1300.31,955.31 L1302.56,954.3 L1304.81,953.28 L1307.06,952.24 L1309.3,951.2 L1311.55,950.14 L1313.8,949.07 L1316.05,947.99 L1318.3,946.9 L1320.55,945.79 L1322.79,944.68 L1325.04,943.56 L1327.29,942.42 L1329.54,941.28 L1331.79,940.13 L1334.04,938.97 L1336.28,937.8 L1338.53,936.62 L1340.78,935.44 L1343.03,934.24 L1345.28,933.04 L1347.53,931.83 L1349.77,930.62 L1352.02,929.4 L1354.27,928.17 L1356.52,926.93 L1358.77,925.69 L1361.02,924.44 L1363.26,923.19 L1365.51,921.93 L1367.76,920.67 L1370.01,919.4 L1372.26,918.13 L1374.51,916.85 L1376.75,915.57 L1379,914.28 L1381.25,912.99 L1383.5,911.7 L1385.75,910.4 L1388,909.1 L1390.24,907.8 L1392.49,906.49 L1394.74,905.18 L1396.99,903.87 L1399.24,902.55 L1401.49,901.24 L1403.73,899.92 L1405.98,898.6 L1408.23,897.28 L1410.48,895.96 L1412.73,894.63 L1414.98,893.31 L1417.22,891.98 L1419.47,890.66 L1421.72,889.33 L1423.97,888 L1426.22,886.67 L1428.47,885.35 L1430.71,884.02 L1432.96,882.69 L1435.21,881.37 L1437.46,880.04 L1439.71,878.71 L1441.95,877.39 L1444.2,876.06 L1446.45,874.74 L1448.7,873.42 L1450.95,872.1 L1453.2,870.78 L1455.45,869.46 L1457.69,868.15 L1459.94,866.84 L1462.19,865.52 L1464.44,864.21 L1466.69,862.91 L1468.93,861.6 L1471.18,860.3 L1473.43,859 L1475.68,857.7 L1477.93,856.4 L1480.18,855.11 L1482.43,853.82 L1484.67,852.54 L1486.92,851.25 L1489.17,849.97 L1491.42,848.69 L1493.67,847.42 L1495.91,846.15 L1498.16,844.88 L1500.41,843.62 L1502.66,842.36 L1504.91,841.1 L1507.16,839.85 L1509.4,838.6 L1511.65,837.35 L1513.9,836.11 L1516.15,834.87 L1518.4,833.64 L1520.65,832.41 L1522.89,831.18 L1525.14,829.96 L1527.39,828.74 L1529.64,827.53 L1531.89,826.32 L1534.14,825.11 L1536.38,823.91 L1538.63,822.71 L1540.88,821.52 L1543.13,820.33 L1545.38,819.14 L1547.63,817.96 L1549.88,816.79 L1552.12,815.62 L1554.37,814.45 L1556.62,813.28 L1558.87,812.13 L1561.12,810.97 L1563.37,809.82 L1565.61,808.67 L1567.86,807.53 L1570.11,806.39 L1572.36,805.26 L1574.61,804.13 L1576.86,803 L1579.1,801.88 L1581.35,800.76 L1583.6,799.65 L1585.85,798.54 L1588.1,797.44 L1590.35,796.34 L1592.59,795.24 L1594.84,794.14 L1597.09,793.05 L1599.34,791.97 L1601.59,790.89 L1603.84,789.81 L1606.08,788.73 L1608.33,787.66 L1610.58,786.59 L1612.83,785.53 L1615.08,784.47 L1617.33,783.41 L1619.57,782.35 L1621.82,781.3 L1624.07,780.25 L1626.32,779.2 L1628.57,778.16 L1630.82,777.12 L1633.06,776.08 L1635.31,775.05 L1637.56,774.01 L1639.81,772.98 L1642.06,771.95 L1644.31,770.93 L1646.55,769.9 L1648.8,768.88 L1651.05,767.86 L1653.3,766.84 L1655.55,765.82 L1657.8,764.81 L1660.04,763.79 L1662.29,762.78 L1664.54,761.77 L1666.79,760.76 L1669.04,759.75 L1671.29,758.74 L1673.53,757.73 L1675.78,756.72 L1678.03,755.71 L1680.28,754.7 L1682.53,753.69 L1684.78,752.68 L1687.02,751.67 L1689.27,750.66 L1691.52,749.65 L1693.77,748.64 L1696.02,747.62 L1698.26,746.61 L1700.51,745.59 L1702.76,744.58 L1705.01,743.56 L1707.26,742.54 L1709.51,741.51 L1711.76,740.49 L1714,739.46 L1716.25,738.43 L1718.5,737.39" stroke="#137D50" stroke-width="3.2" fill="none" stroke-linejoin="round" stroke-linecap="butt"/>
<path d="M1214.87,980.98V981.07M1211.37,980.98H1218.37M1211.37,981.07H1218.37M1223.87,979.59V979.76M1220.37,979.59H1227.37M1220.37,979.76H1227.37M1232.86,977.79V978.05M1229.36,977.79H1236.36M1229.36,978.05H1236.36M1241.85,975.6V975.94M1238.35,975.6H1245.35M1238.35,975.94H1245.35M1250.85,973.03V973.46M1247.35,973.03H1254.35M1247.35,973.46H1254.35M1259.84,970.12V970.64M1256.34,970.12H1263.34M1256.34,970.64H1263.34M1268.83,966.89V967.49M1265.33,966.89H1272.33M1265.33,967.49H1272.33M1277.83,963.35V964.04M1274.33,963.35H1281.33M1274.33,964.04H1281.33M1286.82,959.54V960.31M1283.32,959.54H1290.32M1283.32,960.31H1290.32M1295.81,955.46V956.32M1292.31,955.46H1299.31M1292.31,956.32H1299.31M1304.81,951.14V952.08M1301.31,951.14H1308.31M1301.31,952.08H1308.31M1313.8,946.6V947.63M1310.3,946.6H1317.3M1310.3,947.63H1317.3M1322.79,941.86V942.97M1319.29,941.86H1326.29M1319.29,942.97H1326.29M1331.79,936.93V938.12M1328.29,936.93H1335.29M1328.29,938.12H1335.29M1340.78,931.83V933.11M1337.28,931.83H1344.28M1337.28,933.11H1344.28M1349.77,926.58V927.95M1346.27,926.58H1353.27M1346.27,927.95H1353.27M1358.77,921.19V922.65M1355.27,921.19H1362.27M1355.27,922.65H1362.27M1367.76,915.69V917.23M1364.26,915.69H1371.26M1364.26,917.23H1371.26M1376.75,910.08V911.71M1373.25,910.08H1380.25M1373.25,911.71H1380.25M1385.75,904.38V906.09M1382.25,904.38H1389.25M1382.25,906.09H1389.25M1394.74,898.61V900.41M1391.24,898.61H1398.24M1391.24,900.41H1398.24M1403.73,892.78V894.66M1400.23,892.78H1407.23M1400.23,894.66H1407.23M1412.73,886.89V888.86M1409.23,886.89H1416.23M1409.23,888.86H1416.23M1421.72,880.97V883.02M1418.22,880.97H1425.22M1418.22,883.02H1425.22M1430.71,875.03V877.16M1427.21,875.03H1434.21M1427.21,877.16H1434.21M1439.71,869.07V871.29M1436.21,869.07H1443.21M1436.21,871.29H1443.21M1448.7,863.1V865.41M1445.2,863.1H1452.2M1445.2,865.41H1452.2M1457.69,857.14V859.54M1454.19,857.14H1461.19M1454.19,859.54H1461.19M1466.69,851.2V853.68M1463.19,851.2H1470.19M1463.19,853.68H1470.19M1475.68,845.29V847.85M1472.18,845.29H1479.18M1472.18,847.85H1479.18M1484.67,839.4V842.05M1481.17,839.4H1488.17M1481.17,842.05H1488.17M1493.67,833.56V836.3M1490.17,833.56H1497.17M1490.17,836.3H1497.17M1502.66,827.76V830.59M1499.16,827.76H1506.16M1499.16,830.59H1506.16M1511.65,822.02V824.93M1508.15,822.02H1515.15M1508.15,824.93H1515.15M1520.65,816.34V819.34M1517.15,816.34H1524.15M1517.15,819.34H1524.15M1529.64,810.73V813.81M1526.14,810.73H1533.14M1526.14,813.81H1533.14M1538.63,805.18V808.35M1535.13,805.18H1542.13M1535.13,808.35H1542.13M1547.63,799.71V802.96M1544.13,799.71H1551.13M1544.13,802.96H1551.13M1556.62,794.32V797.66M1553.12,794.32H1560.12M1553.12,797.66H1560.12M1565.61,789.01V792.43M1562.11,789.01H1569.11M1562.11,792.43H1569.11M1574.61,783.79V787.29M1571.11,783.79H1578.11M1571.11,787.29H1578.11M1583.6,778.65V782.24M1580.1,778.65H1587.1M1580.1,782.24H1587.1M1592.59,773.59V777.27M1589.09,773.59H1596.09M1589.09,777.27H1596.09M1601.59,768.63V772.39M1598.09,768.63H1605.09M1598.09,772.39H1605.09M1610.58,763.75V767.6M1607.08,763.75H1614.08M1607.08,767.6H1614.08M1619.57,758.96V762.9M1616.07,758.96H1623.07M1616.07,762.9H1623.07M1628.57,754.26V758.28M1625.07,754.26H1632.07M1625.07,758.28H1632.07M1637.56,749.65V753.75M1634.06,749.65H1641.06M1634.06,753.75H1641.06M1646.55,745.12V749.31M1643.05,745.12H1650.05M1643.05,749.31H1650.05M1655.55,740.66V744.94M1652.05,740.66H1659.05M1652.05,744.94H1659.05M1664.54,736.29V740.65M1661.04,736.29H1668.04M1661.04,740.65H1668.04M1673.53,731.99V736.44M1670.03,731.99H1677.03M1670.03,736.44H1677.03M1682.53,727.76V732.29M1679.03,727.76H1686.03M1679.03,732.29H1686.03M1691.52,723.6V728.21M1688.02,723.6H1695.02M1688.02,728.21H1695.02M1700.51,719.49V724.19M1697.01,719.49H1704.01M1697.01,724.19H1704.01M1709.51,715.43V720.22M1706.01,715.43H1713.01M1706.01,720.22H1713.01" stroke="#7F4F1C" stroke-width="1.8" fill="none"/>
<path d="M1205.88,981.93 L1208.13,981.75 L1210.38,981.53 L1212.62,981.29 L1214.87,981.02 L1217.12,980.73 L1219.37,980.41 L1221.62,980.06 L1223.87,979.68 L1226.12,979.28 L1228.36,978.85 L1230.61,978.4 L1232.86,977.92 L1235.11,977.42 L1237.36,976.89 L1239.61,976.34 L1241.85,975.77 L1244.1,975.17 L1246.35,974.55 L1248.6,973.91 L1250.85,973.25 L1253.1,972.56 L1255.34,971.85 L1257.59,971.13 L1259.84,970.38 L1262.09,969.61 L1264.34,968.82 L1266.59,968.02 L1268.83,967.19 L1271.08,966.34 L1273.33,965.48 L1275.58,964.6 L1277.83,963.7 L1280.08,962.78 L1282.32,961.84 L1284.57,960.89 L1286.82,959.92 L1289.07,958.94 L1291.32,957.94 L1293.57,956.92 L1295.81,955.89 L1298.06,954.84 L1300.31,953.78 L1302.56,952.7 L1304.81,951.61 L1307.06,950.51 L1309.3,949.39 L1311.55,948.26 L1313.8,947.11 L1316.05,945.96 L1318.3,944.79 L1320.55,943.6 L1322.79,942.41 L1325.04,941.21 L1327.29,939.99 L1329.54,938.76 L1331.79,937.52 L1334.04,936.27 L1336.28,935.02 L1338.53,933.75 L1340.78,932.47 L1343.03,931.18 L1345.28,929.88 L1347.53,928.58 L1349.77,927.26 L1352.02,925.94 L1354.27,924.61 L1356.52,923.27 L1358.77,921.92 L1361.02,920.56 L1363.26,919.2 L1365.51,917.83 L1367.76,916.46 L1370.01,915.08 L1372.26,913.69 L1374.51,912.29 L1376.75,910.89 L1379,909.49 L1381.25,908.08 L1383.5,906.66 L1385.75,905.24 L1388,903.81 L1390.24,902.38 L1392.49,900.95 L1394.74,899.51 L1396.99,898.07 L1399.24,896.62 L1401.49,895.17 L1403.73,893.72 L1405.98,892.26 L1408.23,890.8 L1410.48,889.34 L1412.73,887.88 L1414.98,886.41 L1417.22,884.94 L1419.47,883.47 L1421.72,882 L1423.97,880.52 L1426.22,879.05 L1428.47,877.57 L1430.71,876.09 L1432.96,874.62 L1435.21,873.14 L1437.46,871.66 L1439.71,870.18 L1441.95,868.7 L1444.2,867.22 L1446.45,865.74 L1448.7,864.26 L1450.95,862.78 L1453.2,861.3 L1455.45,859.82 L1457.69,858.34 L1459.94,856.86 L1462.19,855.39 L1464.44,853.92 L1466.69,852.44 L1468.93,850.97 L1471.18,849.5 L1473.43,848.03 L1475.68,846.57 L1477.93,845.11 L1480.18,843.64 L1482.43,842.18 L1484.67,840.73 L1486.92,839.27 L1489.17,837.82 L1491.42,836.37 L1493.67,834.93 L1495.91,833.48 L1498.16,832.04 L1500.41,830.61 L1502.66,829.18 L1504.91,827.75 L1507.16,826.32 L1509.4,824.9 L1511.65,823.48 L1513.9,822.06 L1516.15,820.65 L1518.4,819.24 L1520.65,817.84 L1522.89,816.44 L1525.14,815.04 L1527.39,813.65 L1529.64,812.27 L1531.89,810.88 L1534.14,809.51 L1536.38,808.13 L1538.63,806.76 L1540.88,805.4 L1543.13,804.04 L1545.38,802.69 L1547.63,801.34 L1549.88,799.99 L1552.12,798.65 L1554.37,797.32 L1556.62,795.99 L1558.87,794.66 L1561.12,793.35 L1563.37,792.03 L1565.61,790.72 L1567.86,789.42 L1570.11,788.12 L1572.36,786.83 L1574.61,785.54 L1576.86,784.26 L1579.1,782.98 L1581.35,781.71 L1583.6,780.44 L1585.85,779.18 L1588.1,777.93 L1590.35,776.68 L1592.59,775.43 L1594.84,774.19 L1597.09,772.96 L1599.34,771.73 L1601.59,770.51 L1603.84,769.29 L1606.08,768.08 L1608.33,766.88 L1610.58,765.68 L1612.83,764.48 L1615.08,763.29 L1617.33,762.11 L1619.57,760.93 L1621.82,759.76 L1624.07,758.59 L1626.32,757.43 L1628.57,756.27 L1630.82,755.12 L1633.06,753.98 L1635.31,752.84 L1637.56,751.7 L1639.81,750.57 L1642.06,749.44 L1644.31,748.33 L1646.55,747.21 L1648.8,746.1 L1651.05,745 L1653.3,743.9 L1655.55,742.8 L1657.8,741.71 L1660.04,740.63 L1662.29,739.55 L1664.54,738.47 L1666.79,737.4 L1669.04,736.33 L1671.29,735.27 L1673.53,734.21 L1675.78,733.16 L1678.03,732.11 L1680.28,731.07 L1682.53,730.03 L1684.78,728.99 L1687.02,727.96 L1689.27,726.93 L1691.52,725.9 L1693.77,724.88 L1696.02,723.86 L1698.26,722.85 L1700.51,721.84 L1702.76,720.83 L1705.01,719.83 L1707.26,718.83 L1709.51,717.83 L1711.76,716.83 L1714,715.84 L1716.25,714.85 L1718.5,713.86" stroke="#7F4F1C" stroke-width="3.2" fill="none" stroke-linejoin="round" stroke-linecap="butt"/>
<path d="M1214.87,981.01V981.22M1211.37,981.01H1218.37M1211.37,981.22H1218.37M1223.87,979.59V980.02M1220.37,979.59H1227.37M1220.37,980.02H1227.37M1232.86,977.7V978.34M1229.36,977.7H1236.36M1229.36,978.34H1236.36M1241.85,975.35V976.21M1238.35,975.35H1245.35M1238.35,976.21H1245.35M1250.85,972.59V973.65M1247.35,972.59H1254.35M1247.35,973.65H1254.35M1259.84,969.42V970.7M1256.34,969.42H1263.34M1256.34,970.7H1263.34M1268.83,965.87V967.36M1265.33,965.87H1272.33M1265.33,967.36H1272.33M1277.83,961.96V963.67M1274.33,961.96H1281.33M1274.33,963.67H1281.33M1286.82,957.73V959.65M1283.32,957.73H1290.32M1283.32,959.65H1290.32M1295.81,953.18V955.32M1292.31,953.18H1299.31M1292.31,955.32H1299.31M1304.81,948.35V950.7M1301.31,948.35H1308.31M1301.31,950.7H1308.31M1313.8,943.24V945.81M1310.3,943.24H1317.3M1310.3,945.81H1317.3M1322.79,937.89V940.67M1319.29,937.89H1326.29M1319.29,940.67H1326.29M1331.79,932.31V935.3M1328.29,932.31H1335.29M1328.29,935.3H1335.29M1340.78,926.51V929.72M1337.28,926.51H1344.28M1337.28,929.72H1344.28M1349.77,920.53V923.95M1346.27,920.53H1353.27M1346.27,923.95H1353.27M1358.77,914.37V918M1355.27,914.37H1362.27M1355.27,918H1362.27M1367.76,908.06V911.9M1364.26,908.06H1371.26M1364.26,911.9H1371.26M1376.75,901.6V905.66M1373.25,901.6H1380.25M1373.25,905.66H1380.25M1385.75,895.02V899.3M1382.25,895.02H1389.25M1382.25,899.3H1389.25M1394.74,888.34V892.83M1391.24,888.34H1398.24M1391.24,892.83H1398.24M1403.73,881.56V886.26M1400.23,881.56H1407.23M1400.23,886.26H1407.23M1412.73,874.71V879.62M1409.23,874.71H1416.23M1409.23,879.62H1416.23M1421.72,867.78V872.91M1418.22,867.78H1425.22M1418.22,872.91H1425.22M1430.71,860.81V866.16M1427.21,860.81H1434.21M1427.21,866.16H1434.21M1439.71,853.8V859.36M1436.21,853.8H1443.21M1436.21,859.36H1443.21M1448.7,846.77V852.54M1445.2,846.77H1452.2M1445.2,852.54H1452.2M1457.69,839.72V845.7M1454.19,839.72H1461.19M1454.19,845.7H1461.19M1466.69,832.67V838.87M1463.19,832.67H1470.19M1463.19,838.87H1470.19M1475.68,825.62V832.04M1472.18,825.62H1479.18M1472.18,832.04H1479.18M1484.67,818.6V825.22M1481.17,818.6H1488.17M1481.17,825.22H1488.17M1493.67,811.6V818.44M1490.17,811.6H1497.17M1490.17,818.44H1497.17M1502.66,804.63V811.69M1499.16,804.63H1506.16M1499.16,811.69H1506.16M1511.65,797.71V804.98M1508.15,797.71H1515.15M1508.15,804.98H1515.15M1520.65,790.85V798.33M1517.15,790.85H1524.15M1517.15,798.33H1524.15M1529.64,784.04V791.74M1526.14,784.04H1533.14M1526.14,791.74H1533.14M1538.63,777.3V785.21M1535.13,777.3H1542.13M1535.13,785.21H1542.13M1547.63,770.63V778.75M1544.13,770.63H1551.13M1544.13,778.75H1551.13M1556.62,764.04V772.38M1553.12,764.04H1560.12M1553.12,772.38H1560.12M1565.61,757.53V766.08M1562.11,757.53H1569.11M1562.11,766.08H1569.11M1574.61,751.11V759.87M1571.11,751.11H1578.11M1571.11,759.87H1578.11M1583.6,744.78V753.76M1580.1,744.78H1587.1M1580.1,753.76H1587.1M1592.59,738.54V747.74M1589.09,738.54H1596.09M1589.09,747.74H1596.09M1601.59,732.4V741.81M1598.09,732.4H1605.09M1598.09,741.81H1605.09M1610.58,726.37V735.98M1607.08,726.37H1614.08M1607.08,735.98H1614.08M1619.57,720.43V730.26M1616.07,720.43H1623.07M1616.07,730.26H1623.07M1628.57,714.59V724.64M1625.07,714.59H1632.07M1625.07,724.64H1632.07M1637.56,708.85V719.11M1634.06,708.85H1641.06M1634.06,719.11H1641.06M1646.55,703.22V713.7M1643.05,703.22H1650.05M1643.05,713.7H1650.05M1655.55,697.69V708.38M1652.05,697.69H1659.05M1652.05,708.38H1659.05M1664.54,692.26V703.16M1661.04,692.26H1668.04M1661.04,703.16H1668.04M1673.53,686.93V698.04M1670.03,686.93H1677.03M1670.03,698.04H1677.03M1682.53,681.69V693.02M1679.03,681.69H1686.03M1679.03,693.02H1686.03M1691.52,676.55V688.09M1688.02,676.55H1695.02M1688.02,688.09H1695.02M1700.51,671.5V683.26M1697.01,671.5H1704.01M1697.01,683.26H1704.01M1709.51,666.54V678.51M1706.01,666.54H1713.01M1706.01,678.51H1713.01" stroke="#1788E0" stroke-width="1.8" fill="none"/>
<path d="M1205.88,981.93 L1208.13,981.77 L1210.38,981.59 L1212.62,981.37 L1214.87,981.12 L1217.12,980.84 L1219.37,980.52 L1221.62,980.18 L1223.87,979.81 L1226.12,979.4 L1228.36,978.97 L1230.61,978.51 L1232.86,978.02 L1235.11,977.5 L1237.36,976.96 L1239.61,976.38 L1241.85,975.78 L1244.1,975.16 L1246.35,974.5 L1248.6,973.82 L1250.85,973.12 L1253.1,972.39 L1255.34,971.64 L1257.59,970.86 L1259.84,970.06 L1262.09,969.23 L1264.34,968.38 L1266.59,967.51 L1268.83,966.62 L1271.08,965.7 L1273.33,964.76 L1275.58,963.8 L1277.83,962.82 L1280.08,961.82 L1282.32,960.79 L1284.57,959.75 L1286.82,958.69 L1289.07,957.61 L1291.32,956.51 L1293.57,955.39 L1295.81,954.25 L1298.06,953.09 L1300.31,951.92 L1302.56,950.73 L1304.81,949.52 L1307.06,948.3 L1309.3,947.05 L1311.55,945.8 L1313.8,944.52 L1316.05,943.23 L1318.3,941.93 L1320.55,940.61 L1322.79,939.28 L1325.04,937.93 L1327.29,936.57 L1329.54,935.19 L1331.79,933.8 L1334.04,932.4 L1336.28,930.98 L1338.53,929.56 L1340.78,928.12 L1343.03,926.66 L1345.28,925.2 L1347.53,923.72 L1349.77,922.24 L1352.02,920.74 L1354.27,919.23 L1356.52,917.72 L1358.77,916.19 L1361.02,914.65 L1363.26,913.1 L1365.51,911.55 L1367.76,909.98 L1370.01,908.41 L1372.26,906.82 L1374.51,905.23 L1376.75,903.63 L1379,902.03 L1381.25,900.41 L1383.5,898.79 L1385.75,897.16 L1388,895.53 L1390.24,893.89 L1392.49,892.24 L1394.74,890.58 L1396.99,888.92 L1399.24,887.26 L1401.49,885.59 L1403.73,883.91 L1405.98,882.23 L1408.23,880.55 L1410.48,878.86 L1412.73,877.16 L1414.98,875.47 L1417.22,873.76 L1419.47,872.06 L1421.72,870.35 L1423.97,868.64 L1426.22,866.92 L1428.47,865.21 L1430.71,863.49 L1432.96,861.76 L1435.21,860.04 L1437.46,858.31 L1439.71,856.58 L1441.95,854.85 L1444.2,853.12 L1446.45,851.39 L1448.7,849.65 L1450.95,847.92 L1453.2,846.18 L1455.45,844.45 L1457.69,842.71 L1459.94,840.98 L1462.19,839.24 L1464.44,837.5 L1466.69,835.77 L1468.93,834.03 L1471.18,832.3 L1473.43,830.56 L1475.68,828.83 L1477.93,827.1 L1480.18,825.37 L1482.43,823.64 L1484.67,821.91 L1486.92,820.18 L1489.17,818.46 L1491.42,816.74 L1493.67,815.02 L1495.91,813.3 L1498.16,811.58 L1500.41,809.87 L1502.66,808.16 L1504.91,806.45 L1507.16,804.75 L1509.4,803.05 L1511.65,801.35 L1513.9,799.65 L1516.15,797.96 L1518.4,796.27 L1520.65,794.59 L1522.89,792.91 L1525.14,791.23 L1527.39,789.56 L1529.64,787.89 L1531.89,786.22 L1534.14,784.56 L1536.38,782.91 L1538.63,781.25 L1540.88,779.61 L1543.13,777.96 L1545.38,776.33 L1547.63,774.69 L1549.88,773.06 L1552.12,771.44 L1554.37,769.82 L1556.62,768.21 L1558.87,766.6 L1561.12,765 L1563.37,763.4 L1565.61,761.81 L1567.86,760.22 L1570.11,758.64 L1572.36,757.06 L1574.61,755.49 L1576.86,753.93 L1579.1,752.37 L1581.35,750.82 L1583.6,749.27 L1585.85,747.73 L1588.1,746.19 L1590.35,744.66 L1592.59,743.14 L1594.84,741.62 L1597.09,740.11 L1599.34,738.61 L1601.59,737.11 L1603.84,735.61 L1606.08,734.13 L1608.33,732.65 L1610.58,731.17 L1612.83,729.71 L1615.08,728.25 L1617.33,726.79 L1619.57,725.34 L1621.82,723.9 L1624.07,722.46 L1626.32,721.04 L1628.57,719.61 L1630.82,718.2 L1633.06,716.79 L1635.31,715.38 L1637.56,713.98 L1639.81,712.59 L1642.06,711.21 L1644.31,709.83 L1646.55,708.46 L1648.8,707.09 L1651.05,705.73 L1653.3,704.38 L1655.55,703.04 L1657.8,701.69 L1660.04,700.36 L1662.29,699.03 L1664.54,697.71 L1666.79,696.4 L1669.04,695.09 L1671.29,693.78 L1673.53,692.49 L1675.78,691.2 L1678.03,689.91 L1680.28,688.63 L1682.53,687.36 L1684.78,686.09 L1687.02,684.83 L1689.27,683.57 L1691.52,682.32 L1693.77,681.08 L1696.02,679.84 L1698.26,678.61 L1700.51,677.38 L1702.76,676.16 L1705.01,674.94 L1707.26,673.73 L1709.51,672.52 L1711.76,671.32 L1714,670.12 L1716.25,668.93 L1718.5,667.74" stroke="#1788E0" stroke-width="3.2" fill="none" stroke-linejoin="round" stroke-linecap="butt"/>
<path d="M1214.87,981.18V981.27M1211.37,981.18H1218.37M1211.37,981.27H1218.37M1223.87,979.91V980.08M1220.37,979.91H1227.37M1220.37,980.08H1227.37M1232.86,978.14V978.4M1229.36,978.14H1236.36M1229.36,978.4H1236.36M1241.85,975.9V976.24M1238.35,975.9H1245.35M1238.35,976.24H1245.35M1250.85,973.2V973.63M1247.35,973.2H1254.35M1247.35,973.63H1254.35M1259.84,970.08V970.59M1256.34,970.08H1263.34M1256.34,970.59H1263.34M1268.83,966.55V967.15M1265.33,966.55H1272.33M1265.33,967.15H1272.33M1277.83,962.64V963.33M1274.33,962.64H1281.33M1274.33,963.33H1281.33M1286.82,958.37V959.14M1283.32,958.37H1290.32M1283.32,959.14H1290.32M1295.81,953.76V954.62M1292.31,953.76H1299.31M1292.31,954.62H1299.31M1304.81,948.84V949.78M1301.31,948.84H1308.31M1301.31,949.78H1308.31M1313.8,943.61V944.64M1310.3,943.61H1317.3M1310.3,944.64H1317.3M1322.79,938.11V939.22M1319.29,938.11H1326.29M1319.29,939.22H1326.29M1331.79,932.35V933.54M1328.29,932.35H1335.29M1328.29,933.54H1335.29M1340.78,926.34V927.63M1337.28,926.34H1344.28M1337.28,927.63H1344.28M1349.77,920.12V921.49M1346.27,920.12H1353.27M1346.27,921.49H1353.27M1358.77,913.69V915.15M1355.27,913.69H1362.27M1355.27,915.15H1362.27M1367.76,907.08V908.62M1364.26,907.08H1371.26M1364.26,908.62H1371.26M1376.75,900.29V901.91M1373.25,900.29H1380.25M1373.25,901.91H1380.25M1385.75,893.35V895.06M1382.25,893.35H1389.25M1382.25,895.06H1389.25M1394.74,886.27V888.07M1391.24,886.27H1398.24M1391.24,888.07H1398.24M1403.73,879.07V880.95M1400.23,879.07H1407.23M1400.23,880.95H1407.23M1412.73,871.76V873.72M1409.23,871.76H1416.23M1409.23,873.72H1416.23M1421.72,864.35V866.4M1418.22,864.35H1425.22M1418.22,866.4H1425.22M1430.71,856.86V859M1427.21,856.86H1434.21M1427.21,859H1434.21M1439.71,849.31V851.53M1436.21,849.31H1443.21M1436.21,851.53H1443.21M1448.7,841.7V844M1445.2,841.7H1452.2M1445.2,844H1452.2M1457.69,834.04V836.43M1454.19,834.04H1461.19M1454.19,836.43H1461.19M1466.69,826.35V828.83M1463.19,826.35H1470.19M1463.19,828.83H1470.19M1475.68,818.64V821.21M1472.18,818.64H1479.18M1472.18,821.21H1479.18M1484.67,810.92V813.58M1481.17,810.92H1488.17M1481.17,813.58H1488.17M1493.67,803.2V805.94M1490.17,803.2H1497.17M1490.17,805.94H1497.17M1502.66,795.49V798.31M1499.16,795.49H1506.16M1499.16,798.31H1506.16M1511.65,787.8V790.7M1508.15,787.8H1515.15M1508.15,790.7H1515.15M1520.65,780.13V783.12M1517.15,780.13H1524.15M1517.15,783.12H1524.15M1529.64,772.49V775.57M1526.14,772.49H1533.14M1526.14,775.57H1533.14M1538.63,764.9V768.06M1535.13,764.9H1542.13M1535.13,768.06H1542.13M1547.63,757.35V760.6M1544.13,757.35H1551.13M1544.13,760.6H1551.13M1556.62,749.86V753.2M1553.12,749.86H1560.12M1553.12,753.2H1560.12M1565.61,742.43V745.85M1562.11,742.43H1569.11M1562.11,745.85H1569.11M1574.61,735.06V738.57M1571.11,735.06H1578.11M1571.11,738.57H1578.11M1583.6,727.76V731.36M1580.1,727.76H1587.1M1580.1,731.36H1587.1M1592.59,720.54V724.22M1589.09,720.54H1596.09M1589.09,724.22H1596.09M1601.59,713.4V717.16M1598.09,713.4H1605.09M1598.09,717.16H1605.09M1610.58,706.33V710.18M1607.08,706.33H1614.08M1607.08,710.18H1614.08M1619.57,699.35V703.29M1616.07,699.35H1623.07M1616.07,703.29H1623.07M1628.57,692.46V696.48M1625.07,692.46H1632.07M1625.07,696.48H1632.07M1637.56,685.66V689.76M1634.06,685.66H1641.06M1634.06,689.76H1641.06M1646.55,678.94V683.13M1643.05,678.94H1650.05M1643.05,683.13H1650.05M1655.55,672.31V676.59M1652.05,672.31H1659.05M1652.05,676.59H1659.05M1664.54,665.77V670.13M1661.04,665.77H1668.04M1661.04,670.13H1668.04M1673.53,659.33V663.77M1670.03,659.33H1677.03M1670.03,663.77H1677.03M1682.53,652.97V657.5M1679.03,652.97H1686.03M1679.03,657.5H1686.03M1691.52,646.69V651.31M1688.02,646.69H1695.02M1688.02,651.31H1695.02M1700.51,640.5V645.21M1697.01,640.5H1704.01M1697.01,645.21H1704.01M1709.51,634.4V639.19M1706.01,634.4H1713.01M1706.01,639.19H1713.01" stroke="#000000" stroke-width="1.8" fill="none"/>
<path d="M1205.88,981.93 L1208.13,981.8 L1210.38,981.64 L1212.62,981.45 L1214.87,981.22 L1217.12,980.96 L1219.37,980.67 L1221.62,980.35 L1223.87,980 L1226.12,979.61 L1228.36,979.19 L1230.61,978.75 L1232.86,978.27 L1235.11,977.76 L1237.36,977.23 L1239.61,976.66 L1241.85,976.07 L1244.1,975.44 L1246.35,974.8 L1248.6,974.12 L1250.85,973.41 L1253.1,972.68 L1255.34,971.93 L1257.59,971.14 L1259.84,970.33 L1262.09,969.5 L1264.34,968.64 L1266.59,967.76 L1268.83,966.85 L1271.08,965.92 L1273.33,964.96 L1275.58,963.98 L1277.83,962.98 L1280.08,961.96 L1282.32,960.91 L1284.57,959.85 L1286.82,958.76 L1289.07,957.65 L1291.32,956.51 L1293.57,955.36 L1295.81,954.19 L1298.06,953 L1300.31,951.79 L1302.56,950.56 L1304.81,949.31 L1307.06,948.04 L1309.3,946.75 L1311.55,945.45 L1313.8,944.12 L1316.05,942.78 L1318.3,941.43 L1320.55,940.05 L1322.79,938.66 L1325.04,937.26 L1327.29,935.84 L1329.54,934.4 L1331.79,932.94 L1334.04,931.48 L1336.28,929.99 L1338.53,928.5 L1340.78,926.99 L1343.03,925.46 L1345.28,923.92 L1347.53,922.37 L1349.77,920.8 L1352.02,919.23 L1354.27,917.64 L1356.52,916.03 L1358.77,914.42 L1361.02,912.79 L1363.26,911.15 L1365.51,909.51 L1367.76,907.85 L1370.01,906.18 L1372.26,904.49 L1374.51,902.8 L1376.75,901.1 L1379,899.39 L1381.25,897.67 L1383.5,895.94 L1385.75,894.21 L1388,892.46 L1390.24,890.7 L1392.49,888.94 L1394.74,887.17 L1396.99,885.39 L1399.24,883.6 L1401.49,881.81 L1403.73,880.01 L1405.98,878.2 L1408.23,876.39 L1410.48,874.57 L1412.73,872.74 L1414.98,870.91 L1417.22,869.07 L1419.47,867.23 L1421.72,865.38 L1423.97,863.52 L1426.22,861.66 L1428.47,859.8 L1430.71,857.93 L1432.96,856.06 L1435.21,854.18 L1437.46,852.3 L1439.71,850.42 L1441.95,848.53 L1444.2,846.64 L1446.45,844.75 L1448.7,842.85 L1450.95,840.95 L1453.2,839.05 L1455.45,837.14 L1457.69,835.24 L1459.94,833.33 L1462.19,831.42 L1464.44,829.51 L1466.69,827.59 L1468.93,825.68 L1471.18,823.76 L1473.43,821.84 L1475.68,819.93 L1477.93,818.01 L1480.18,816.09 L1482.43,814.17 L1484.67,812.25 L1486.92,810.33 L1489.17,808.41 L1491.42,806.49 L1493.67,804.57 L1495.91,802.65 L1498.16,800.74 L1500.41,798.82 L1502.66,796.9 L1504.91,794.99 L1507.16,793.07 L1509.4,791.16 L1511.65,789.25 L1513.9,787.34 L1516.15,785.43 L1518.4,783.53 L1520.65,781.62 L1522.89,779.72 L1525.14,777.82 L1527.39,775.93 L1529.64,774.03 L1531.89,772.14 L1534.14,770.25 L1536.38,768.36 L1538.63,766.48 L1540.88,764.6 L1543.13,762.72 L1545.38,760.85 L1547.63,758.98 L1549.88,757.11 L1552.12,755.25 L1554.37,753.38 L1556.62,751.53 L1558.87,749.67 L1561.12,747.83 L1563.37,745.98 L1565.61,744.14 L1567.86,742.3 L1570.11,740.47 L1572.36,738.64 L1574.61,736.81 L1576.86,734.99 L1579.1,733.18 L1581.35,731.37 L1583.6,729.56 L1585.85,727.76 L1588.1,725.96 L1590.35,724.17 L1592.59,722.38 L1594.84,720.6 L1597.09,718.82 L1599.34,717.05 L1601.59,715.28 L1603.84,713.52 L1606.08,711.76 L1608.33,710.01 L1610.58,708.26 L1612.83,706.52 L1615.08,704.78 L1617.33,703.05 L1619.57,701.32 L1621.82,699.6 L1624.07,697.89 L1626.32,696.18 L1628.57,694.47 L1630.82,692.77 L1633.06,691.08 L1635.31,689.39 L1637.56,687.71 L1639.81,686.03 L1642.06,684.36 L1644.31,682.69 L1646.55,681.03 L1648.8,679.38 L1651.05,677.73 L1653.3,676.09 L1655.55,674.45 L1657.8,672.82 L1660.04,671.19 L1662.29,669.57 L1664.54,667.95 L1666.79,666.34 L1669.04,664.74 L1671.29,663.14 L1673.53,661.55 L1675.78,659.96 L1678.03,658.38 L1680.28,656.8 L1682.53,655.23 L1684.78,653.67 L1687.02,652.1 L1689.27,650.55 L1691.52,649 L1693.77,647.46 L1696.02,645.92 L1698.26,644.38 L1700.51,642.85 L1702.76,641.33 L1705.01,639.81 L1707.26,638.3 L1709.51,636.79 L1711.76,635.29 L1714,633.79" stroke="#000000" stroke-width="3.5" fill="none" stroke-linejoin="round" stroke-linecap="butt"/>
<rect x="1756.8" y="691.8" width="37.6" height="3.2" fill="#000000"/>
<text x="1812.87" y="705.2" font-size="29">125 cp/µl RNA</text>
<rect x="1756.8" y="742.6" width="37.6" height="3.2" fill="#1788E0"/>
<text x="1812.87" y="756" font-size="29">63 cp/µl RNA</text>
<rect x="1756.8" y="793.2" width="37.6" height="3.2" fill="#7F4F1C"/>
<text x="1812.87" y="806.6" font-size="29">31 cp/µl RNA</text>
<rect x="1756.8" y="843.7" width="37.6" height="3.2" fill="#137D50"/>
<text x="1812.87" y="857.1" font-size="29">16 cp/µl RNA</text>
<rect x="1756.8" y="894.2" width="37.6" height="3.2" fill="#E68EEA"/>
<text x="1812.87" y="907.6" font-size="29">0 cp/µl RNA</text>
<rect x="179.1" y="1238.3" width="4.6" height="350.7" fill="#000"/>
<rect x="179.1" y="1584.4" width="524.1" height="4.6" fill="#000"/>
<rect x="171.8" y="1535.2" width="9.6" height="4.6" fill="#000"/>
<rect x="171.8" y="1436.33" width="9.6" height="4.6" fill="#000"/>
<rect x="171.8" y="1337.47" width="9.6" height="4.6" fill="#000"/>
<rect x="171.8" y="1238.6" width="9.6" height="4.6" fill="#000"/>
<rect x="179.1" y="1586.7" width="4.6" height="9" fill="#000"/>
<rect x="283" y="1586.7" width="4.6" height="9" fill="#000"/>
<rect x="386.9" y="1586.7" width="4.6" height="9" fill="#000"/>
<rect x="490.8" y="1586.7" width="4.6" height="9" fill="#000"/>
<rect x="594.7" y="1586.7" width="4.6" height="9" fill="#000"/>
<rect x="698.6" y="1586.7" width="4.6" height="9" fill="#000"/>
<text x="156" y="1547.8" font-size="29" text-anchor="end">1.0</text>
<text x="156" y="1448.93" font-size="29" text-anchor="end">1.2</text>
<text x="156" y="1350.07" font-size="29" text-anchor="end">1.4</text>
<text x="156" y="1251.2" font-size="29" text-anchor="end">1.6</text>
<text x="180.4" y="1635.8" font-size="29" text-anchor="middle">5</text>
<text x="283" y="1635.8" font-size="29" text-anchor="middle">10</text>
<text x="387.2" y="1635.8" font-size="29" text-anchor="middle">15</text>
<text x="490.1" y="1635.8" font-size="29" text-anchor="middle">20</text>
<text x="594.1" y="1635.8" font-size="29" text-anchor="middle">25</text>
<text x="698.1" y="1635.8" font-size="29" text-anchor="middle">30</text>
<text x="359.69" y="1685.6" font-size="28.3">Time (min)</text>
<text transform="translate(75.6,1533.4) rotate(-90)" font-size="28.3">Fluorescence (F/F<tspan font-size="20" dy="10.3">t=6</tspan><tspan dy="-8.0" dx="3.6">)</tspan></text>
<path d="M243.74,1532.56V1537.5M240.24,1532.56H247.24M240.24,1537.5H247.24M285.3,1530.73V1535.67M281.8,1530.73H288.8M281.8,1535.67H288.8M326.86,1528.26V1533.2M323.36,1528.26H330.36M323.36,1533.2H330.36M368.42,1525.44V1530.38M364.92,1525.44H371.92M364.92,1530.38H371.92M409.98,1523.36V1528.31M406.48,1523.36H413.48M406.48,1528.31H413.48M451.54,1521.38V1526.33M448.04,1521.38H455.04M448.04,1526.33H455.04M493.1,1522.08V1527.02M489.6,1522.08H496.6M489.6,1527.02H496.6M534.66,1518.47V1523.41M531.16,1518.47H538.16M531.16,1523.41H538.16M576.22,1519.36V1524.3M572.72,1519.36H579.72M572.72,1524.3H579.72M617.78,1518.32V1523.26M614.28,1518.32H621.28M614.28,1523.26H621.28M659.34,1516.89V1521.83M655.84,1516.89H662.84M655.84,1521.83H662.84" stroke="#E68EEA" stroke-width="1.8" fill="none"/>
<path d="M202.18,1537.5 L212.57,1536.88 L222.96,1536.26 L233.35,1535.65 L243.74,1535.03 L254.13,1534.57 L264.52,1534.11 L274.91,1533.66 L285.3,1533.2 L295.69,1532.58 L306.08,1531.96 L316.47,1531.35 L326.86,1530.73 L337.25,1530.02 L347.64,1529.32 L358.03,1528.61 L368.42,1527.91 L378.81,1527.39 L389.2,1526.87 L399.59,1526.35 L409.98,1525.83 L420.37,1525.34 L430.76,1524.85 L441.15,1524.35 L451.54,1523.86 L461.93,1524.03 L472.32,1524.2 L482.71,1524.38 L493.1,1524.55 L503.49,1523.65 L513.88,1522.74 L524.27,1521.84 L534.66,1520.94 L545.05,1521.16 L555.44,1521.38 L565.83,1521.61 L576.22,1521.83 L586.61,1521.57 L597,1521.31 L607.39,1521.05 L617.78,1520.79 L628.17,1520.43 L638.56,1520.07 L648.95,1519.72 L659.34,1519.36 L669.73,1519.32 L680.12,1519.28 L690.51,1519.25 L700.9,1519.21" stroke="#E68EEA" stroke-width="3" fill="none" stroke-linejoin="round" stroke-linecap="butt"/>
<path d="M243.74,1534.04V1537.01M240.24,1534.04H247.24M240.24,1537.01H247.24M285.3,1533.2V1536.17M281.8,1533.2H288.8M281.8,1536.17H288.8M326.86,1532.7V1535.67M323.36,1532.7H330.36M323.36,1535.67H330.36M368.42,1530.38V1533.35M364.92,1530.38H371.92M364.92,1533.35H371.92M409.98,1528.31V1531.27M406.48,1528.31H413.48M406.48,1531.27H413.48M451.54,1527.32V1530.28M448.04,1527.32H455.04M448.04,1530.28H455.04M493.1,1526.53V1529.49M489.6,1526.53H496.6M489.6,1529.49H496.6M534.66,1524.4V1527.37M531.16,1524.4H538.16M531.16,1527.37H538.16M576.22,1523.31V1526.28M572.72,1523.31H579.72M572.72,1526.28H579.72M617.78,1520.3V1523.26M614.28,1520.3H621.28M614.28,1523.26H621.28M659.34,1518.86V1521.83M655.84,1518.86H662.84M655.84,1521.83H662.84" stroke="#137D50" stroke-width="1.8" fill="none"/>
<path d="M202.18,1537.5 L212.57,1537.01 L222.96,1536.51 L233.35,1536.02 L243.74,1535.52 L254.13,1535.31 L264.52,1535.1 L274.91,1534.89 L285.3,1534.68 L295.69,1534.56 L306.08,1534.44 L316.47,1534.31 L326.86,1534.19 L337.25,1533.61 L347.64,1533.03 L358.03,1532.45 L368.42,1531.86 L378.81,1531.35 L389.2,1530.83 L399.59,1530.31 L409.98,1529.79 L420.37,1529.54 L430.76,1529.29 L441.15,1529.05 L451.54,1528.8 L461.93,1528.6 L472.32,1528.4 L482.71,1528.21 L493.1,1528.01 L503.49,1527.48 L513.88,1526.95 L524.27,1526.41 L534.66,1525.88 L545.05,1525.61 L555.44,1525.34 L565.83,1525.07 L576.22,1524.8 L586.61,1524.04 L597,1523.29 L607.39,1522.53 L617.78,1521.78 L628.17,1521.42 L638.56,1521.06 L648.95,1520.71 L659.34,1520.35 L669.73,1520.31 L680.12,1520.27 L690.51,1520.24 L700.9,1520.2" stroke="#137D50" stroke-width="3" fill="none" stroke-linejoin="round" stroke-linecap="butt"/>
<path d="M243.74,1534.04V1537.01M240.24,1534.04H247.24M240.24,1537.01H247.24M285.3,1533.2V1536.17M281.8,1533.2H288.8M281.8,1536.17H288.8M326.86,1532.7V1535.67M323.36,1532.7H330.36M323.36,1535.67H330.36M368.42,1530.38V1533.35M364.92,1530.38H371.92M364.92,1533.35H371.92M409.98,1527.81V1530.78M406.48,1527.81H413.48M406.48,1530.78H413.48M451.54,1527.32V1530.28M448.04,1527.32H455.04M448.04,1530.28H455.04M493.1,1526.03V1529M489.6,1526.03H496.6M489.6,1529H496.6M534.66,1524.4V1527.37M531.16,1524.4H538.16M531.16,1527.37H538.16M576.22,1522.82V1525.78M572.72,1522.82H579.72M572.72,1525.78H579.72M617.78,1519.8V1522.77M614.28,1519.8H621.28M614.28,1522.77H621.28M659.34,1518.37V1521.34M655.84,1518.37H662.84M655.84,1521.34H662.84" stroke="#7F4F1C" stroke-width="1.8" fill="none"/>
<path d="M202.18,1537.5 L212.57,1537.01 L222.96,1536.51 L233.35,1536.02 L243.74,1535.52 L254.13,1535.31 L264.52,1535.1 L274.91,1534.89 L285.3,1534.68 L295.69,1534.56 L306.08,1534.44 L316.47,1534.31 L326.86,1534.19 L337.25,1533.61 L347.64,1533.03 L358.03,1532.45 L368.42,1531.86 L378.81,1531.22 L389.2,1530.58 L399.59,1529.94 L409.98,1529.29 L420.37,1529.17 L430.76,1529.05 L441.15,1528.92 L451.54,1528.8 L461.93,1528.48 L472.32,1528.16 L482.71,1527.84 L493.1,1527.51 L503.49,1527.11 L513.88,1526.7 L524.27,1526.29 L534.66,1525.88 L545.05,1525.49 L555.44,1525.09 L565.83,1524.7 L576.22,1524.3 L586.61,1523.55 L597,1522.79 L607.39,1522.04 L617.78,1521.29 L628.17,1520.93 L638.56,1520.57 L648.95,1520.21 L659.34,1519.85 L669.73,1519.69 L680.12,1519.53 L690.51,1519.37 L700.9,1519.21" stroke="#7F4F1C" stroke-width="3" fill="none" stroke-linejoin="round" stroke-linecap="butt"/>
<path d="M243.74,1533.55V1537.5M240.24,1533.55H247.24M240.24,1537.5H247.24M285.3,1532.7V1536.66M281.8,1532.7H288.8M281.8,1536.66H288.8M326.86,1532.21V1536.17M323.36,1532.21H330.36M323.36,1536.17H330.36M368.42,1529.89V1533.84M364.92,1529.89H371.92M364.92,1533.84H371.92M409.98,1527.32V1531.27M406.48,1527.32H413.48M406.48,1531.27H413.48M451.54,1526.33V1530.28M448.04,1526.33H455.04M448.04,1530.28H455.04M493.1,1525.54V1529.49M489.6,1525.54H496.6M489.6,1529.49H496.6M534.66,1523.41V1527.37M531.16,1523.41H538.16M531.16,1527.37H538.16M576.22,1521.83V1525.78M572.72,1521.83H579.72M572.72,1525.78H579.72M617.78,1518.32V1522.27M614.28,1518.32H621.28M614.28,1522.27H621.28M659.34,1516.89V1520.84M655.84,1516.89H662.84M655.84,1520.84H662.84" stroke="#1788E0" stroke-width="1.8" fill="none"/>
<path d="M202.18,1537.5 L212.57,1537.01 L222.96,1536.51 L233.35,1536.02 L243.74,1535.52 L254.13,1535.31 L264.52,1535.1 L274.91,1534.89 L285.3,1534.68 L295.69,1534.56 L306.08,1534.44 L316.47,1534.31 L326.86,1534.19 L337.25,1533.61 L347.64,1533.03 L358.03,1532.45 L368.42,1531.86 L378.81,1531.22 L389.2,1530.58 L399.59,1529.94 L409.98,1529.29 L420.37,1529.05 L430.76,1528.8 L441.15,1528.55 L451.54,1528.31 L461.93,1528.11 L472.32,1527.91 L482.71,1527.71 L493.1,1527.51 L503.49,1526.98 L513.88,1526.45 L524.27,1525.92 L534.66,1525.39 L545.05,1524.99 L555.44,1524.6 L565.83,1524.2 L576.22,1523.81 L586.61,1522.93 L597,1522.05 L607.39,1521.17 L617.78,1520.3 L628.17,1519.94 L638.56,1519.58 L648.95,1519.22 L659.34,1518.86 L669.73,1518.58 L680.12,1518.3 L690.51,1518.01 L700.9,1517.73" stroke="#1788E0" stroke-width="3.2" fill="none" stroke-linejoin="round" stroke-linecap="butt"/>
<path d="M243.74,1534.53V1536.51M240.24,1534.53H247.24M240.24,1536.51H247.24M285.3,1533.03V1535.34M281.8,1533.03H288.8M281.8,1535.34H288.8M326.86,1531.88V1534.52M323.36,1531.88H330.36M323.36,1534.52H330.36M368.42,1528.9V1531.86M364.92,1528.9H371.92M364.92,1531.86H371.92M409.98,1526V1529.62M406.48,1526H413.48M406.48,1529.62H413.48M451.54,1524.68V1528.96M448.04,1524.68H455.04M448.04,1528.96H455.04M493.1,1523.56V1528.5M489.6,1523.56H496.6M489.6,1528.5H496.6M534.66,1520.45V1525.39M531.16,1520.45H538.16M531.16,1525.39H538.16M576.22,1517.38V1524.3M572.72,1517.38H579.72M572.72,1524.3H579.72M617.78,1515.35V1522.27M614.28,1515.35H621.28M614.28,1522.27H621.28M659.34,1509.97V1518.86M655.84,1509.97H662.84M655.84,1518.86H662.84" stroke="#000000" stroke-width="2.2" fill="none"/>
<path d="M202.18,1537.5 L212.57,1537.01 L222.96,1536.51 L233.35,1536.02 L243.74,1535.52 L254.13,1535.19 L264.52,1534.86 L274.91,1534.52 L285.3,1534.19 L295.69,1533.94 L306.08,1533.69 L316.47,1533.45 L326.86,1533.2 L337.25,1532.49 L347.64,1531.79 L358.03,1531.09 L368.42,1530.38 L378.81,1529.74 L389.2,1529.1 L399.59,1528.45 L409.98,1527.81 L420.37,1527.56 L430.76,1527.32 L441.15,1527.07 L451.54,1526.82 L461.93,1526.62 L472.32,1526.43 L482.71,1526.23 L493.1,1526.03 L503.49,1525.25 L513.88,1524.47 L524.27,1523.7 L534.66,1522.92 L545.05,1522.4 L555.44,1521.88 L565.83,1521.36 L576.22,1520.84 L586.61,1520.33 L597,1519.83 L607.39,1519.32 L617.78,1518.81 L628.17,1517.71 L638.56,1516.61 L648.95,1515.51 L659.34,1514.41 L669.73,1514.25 L680.12,1514.09 L690.51,1513.93 L700.9,1513.77" stroke="#000000" stroke-width="3.4" fill="none" stroke-linejoin="round" stroke-linecap="butt"/>
<rect x="736.1" y="1287.2" width="36.7" height="3.2" fill="#000000"/>
<text x="791.37" y="1300.6" font-size="29">125 cp/µl RNA</text>
<rect x="736.1" y="1338" width="36.7" height="3.2" fill="#1788E0"/>
<text x="791.37" y="1351.4" font-size="29">63 cp/µl RNA</text>
<rect x="736.1" y="1388.5" width="36.7" height="3.2" fill="#7F4F1C"/>
<text x="791.37" y="1401.9" font-size="29">31 cp/µl RNA</text>
<rect x="736.1" y="1439.4" width="36.7" height="3.2" fill="#137D50"/>
<text x="791.37" y="1452.8" font-size="29">16 cp/µl RNA</text>
<rect x="736.1" y="1489.9" width="36.7" height="3.2" fill="#E68EEA"/>
<text x="791.37" y="1503.3" font-size="29">0 cp/µl RNA</text>
<rect x="1166.3" y="1210.2" width="5.2" height="377.5" fill="#000"/>
<rect x="1166.3" y="1582.5" width="567.3" height="5.2" fill="#000"/>
<rect x="1158.9" y="1572" width="10" height="5.2" fill="#000"/>
<rect x="1158.9" y="1467.7" width="10" height="5.2" fill="#000"/>
<rect x="1158.9" y="1363.4" width="10" height="5.2" fill="#000"/>
<rect x="1158.9" y="1259.1" width="10" height="5.2" fill="#000"/>
<rect x="1166.3" y="1585.1" width="5.2" height="9.3" fill="#000"/>
<rect x="1278.72" y="1585.1" width="5.2" height="9.3" fill="#000"/>
<rect x="1391.14" y="1585.1" width="5.2" height="9.3" fill="#000"/>
<rect x="1503.56" y="1585.1" width="5.2" height="9.3" fill="#000"/>
<rect x="1615.98" y="1585.1" width="5.2" height="9.3" fill="#000"/>
<rect x="1728.4" y="1585.1" width="5.2" height="9.3" fill="#000"/>
<text x="1145.8" y="1586.9" font-size="29" text-anchor="end">1</text>
<text x="1145.8" y="1482.6" font-size="29" text-anchor="end">2</text>
<text x="1145.8" y="1378.3" font-size="29" text-anchor="end">3</text>
<text x="1145.8" y="1274" font-size="29" text-anchor="end">4</text>
<text x="1167.5" y="1638" font-size="29" text-anchor="middle">5</text>
<text x="1277.8" y="1638" font-size="29" text-anchor="middle">10</text>
<text x="1390.2" y="1638" font-size="29" text-anchor="middle">15</text>
<text x="1502.2" y="1638" font-size="29" text-anchor="middle">20</text>
<text x="1614.9" y="1638" font-size="29" text-anchor="middle">25</text>
<text x="1727" y="1638" font-size="29" text-anchor="middle">30</text>
<text x="1321.06" y="1197.2" font-size="29">LbuCas13a+TtCsm6</text>
<text x="1361.69" y="1691.8" font-size="28.3">Time (min)</text>
<text transform="translate(1106.1,1529.7) rotate(-90)" font-size="28.3">Fluorescence (F/F<tspan font-size="20" dy="10.3">t=6</tspan><tspan dy="-8.0" dx="3.6">)</tspan></text>
<path d="M1236.35,1564.69V1566.78M1232.85,1564.69H1239.85M1232.85,1566.78H1239.85M1281.32,1554.26V1556.35M1277.82,1554.26H1284.82M1277.82,1556.35H1284.82M1326.29,1541.02V1543.52M1322.79,1541.02H1329.79M1322.79,1543.52H1329.79M1371.26,1526.73V1529.86M1367.76,1526.73H1374.76M1367.76,1529.86H1374.76M1416.22,1511.29V1515.46M1412.72,1511.29H1419.72M1412.72,1515.46H1419.72M1461.19,1493.25V1497.42M1457.69,1493.25H1464.69M1457.69,1497.42H1464.69M1506.16,1471.86V1478.12M1502.66,1471.86H1509.66M1502.66,1478.12H1509.66M1551.13,1449.13V1459.56M1547.63,1449.13H1554.63M1547.63,1459.56H1554.63M1596.1,1423.37V1435.88M1592.6,1423.37H1599.6M1592.6,1435.88H1599.6M1641.06,1393.95V1411.68M1637.56,1393.95H1644.56M1637.56,1411.68H1644.56M1686.03,1365.58V1386.44M1682.53,1365.58H1689.53M1682.53,1386.44H1689.53" stroke="#E68EEA" stroke-width="1.8" fill="none"/>
<path d="M1191.38,1574.6 L1202.63,1572.53 L1213.87,1570.35 L1225.11,1568.09 L1236.35,1565.73 L1247.59,1563.3 L1258.84,1560.77 L1270.08,1558.11 L1281.32,1555.3 L1292.56,1552.27 L1303.8,1549.02 L1315.05,1545.66 L1326.29,1542.27 L1337.53,1538.86 L1348.77,1535.4 L1360.01,1531.87 L1371.26,1528.29 L1382.5,1524.7 L1393.74,1521.07 L1404.98,1517.33 L1416.22,1513.38 L1427.47,1509.16 L1438.71,1504.7 L1449.95,1500.07 L1461.19,1495.33 L1472.43,1490.43 L1483.68,1485.33 L1494.92,1480.16 L1506.16,1474.99 L1517.4,1469.94 L1528.64,1464.92 L1539.89,1459.77 L1551.13,1454.34 L1562.37,1448.52 L1573.61,1442.38 L1584.85,1436.05 L1596.1,1429.62 L1607.34,1423.07 L1618.58,1416.36 L1629.82,1409.57 L1641.06,1402.82 L1652.31,1396.23 L1663.55,1389.71 L1674.79,1383.04 L1686.03,1376.01 L1697.27,1368.54 L1708.52,1360.72 L1719.76,1352.57 L1731,1344.1" stroke="#E68EEA" stroke-width="3.4" fill="none" stroke-linejoin="round" stroke-linecap="butt"/>
<path d="M1236.35,1564.17V1566.67M1232.85,1564.17H1239.85M1232.85,1566.67H1239.85M1281.32,1553.53V1556.03M1277.82,1553.53H1284.82M1277.82,1556.03H1284.82M1326.29,1539.97V1542.48M1322.79,1539.97H1329.79M1322.79,1542.48H1329.79M1371.26,1524.01V1526.52M1367.76,1524.01H1374.76M1367.76,1526.52H1374.76M1416.22,1506.91V1509.41M1412.72,1506.91H1419.72M1412.72,1509.41H1419.72M1461.19,1486.78V1489.28M1457.69,1486.78H1464.69M1457.69,1489.28H1464.69M1506.16,1466.44V1468.94M1502.66,1466.44H1509.66M1502.66,1468.94H1509.66M1551.13,1440.89V1443.39M1547.63,1440.89H1554.63M1547.63,1443.39H1554.63M1596.1,1411.89V1414.4M1592.6,1411.89H1599.6M1592.6,1414.4H1599.6M1641.06,1380.91V1383.42M1637.56,1380.91H1644.56M1637.56,1383.42H1644.56M1686.03,1348.06V1350.56M1682.53,1348.06H1689.53M1682.53,1350.56H1689.53" stroke="#137D50" stroke-width="1.8" fill="none"/>
<path d="M1191.38,1574.6 L1202.63,1572.44 L1213.87,1570.19 L1225.11,1567.85 L1236.35,1565.42 L1247.59,1562.93 L1258.84,1560.36 L1270.08,1557.66 L1281.32,1554.78 L1292.56,1551.68 L1303.8,1548.35 L1315.05,1544.85 L1326.29,1541.22 L1337.53,1537.44 L1348.77,1533.48 L1360.01,1529.39 L1371.26,1525.27 L1382.5,1521.14 L1393.74,1516.96 L1404.98,1512.66 L1416.22,1508.16 L1427.47,1503.36 L1438.71,1498.31 L1449.95,1493.15 L1461.19,1488.03 L1472.43,1483.07 L1483.68,1478.16 L1494.92,1473.11 L1506.16,1467.69 L1517.4,1461.79 L1528.64,1455.48 L1539.89,1448.89 L1551.13,1442.14 L1562.37,1435.19 L1573.61,1427.99 L1584.85,1420.61 L1596.1,1413.14 L1607.34,1405.59 L1618.58,1397.9 L1629.82,1390.09 L1641.06,1382.17 L1652.31,1374.12 L1663.55,1365.94 L1674.79,1357.66 L1686.03,1349.31 L1697.27,1340.9 L1708.52,1332.42 L1719.76,1323.85 L1731,1315.21" stroke="#137D50" stroke-width="3.4" fill="none" stroke-linejoin="round" stroke-linecap="butt"/>
<path d="M1236.35,1563.13V1567.3M1232.85,1563.13H1239.85M1232.85,1567.3H1239.85M1281.32,1552.18V1556.35M1277.82,1552.18H1284.82M1277.82,1556.35H1284.82M1326.29,1538.09V1542.27M1322.79,1538.09H1329.79M1322.79,1542.27H1329.79M1371.26,1520.36V1524.54M1367.76,1520.36H1374.76M1367.76,1524.54H1374.76M1416.22,1502.42V1506.6M1412.72,1502.42H1419.72M1412.72,1506.6H1419.72M1461.19,1480.73V1484.9M1457.69,1480.73H1464.69M1457.69,1484.9H1464.69M1506.16,1456.74V1460.91M1502.66,1456.74H1509.66M1502.66,1460.91H1509.66M1551.13,1428.58V1432.75M1547.63,1428.58H1554.63M1547.63,1432.75H1554.63M1596.1,1397.6V1401.77M1592.6,1397.6H1599.6M1592.6,1401.77H1599.6M1641.06,1364.96V1369.13M1637.56,1364.96H1644.56M1637.56,1369.13H1644.56M1686.03,1326.37V1330.54M1682.53,1326.37H1689.53M1682.53,1330.54H1689.53" stroke="#7F4F1C" stroke-width="1.8" fill="none"/>
<path d="M1191.38,1574.6 L1202.63,1572.4 L1213.87,1570.09 L1225.11,1567.7 L1236.35,1565.21 L1247.59,1562.66 L1258.84,1560.01 L1270.08,1557.23 L1281.32,1554.26 L1292.56,1551.06 L1303.8,1547.64 L1315.05,1544.01 L1326.29,1540.18 L1337.53,1536.04 L1348.77,1531.58 L1360.01,1526.99 L1371.26,1522.45 L1382.5,1518.06 L1393.74,1513.71 L1404.98,1509.24 L1416.22,1504.51 L1427.47,1499.43 L1438.71,1494.06 L1449.95,1488.49 L1461.19,1482.82 L1472.43,1477.08 L1483.68,1471.21 L1494.92,1465.15 L1506.16,1458.83 L1517.4,1452.17 L1528.64,1445.2 L1539.89,1438 L1551.13,1430.67 L1562.37,1423.17 L1573.61,1415.46 L1584.85,1407.62 L1596.1,1399.69 L1607.34,1391.78 L1618.58,1383.81 L1629.82,1375.63 L1641.06,1367.04 L1652.31,1357.81 L1663.55,1348.04 L1674.79,1338.13 L1686.03,1328.45 L1697.27,1319.07 L1708.52,1309.78 L1719.76,1300.6 L1731,1291.53" stroke="#7F4F1C" stroke-width="3.4" fill="none" stroke-linejoin="round" stroke-linecap="butt"/>
<path d="M1236.35,1563.44V1565.94M1232.85,1563.44H1239.85M1232.85,1565.94H1239.85M1281.32,1551.65V1554.16M1277.82,1551.65H1284.82M1277.82,1554.16H1284.82M1326.29,1536.32V1538.83M1322.79,1536.32H1329.79M1322.79,1538.83H1329.79M1371.26,1518.07V1520.57M1367.76,1518.07H1374.76M1367.76,1520.57H1374.76M1416.22,1497.52V1500.03M1412.72,1497.52H1419.72M1412.72,1500.03H1419.72M1461.19,1474.05V1476.56M1457.69,1474.05H1464.69M1457.69,1476.56H1464.69M1506.16,1446.31V1448.81M1502.66,1446.31H1509.66M1502.66,1448.81H1509.66M1551.13,1415.86V1418.36M1547.63,1415.86H1554.63M1547.63,1418.36H1554.63M1596.1,1381.96V1384.46M1592.6,1381.96H1599.6M1592.6,1384.46H1599.6M1641.06,1343.37V1345.87M1637.56,1343.37H1644.56M1637.56,1345.87H1644.56M1686.03,1302.69V1305.19M1682.53,1302.69H1689.53M1682.53,1305.19H1689.53" stroke="#1788E0" stroke-width="1.8" fill="none"/>
<path d="M1191.38,1574.6 L1202.63,1572.3 L1213.87,1569.87 L1225.11,1567.33 L1236.35,1564.69 L1247.59,1561.96 L1258.84,1559.12 L1270.08,1556.12 L1281.32,1552.91 L1292.56,1549.42 L1303.8,1545.66 L1315.05,1541.69 L1326.29,1537.57 L1337.53,1533.28 L1348.77,1528.78 L1360.01,1524.11 L1371.26,1519.32 L1382.5,1514.42 L1393.74,1509.37 L1404.98,1504.16 L1416.22,1498.77 L1427.47,1493.22 L1438.71,1487.48 L1449.95,1481.52 L1461.19,1475.31 L1472.43,1468.76 L1483.68,1461.89 L1494.92,1454.79 L1506.16,1447.56 L1517.4,1440.22 L1528.64,1432.72 L1539.89,1425.02 L1551.13,1417.11 L1562.37,1408.99 L1573.61,1400.66 L1584.85,1392.08 L1596.1,1383.21 L1607.34,1373.96 L1618.58,1364.35 L1629.82,1354.53 L1641.06,1344.62 L1652.31,1334.61 L1663.55,1324.45 L1674.79,1314.2 L1686.03,1303.94 L1697.27,1293.69 L1708.52,1283.41 L1719.76,1273.09 L1731,1262.74" stroke="#1788E0" stroke-width="3.4" fill="none" stroke-linejoin="round" stroke-linecap="butt"/>
<path d="M1236.35,1563.02V1566.15M1232.85,1563.02H1239.85M1232.85,1566.15H1239.85M1281.32,1551.13V1554.26M1277.82,1551.13H1284.82M1277.82,1554.26H1284.82M1326.29,1535.59V1538.72M1322.79,1535.59H1329.79M1322.79,1538.72H1329.79M1371.26,1517.03V1520.16M1367.76,1517.03H1374.76M1367.76,1520.16H1374.76M1416.22,1496.38V1499.5M1412.72,1496.38H1419.72M1412.72,1499.5H1419.72M1461.19,1472.49V1475.62M1457.69,1472.49H1464.69M1457.69,1475.62H1464.69M1506.16,1444.54V1447.67M1502.66,1444.54H1509.66M1502.66,1447.67H1509.66M1551.13,1413.67V1416.79M1547.63,1413.67H1554.63M1547.63,1416.79H1554.63M1596.1,1379.66V1382.79M1592.6,1379.66H1599.6M1592.6,1382.79H1599.6M1641.06,1340.45V1343.58M1637.56,1340.45H1644.56M1637.56,1343.58H1644.56M1686.03,1299.25V1302.38M1682.53,1299.25H1689.53M1682.53,1302.38H1689.53" stroke="#000000" stroke-width="2" fill="none"/>
<path d="M1191.38,1574.6 L1202.63,1572.27 L1213.87,1569.82 L1225.11,1567.26 L1236.35,1564.59 L1247.59,1561.83 L1258.84,1558.97 L1270.08,1555.94 L1281.32,1552.7 L1292.56,1549.17 L1303.8,1545.36 L1315.05,1541.33 L1326.29,1537.16 L1337.53,1532.79 L1348.77,1528.2 L1360.01,1523.45 L1371.26,1518.59 L1382.5,1513.65 L1393.74,1508.59 L1404.98,1503.36 L1416.22,1497.94 L1427.47,1492.3 L1438.71,1486.45 L1449.95,1480.37 L1461.19,1474.05 L1472.43,1467.44 L1483.68,1460.53 L1494.92,1453.39 L1506.16,1446.1 L1517.4,1438.67 L1528.64,1431.04 L1539.89,1423.23 L1551.13,1415.23 L1562.37,1407.07 L1573.61,1398.74 L1584.85,1390.15 L1596.1,1381.23 L1607.34,1371.86 L1618.58,1362.09 L1629.82,1352.08 L1641.06,1342.01 L1652.31,1331.88 L1663.55,1321.6 L1674.79,1311.23 L1686.03,1300.81 L1697.27,1290.35 L1708.52,1279.82 L1719.76,1269.23 L1731,1258.57" stroke="#000000" stroke-width="3.6" fill="none" stroke-linejoin="round" stroke-linecap="butt"/>
<rect x="1774.5" y="1299.8" width="37.6" height="3.2" fill="#000000"/>
<text x="1830.17" y="1313.2" font-size="29">125 cp/µl RNA</text>
<rect x="1774.5" y="1350.6" width="37.6" height="3.2" fill="#1788E0"/>
<text x="1830.17" y="1364" font-size="29">63 cp/µl RNA</text>
<rect x="1774.5" y="1401.1" width="37.6" height="3.2" fill="#7F4F1C"/>
<text x="1830.17" y="1414.5" font-size="29">31 cp/µl RNA</text>
<rect x="1774.5" y="1451.7" width="37.6" height="3.2" fill="#137D50"/>
<text x="1830.17" y="1465.1" font-size="29">16 cp/µl RNA</text>
<rect x="1774.5" y="1502.2" width="37.6" height="3.2" fill="#E68EEA"/>
<text x="1830.17" y="1515.6" font-size="29">0 cp/µl RNA</text>
</svg>
</body></html>
